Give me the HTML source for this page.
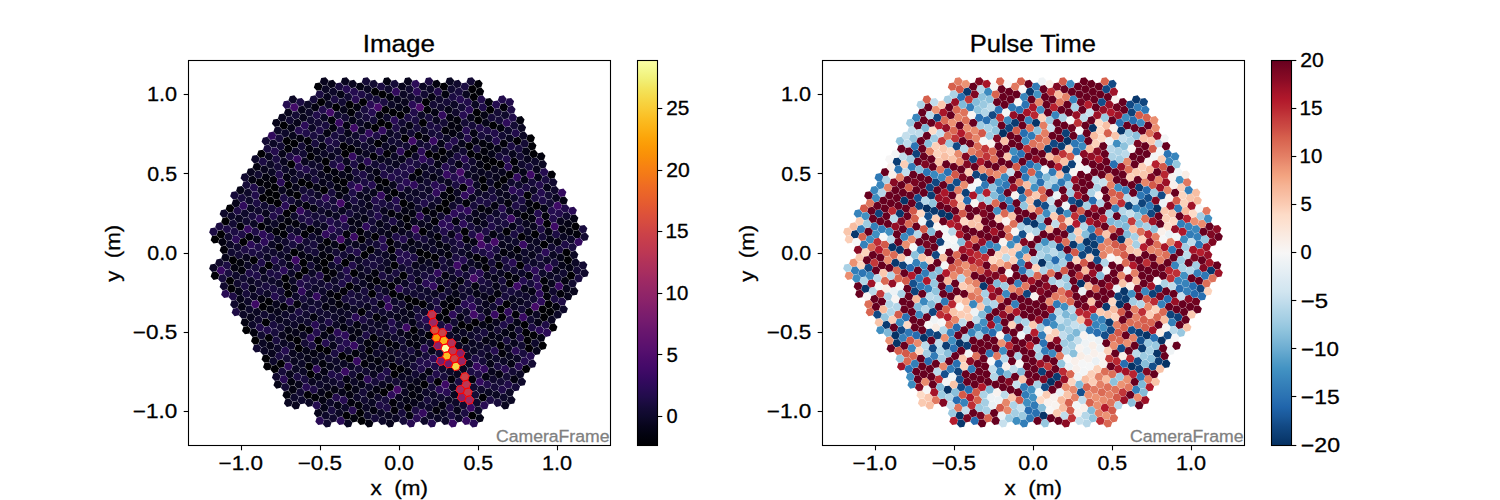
<!DOCTYPE html><html><head><meta charset="utf-8"><style>html,body{margin:0;padding:0;background:#fff;width:1500px;height:500px;overflow:hidden}svg{display:block}</style></head><body><svg width="1500" height="500" viewBox="0 0 1500 500">
<defs><path id="h" d="M4.38 -0.84 1.46 -4.21 -2.92 -3.37 -4.38 0.84 -1.46 4.21 2.92 3.37Z"/>
<path id="hr" d="M4.38 -0.84 1.46 -4.21 -2.92 -3.37 -4.38 0.84 -1.46 4.21 2.92 3.37Z" fill="none" stroke="#ff0000" stroke-width="1.0"/>
<linearGradient id="gi" x1="0" y1="0" x2="0" y2="1"><stop offset="0.000" stop-color="#fcffa4"/><stop offset="0.025" stop-color="#f4f88e"/><stop offset="0.050" stop-color="#f1ef75"/><stop offset="0.075" stop-color="#f3e35a"/><stop offset="0.100" stop-color="#f6d746"/><stop offset="0.125" stop-color="#f9cb35"/><stop offset="0.150" stop-color="#fbbe23"/><stop offset="0.175" stop-color="#fcb216"/><stop offset="0.200" stop-color="#fca50a"/><stop offset="0.225" stop-color="#fb9906"/><stop offset="0.250" stop-color="#f98e09"/><stop offset="0.275" stop-color="#f78212"/><stop offset="0.300" stop-color="#f37819"/><stop offset="0.325" stop-color="#ef6c23"/><stop offset="0.350" stop-color="#ea632a"/><stop offset="0.375" stop-color="#e45a31"/><stop offset="0.400" stop-color="#dd513a"/><stop offset="0.425" stop-color="#d54a41"/><stop offset="0.450" stop-color="#cc4248"/><stop offset="0.475" stop-color="#c43c4e"/><stop offset="0.500" stop-color="#bc3754"/><stop offset="0.525" stop-color="#b1325a"/><stop offset="0.550" stop-color="#a82e5f"/><stop offset="0.575" stop-color="#9d2964"/><stop offset="0.600" stop-color="#932667"/><stop offset="0.625" stop-color="#8a226a"/><stop offset="0.650" stop-color="#7f1e6c"/><stop offset="0.675" stop-color="#751b6e"/><stop offset="0.700" stop-color="#6a176e"/><stop offset="0.725" stop-color="#61136e"/><stop offset="0.750" stop-color="#57106e"/><stop offset="0.775" stop-color="#4c0c6b"/><stop offset="0.800" stop-color="#420a68"/><stop offset="0.825" stop-color="#360961"/><stop offset="0.850" stop-color="#2b0b57"/><stop offset="0.875" stop-color="#210c4a"/><stop offset="0.900" stop-color="#160b39"/><stop offset="0.925" stop-color="#0e092b"/><stop offset="0.950" stop-color="#07051b"/><stop offset="0.975" stop-color="#02020e"/><stop offset="1.000" stop-color="#000004"/></linearGradient><linearGradient id="gr" x1="0" y1="0" x2="0" y2="1"><stop offset="0.000" stop-color="#67001f"/><stop offset="0.025" stop-color="#790622"/><stop offset="0.050" stop-color="#8a0b25"/><stop offset="0.075" stop-color="#9f1228"/><stop offset="0.100" stop-color="#b1182b"/><stop offset="0.125" stop-color="#ba2832"/><stop offset="0.150" stop-color="#c43b3c"/><stop offset="0.175" stop-color="#cc4c44"/><stop offset="0.200" stop-color="#d6604d"/><stop offset="0.225" stop-color="#dd7059"/><stop offset="0.250" stop-color="#e48066"/><stop offset="0.275" stop-color="#ec9374"/><stop offset="0.300" stop-color="#f3a481"/><stop offset="0.325" stop-color="#f6b394"/><stop offset="0.350" stop-color="#f8bfa4"/><stop offset="0.375" stop-color="#fbccb4"/><stop offset="0.400" stop-color="#fddbc7"/><stop offset="0.425" stop-color="#fce2d2"/><stop offset="0.450" stop-color="#fae9df"/><stop offset="0.475" stop-color="#f9f0eb"/><stop offset="0.500" stop-color="#f7f6f6"/><stop offset="0.525" stop-color="#edf2f5"/><stop offset="0.550" stop-color="#e4eef4"/><stop offset="0.575" stop-color="#dae9f2"/><stop offset="0.600" stop-color="#d1e5f0"/><stop offset="0.625" stop-color="#c2ddec"/><stop offset="0.650" stop-color="#b1d5e7"/><stop offset="0.675" stop-color="#a2cde3"/><stop offset="0.700" stop-color="#90c4dd"/><stop offset="0.725" stop-color="#7eb8d7"/><stop offset="0.750" stop-color="#6bacd1"/><stop offset="0.775" stop-color="#569fc9"/><stop offset="0.800" stop-color="#4393c3"/><stop offset="0.825" stop-color="#3a87bd"/><stop offset="0.850" stop-color="#327cb7"/><stop offset="0.875" stop-color="#2a71b2"/><stop offset="0.900" stop-color="#2065ab"/><stop offset="0.925" stop-color="#1a5899"/><stop offset="0.950" stop-color="#124984"/><stop offset="0.975" stop-color="#0c3d73"/><stop offset="1.000" stop-color="#053061"/></linearGradient>
<clipPath id="cl"><rect x="188.5" y="60.5" width="422" height="385"/></clipPath>
<clipPath id="cr"><rect x="822.5" y="60.5" width="422" height="385"/></clipPath>
</defs>
<rect width="1500" height="500" fill="#fff"/>
<g font-family='"Liberation Sans", sans-serif' font-size="19" fill="#000">
<g clip-path="url(#cl)">
<use href="#h" x="294.3" y="397.5" fill="#0e092b"/>
<use href="#h" x="300.3" y="392.3" fill="#120a32"/>
<use href="#h" x="288.3" y="402.7" fill="#0a0722"/>
<use href="#h" x="292.8" y="389.7" fill="#030210"/>
<use href="#h" x="295.8" y="405.3" fill="#08051d"/>
<use href="#h" x="286.8" y="394.9" fill="#02020e"/>
<use href="#h" x="301.8" y="400.1" fill="#0e092b"/>
<use href="#h" x="283.8" y="379.3" fill="#280b53"/>
<use href="#h" x="289.8" y="374.2" fill="#07051b"/>
<use href="#h" x="277.8" y="384.5" fill="#050417"/>
<use href="#h" x="282.3" y="371.6" fill="#160b39"/>
<use href="#h" x="285.3" y="387.1" fill="#140b34"/>
<use href="#h" x="276.3" y="376.8" fill="#10092d"/>
<use href="#h" x="291.3" y="381.9" fill="#02020e"/>
<use href="#h" x="273.4" y="361.2" fill="#0d0829"/>
<use href="#h" x="279.3" y="356.0" fill="#1b0c41"/>
<use href="#h" x="267.4" y="366.4" fill="#010005"/>
<use href="#h" x="271.9" y="353.4" fill="#08051d"/>
<use href="#h" x="274.8" y="369.0" fill="#000004"/>
<use href="#h" x="265.9" y="358.6" fill="#010106"/>
<use href="#h" x="280.8" y="363.8" fill="#000004"/>
<use href="#h" x="262.9" y="343.1" fill="#0a0722"/>
<use href="#h" x="268.9" y="337.9" fill="#010106"/>
<use href="#h" x="256.9" y="348.3" fill="#120a32"/>
<use href="#h" x="261.4" y="335.3" fill="#110a30"/>
<use href="#h" x="264.4" y="350.8" fill="#0b0724"/>
<use href="#h" x="255.4" y="340.5" fill="#000004"/>
<use href="#h" x="270.4" y="345.7" fill="#060419"/>
<use href="#h" x="252.4" y="324.9" fill="#0d0829"/>
<use href="#h" x="258.4" y="319.8" fill="#10092d"/>
<use href="#h" x="246.4" y="330.1" fill="#000004"/>
<use href="#h" x="250.9" y="317.2" fill="#07051b"/>
<use href="#h" x="253.9" y="332.7" fill="#02020e"/>
<use href="#h" x="244.9" y="322.4" fill="#040312"/>
<use href="#h" x="259.9" y="327.5" fill="#210c4a"/>
<use href="#h" x="241.9" y="306.8" fill="#040312"/>
<use href="#h" x="247.9" y="301.6" fill="#0d0829"/>
<use href="#h" x="236.0" y="312.0" fill="#1e0c45"/>
<use href="#h" x="240.4" y="299.0" fill="#060419"/>
<use href="#h" x="243.4" y="314.6" fill="#0c0826"/>
<use href="#h" x="234.5" y="304.2" fill="#10092d"/>
<use href="#h" x="249.4" y="309.4" fill="#0e092b"/>
<use href="#h" x="231.5" y="288.7" fill="#010106"/>
<use href="#h" x="237.5" y="283.5" fill="#10092d"/>
<use href="#h" x="225.5" y="293.9" fill="#280b53"/>
<use href="#h" x="230.0" y="280.9" fill="#000004"/>
<use href="#h" x="233.0" y="296.4" fill="#1e0c45"/>
<use href="#h" x="224.0" y="286.1" fill="#10092d"/>
<use href="#h" x="238.9" y="291.3" fill="#050417"/>
<use href="#h" x="221.0" y="270.5" fill="#380962"/>
<use href="#h" x="227.0" y="265.4" fill="#1c0c43"/>
<use href="#h" x="215.0" y="275.7" fill="#010108"/>
<use href="#h" x="219.5" y="262.8" fill="#10092d"/>
<use href="#h" x="222.5" y="278.3" fill="#180c3c"/>
<use href="#h" x="213.5" y="267.9" fill="#0b0724"/>
<use href="#h" x="228.5" y="273.1" fill="#190c3e"/>
<use href="#h" x="325.7" y="415.6" fill="#0d0829"/>
<use href="#h" x="331.7" y="410.4" fill="#190c3e"/>
<use href="#h" x="319.7" y="420.8" fill="#290b55"/>
<use href="#h" x="324.2" y="407.8" fill="#050417"/>
<use href="#h" x="327.2" y="423.4" fill="#110a30"/>
<use href="#h" x="318.2" y="413.0" fill="#07051b"/>
<use href="#h" x="333.2" y="418.2" fill="#10092d"/>
<use href="#h" x="315.2" y="397.5" fill="#010108"/>
<use href="#h" x="321.2" y="392.3" fill="#060419"/>
<use href="#h" x="309.3" y="402.7" fill="#0b0724"/>
<use href="#h" x="313.7" y="389.7" fill="#1e0c45"/>
<use href="#h" x="316.7" y="405.3" fill="#240c4f"/>
<use href="#h" x="307.8" y="394.9" fill="#010005"/>
<use href="#h" x="322.7" y="400.1" fill="#040312"/>
<use href="#h" x="304.8" y="379.3" fill="#190c3e"/>
<use href="#h" x="310.7" y="374.2" fill="#000004"/>
<use href="#h" x="298.8" y="384.5" fill="#07051b"/>
<use href="#h" x="303.3" y="371.6" fill="#0c0826"/>
<use href="#h" x="306.3" y="387.1" fill="#260c51"/>
<use href="#h" x="297.3" y="376.8" fill="#1b0c41"/>
<use href="#h" x="312.2" y="381.9" fill="#09061f"/>
<use href="#h" x="294.3" y="361.2" fill="#09061f"/>
<use href="#h" x="300.3" y="356.0" fill="#0a0722"/>
<use href="#h" x="288.3" y="366.4" fill="#2d0b59"/>
<use href="#h" x="292.8" y="353.4" fill="#08051d"/>
<use href="#h" x="295.8" y="369.0" fill="#0a0722"/>
<use href="#h" x="286.8" y="358.6" fill="#140b34"/>
<use href="#h" x="301.8" y="363.8" fill="#0c0826"/>
<use href="#h" x="283.8" y="343.1" fill="#0b0724"/>
<use href="#h" x="289.8" y="337.9" fill="#02010a"/>
<use href="#h" x="277.8" y="348.3" fill="#0d0829"/>
<use href="#h" x="282.3" y="335.3" fill="#08051d"/>
<use href="#h" x="285.3" y="350.8" fill="#240c4f"/>
<use href="#h" x="276.3" y="340.5" fill="#190c3e"/>
<use href="#h" x="291.3" y="345.7" fill="#0d0829"/>
<use href="#h" x="273.4" y="324.9" fill="#190c3e"/>
<use href="#h" x="279.3" y="319.8" fill="#09061f"/>
<use href="#h" x="267.4" y="330.1" fill="#210c4a"/>
<use href="#h" x="271.9" y="317.2" fill="#0d0829"/>
<use href="#h" x="274.8" y="332.7" fill="#180c3c"/>
<use href="#h" x="265.9" y="322.4" fill="#010106"/>
<use href="#h" x="280.8" y="327.5" fill="#140b34"/>
<use href="#h" x="262.9" y="306.8" fill="#000004"/>
<use href="#h" x="268.9" y="301.6" fill="#000004"/>
<use href="#h" x="256.9" y="312.0" fill="#0a0722"/>
<use href="#h" x="261.4" y="299.0" fill="#030210"/>
<use href="#h" x="264.4" y="314.6" fill="#110a30"/>
<use href="#h" x="255.4" y="304.2" fill="#3d0965"/>
<use href="#h" x="270.4" y="309.4" fill="#040312"/>
<use href="#h" x="252.4" y="288.7" fill="#050417"/>
<use href="#h" x="258.4" y="283.5" fill="#110a30"/>
<use href="#h" x="246.4" y="293.9" fill="#160b39"/>
<use href="#h" x="250.9" y="280.9" fill="#0b0724"/>
<use href="#h" x="253.9" y="296.4" fill="#0b0724"/>
<use href="#h" x="244.9" y="286.1" fill="#1b0c41"/>
<use href="#h" x="259.9" y="291.3" fill="#160b39"/>
<use href="#h" x="241.9" y="270.5" fill="#02020c"/>
<use href="#h" x="247.9" y="265.4" fill="#0c0826"/>
<use href="#h" x="236.0" y="275.7" fill="#0e092b"/>
<use href="#h" x="240.4" y="262.8" fill="#02020c"/>
<use href="#h" x="243.4" y="278.3" fill="#120a32"/>
<use href="#h" x="234.5" y="267.9" fill="#030210"/>
<use href="#h" x="249.4" y="273.1" fill="#1f0c48"/>
<use href="#h" x="231.5" y="252.4" fill="#110a30"/>
<use href="#h" x="237.5" y="247.2" fill="#10092d"/>
<use href="#h" x="225.5" y="257.6" fill="#060419"/>
<use href="#h" x="230.0" y="244.6" fill="#0c0826"/>
<use href="#h" x="233.0" y="260.2" fill="#000004"/>
<use href="#h" x="224.0" y="249.8" fill="#02010a"/>
<use href="#h" x="238.9" y="255.0" fill="#140b34"/>
<use href="#h" x="221.0" y="234.3" fill="#000004"/>
<use href="#h" x="227.0" y="229.1" fill="#1e0c45"/>
<use href="#h" x="215.0" y="239.4" fill="#000004"/>
<use href="#h" x="219.5" y="226.5" fill="#1b0c41"/>
<use href="#h" x="222.5" y="242.0" fill="#030210"/>
<use href="#h" x="213.5" y="231.7" fill="#1c0c43"/>
<use href="#h" x="228.5" y="236.9" fill="#10092d"/>
<use href="#h" x="346.6" y="415.6" fill="#000004"/>
<use href="#h" x="352.6" y="410.4" fill="#260c51"/>
<use href="#h" x="340.7" y="420.8" fill="#290b55"/>
<use href="#h" x="345.2" y="407.8" fill="#0d0829"/>
<use href="#h" x="348.1" y="423.4" fill="#0a0722"/>
<use href="#h" x="339.2" y="413.0" fill="#0b0724"/>
<use href="#h" x="354.1" y="418.2" fill="#02020e"/>
<use href="#h" x="336.2" y="397.5" fill="#230c4c"/>
<use href="#h" x="342.2" y="392.3" fill="#060419"/>
<use href="#h" x="330.2" y="402.7" fill="#0d0829"/>
<use href="#h" x="334.7" y="389.7" fill="#040312"/>
<use href="#h" x="337.7" y="405.3" fill="#050417"/>
<use href="#h" x="328.7" y="394.9" fill="#010106"/>
<use href="#h" x="343.7" y="400.1" fill="#260c51"/>
<use href="#h" x="325.7" y="379.3" fill="#0c0826"/>
<use href="#h" x="331.7" y="374.2" fill="#1f0c48"/>
<use href="#h" x="319.7" y="384.5" fill="#0e092b"/>
<use href="#h" x="324.2" y="371.6" fill="#040314"/>
<use href="#h" x="327.2" y="387.1" fill="#09061f"/>
<use href="#h" x="318.2" y="376.8" fill="#060419"/>
<use href="#h" x="333.2" y="381.9" fill="#0e092b"/>
<use href="#h" x="315.2" y="361.2" fill="#09061f"/>
<use href="#h" x="321.2" y="356.0" fill="#0a0722"/>
<use href="#h" x="309.3" y="366.4" fill="#000004"/>
<use href="#h" x="313.7" y="353.4" fill="#040312"/>
<use href="#h" x="316.7" y="369.0" fill="#2f0a5b"/>
<use href="#h" x="307.8" y="358.6" fill="#050417"/>
<use href="#h" x="322.7" y="363.8" fill="#02020c"/>
<use href="#h" x="304.8" y="343.1" fill="#140b34"/>
<use href="#h" x="310.7" y="337.9" fill="#290b55"/>
<use href="#h" x="298.8" y="348.3" fill="#000004"/>
<use href="#h" x="303.3" y="335.3" fill="#0b0724"/>
<use href="#h" x="306.3" y="350.8" fill="#050417"/>
<use href="#h" x="297.3" y="340.5" fill="#000004"/>
<use href="#h" x="312.2" y="345.7" fill="#1b0c41"/>
<use href="#h" x="294.3" y="324.9" fill="#0d0829"/>
<use href="#h" x="300.3" y="319.8" fill="#0e092b"/>
<use href="#h" x="288.3" y="330.1" fill="#040314"/>
<use href="#h" x="292.8" y="317.2" fill="#150b37"/>
<use href="#h" x="295.8" y="332.7" fill="#060419"/>
<use href="#h" x="286.8" y="322.4" fill="#0c0826"/>
<use href="#h" x="301.8" y="327.5" fill="#02010a"/>
<use href="#h" x="283.8" y="306.8" fill="#010108"/>
<use href="#h" x="289.8" y="301.6" fill="#280b53"/>
<use href="#h" x="277.8" y="312.0" fill="#07051b"/>
<use href="#h" x="282.3" y="299.0" fill="#120a32"/>
<use href="#h" x="285.3" y="314.6" fill="#0d0829"/>
<use href="#h" x="276.3" y="304.2" fill="#08051d"/>
<use href="#h" x="291.3" y="309.4" fill="#07051b"/>
<use href="#h" x="273.4" y="288.7" fill="#190c3e"/>
<use href="#h" x="279.3" y="283.5" fill="#0a0722"/>
<use href="#h" x="267.4" y="293.9" fill="#0c0826"/>
<use href="#h" x="271.9" y="280.9" fill="#0e092b"/>
<use href="#h" x="274.8" y="296.4" fill="#240c4f"/>
<use href="#h" x="265.9" y="286.1" fill="#190c3e"/>
<use href="#h" x="280.8" y="291.3" fill="#150b37"/>
<use href="#h" x="262.9" y="270.5" fill="#060419"/>
<use href="#h" x="268.9" y="265.4" fill="#000004"/>
<use href="#h" x="256.9" y="275.7" fill="#1f0c48"/>
<use href="#h" x="261.4" y="262.8" fill="#1f0c48"/>
<use href="#h" x="264.4" y="278.3" fill="#0c0826"/>
<use href="#h" x="255.4" y="267.9" fill="#180c3c"/>
<use href="#h" x="270.4" y="273.1" fill="#1c0c43"/>
<use href="#h" x="252.4" y="252.4" fill="#1c0c43"/>
<use href="#h" x="258.4" y="247.2" fill="#1f0c48"/>
<use href="#h" x="246.4" y="257.6" fill="#08051d"/>
<use href="#h" x="250.9" y="244.6" fill="#2b0b57"/>
<use href="#h" x="253.9" y="260.2" fill="#010106"/>
<use href="#h" x="244.9" y="249.8" fill="#1e0c45"/>
<use href="#h" x="259.9" y="255.0" fill="#160b39"/>
<use href="#h" x="241.9" y="234.3" fill="#1e0c45"/>
<use href="#h" x="247.9" y="229.1" fill="#340a5f"/>
<use href="#h" x="236.0" y="239.4" fill="#2b0b57"/>
<use href="#h" x="240.4" y="226.5" fill="#010108"/>
<use href="#h" x="243.4" y="242.0" fill="#000004"/>
<use href="#h" x="234.5" y="231.7" fill="#1c0c43"/>
<use href="#h" x="249.4" y="236.9" fill="#02020c"/>
<use href="#h" x="231.5" y="216.1" fill="#0d0829"/>
<use href="#h" x="237.5" y="210.9" fill="#1e0c45"/>
<use href="#h" x="225.5" y="221.3" fill="#000004"/>
<use href="#h" x="230.0" y="208.4" fill="#000004"/>
<use href="#h" x="233.0" y="223.9" fill="#120a32"/>
<use href="#h" x="224.0" y="213.5" fill="#0e092b"/>
<use href="#h" x="239.0" y="218.7" fill="#0a0722"/>
<use href="#h" x="367.6" y="415.6" fill="#0e092b"/>
<use href="#h" x="373.6" y="410.4" fill="#030210"/>
<use href="#h" x="361.6" y="420.8" fill="#000004"/>
<use href="#h" x="366.1" y="407.8" fill="#0b0724"/>
<use href="#h" x="369.1" y="423.4" fill="#02020e"/>
<use href="#h" x="360.1" y="413.0" fill="#000004"/>
<use href="#h" x="375.1" y="418.2" fill="#160b39"/>
<use href="#h" x="357.1" y="397.5" fill="#0d0829"/>
<use href="#h" x="363.1" y="392.3" fill="#150b37"/>
<use href="#h" x="351.1" y="402.7" fill="#02020e"/>
<use href="#h" x="355.6" y="389.7" fill="#050417"/>
<use href="#h" x="358.6" y="405.3" fill="#02020c"/>
<use href="#h" x="349.6" y="394.9" fill="#030210"/>
<use href="#h" x="364.6" y="400.1" fill="#110a30"/>
<use href="#h" x="346.6" y="379.3" fill="#040312"/>
<use href="#h" x="352.6" y="374.2" fill="#140b34"/>
<use href="#h" x="340.7" y="384.5" fill="#140b34"/>
<use href="#h" x="345.2" y="371.6" fill="#380962"/>
<use href="#h" x="348.1" y="387.1" fill="#000004"/>
<use href="#h" x="339.2" y="376.8" fill="#1e0c45"/>
<use href="#h" x="354.1" y="381.9" fill="#0c0826"/>
<use href="#h" x="336.2" y="361.2" fill="#0d0829"/>
<use href="#h" x="342.2" y="356.0" fill="#000004"/>
<use href="#h" x="330.2" y="366.4" fill="#07051b"/>
<use href="#h" x="334.7" y="353.4" fill="#1b0c41"/>
<use href="#h" x="337.7" y="369.0" fill="#0c0826"/>
<use href="#h" x="328.7" y="358.6" fill="#10092d"/>
<use href="#h" x="343.7" y="363.8" fill="#0a0722"/>
<use href="#h" x="325.7" y="343.1" fill="#240c4f"/>
<use href="#h" x="331.7" y="337.9" fill="#0d0829"/>
<use href="#h" x="319.7" y="348.3" fill="#000004"/>
<use href="#h" x="324.2" y="335.3" fill="#040314"/>
<use href="#h" x="327.2" y="350.8" fill="#000004"/>
<use href="#h" x="318.2" y="340.5" fill="#000004"/>
<use href="#h" x="333.2" y="345.7" fill="#07051b"/>
<use href="#h" x="315.2" y="324.9" fill="#280b53"/>
<use href="#h" x="321.2" y="319.8" fill="#0e092b"/>
<use href="#h" x="309.3" y="330.1" fill="#010108"/>
<use href="#h" x="313.7" y="317.2" fill="#02020e"/>
<use href="#h" x="316.7" y="332.7" fill="#230c4c"/>
<use href="#h" x="307.8" y="322.4" fill="#110a30"/>
<use href="#h" x="322.7" y="327.5" fill="#0e092b"/>
<use href="#h" x="304.8" y="306.8" fill="#0d0829"/>
<use href="#h" x="310.7" y="301.6" fill="#0e092b"/>
<use href="#h" x="298.8" y="312.0" fill="#1c0c43"/>
<use href="#h" x="303.3" y="299.0" fill="#180c3c"/>
<use href="#h" x="306.3" y="314.6" fill="#110a30"/>
<use href="#h" x="297.3" y="304.2" fill="#02020c"/>
<use href="#h" x="312.2" y="309.4" fill="#160b39"/>
<use href="#h" x="294.3" y="288.7" fill="#050417"/>
<use href="#h" x="300.3" y="283.5" fill="#230c4c"/>
<use href="#h" x="288.3" y="293.9" fill="#010106"/>
<use href="#h" x="292.8" y="280.9" fill="#0c0826"/>
<use href="#h" x="295.8" y="296.4" fill="#0d0829"/>
<use href="#h" x="286.8" y="286.1" fill="#010005"/>
<use href="#h" x="301.8" y="291.3" fill="#310a5c"/>
<use href="#h" x="283.8" y="270.5" fill="#2b0b57"/>
<use href="#h" x="289.8" y="265.4" fill="#07051b"/>
<use href="#h" x="277.8" y="275.7" fill="#1c0c43"/>
<use href="#h" x="282.3" y="262.8" fill="#140b34"/>
<use href="#h" x="285.3" y="278.3" fill="#000004"/>
<use href="#h" x="276.3" y="267.9" fill="#120a32"/>
<use href="#h" x="291.3" y="273.1" fill="#0d0829"/>
<use href="#h" x="273.4" y="252.4" fill="#10092d"/>
<use href="#h" x="279.3" y="247.2" fill="#02010a"/>
<use href="#h" x="267.4" y="257.6" fill="#0a0722"/>
<use href="#h" x="271.9" y="244.6" fill="#0b0724"/>
<use href="#h" x="274.8" y="260.2" fill="#240c4f"/>
<use href="#h" x="265.9" y="249.8" fill="#140b34"/>
<use href="#h" x="280.8" y="255.0" fill="#0d0829"/>
<use href="#h" x="262.9" y="234.3" fill="#2d0b59"/>
<use href="#h" x="268.9" y="229.1" fill="#060419"/>
<use href="#h" x="256.9" y="239.4" fill="#08051d"/>
<use href="#h" x="261.4" y="226.5" fill="#000004"/>
<use href="#h" x="264.4" y="242.0" fill="#2d0b59"/>
<use href="#h" x="255.4" y="231.7" fill="#1f0c48"/>
<use href="#h" x="270.4" y="236.9" fill="#1f0c48"/>
<use href="#h" x="252.4" y="216.1" fill="#190c3e"/>
<use href="#h" x="258.4" y="210.9" fill="#10092d"/>
<use href="#h" x="246.4" y="221.3" fill="#110a30"/>
<use href="#h" x="250.9" y="208.4" fill="#0a0722"/>
<use href="#h" x="253.9" y="223.9" fill="#0b0724"/>
<use href="#h" x="244.9" y="213.5" fill="#0e092b"/>
<use href="#h" x="259.9" y="218.7" fill="#2b0b57"/>
<use href="#h" x="241.9" y="198.0" fill="#180c3c"/>
<use href="#h" x="247.9" y="192.8" fill="#0d0829"/>
<use href="#h" x="236.0" y="203.2" fill="#060419"/>
<use href="#h" x="240.4" y="190.2" fill="#050417"/>
<use href="#h" x="243.4" y="205.8" fill="#2f0a5b"/>
<use href="#h" x="234.5" y="195.4" fill="#160b39"/>
<use href="#h" x="249.4" y="200.6" fill="#0e092b"/>
<use href="#h" x="388.5" y="415.6" fill="#09061f"/>
<use href="#h" x="394.5" y="410.4" fill="#02010a"/>
<use href="#h" x="382.5" y="420.8" fill="#0d0829"/>
<use href="#h" x="387.0" y="407.8" fill="#1e0c45"/>
<use href="#h" x="390.0" y="423.4" fill="#08051d"/>
<use href="#h" x="381.0" y="413.0" fill="#0b0724"/>
<use href="#h" x="396.0" y="418.2" fill="#0b0724"/>
<use href="#h" x="378.1" y="397.5" fill="#10092d"/>
<use href="#h" x="384.0" y="392.3" fill="#000004"/>
<use href="#h" x="372.1" y="402.7" fill="#0a0722"/>
<use href="#h" x="376.6" y="389.7" fill="#030210"/>
<use href="#h" x="379.6" y="405.3" fill="#1e0c45"/>
<use href="#h" x="370.6" y="394.9" fill="#040312"/>
<use href="#h" x="385.5" y="400.1" fill="#180c3c"/>
<use href="#h" x="367.6" y="379.3" fill="#2d0b59"/>
<use href="#h" x="373.6" y="374.2" fill="#09061f"/>
<use href="#h" x="361.6" y="384.5" fill="#060419"/>
<use href="#h" x="366.1" y="371.6" fill="#110a30"/>
<use href="#h" x="369.1" y="387.1" fill="#0d0829"/>
<use href="#h" x="360.1" y="376.8" fill="#02020c"/>
<use href="#h" x="375.1" y="381.9" fill="#160b39"/>
<use href="#h" x="357.1" y="361.2" fill="#380962"/>
<use href="#h" x="363.1" y="356.0" fill="#0a0722"/>
<use href="#h" x="351.1" y="366.4" fill="#0b0724"/>
<use href="#h" x="355.6" y="353.4" fill="#02020c"/>
<use href="#h" x="358.6" y="369.0" fill="#140b34"/>
<use href="#h" x="349.6" y="358.6" fill="#010106"/>
<use href="#h" x="364.6" y="363.8" fill="#02010a"/>
<use href="#h" x="346.6" y="343.1" fill="#260c51"/>
<use href="#h" x="352.6" y="337.9" fill="#030210"/>
<use href="#h" x="340.7" y="348.3" fill="#230c4c"/>
<use href="#h" x="345.2" y="335.3" fill="#2d0b59"/>
<use href="#h" x="348.1" y="350.8" fill="#120a32"/>
<use href="#h" x="339.2" y="340.5" fill="#180c3c"/>
<use href="#h" x="354.1" y="345.7" fill="#360961"/>
<use href="#h" x="336.2" y="324.9" fill="#0b0724"/>
<use href="#h" x="342.2" y="319.8" fill="#060419"/>
<use href="#h" x="330.2" y="330.1" fill="#010005"/>
<use href="#h" x="334.7" y="317.2" fill="#0e092b"/>
<use href="#h" x="337.7" y="332.7" fill="#2b0b57"/>
<use href="#h" x="328.7" y="322.4" fill="#1f0c48"/>
<use href="#h" x="343.7" y="327.5" fill="#02020e"/>
<use href="#h" x="325.7" y="306.8" fill="#030210"/>
<use href="#h" x="331.7" y="301.6" fill="#07051b"/>
<use href="#h" x="319.7" y="312.0" fill="#120a32"/>
<use href="#h" x="324.2" y="299.0" fill="#0b0724"/>
<use href="#h" x="327.2" y="314.6" fill="#110a30"/>
<use href="#h" x="318.2" y="304.2" fill="#120a32"/>
<use href="#h" x="333.2" y="309.4" fill="#0a0722"/>
<use href="#h" x="315.2" y="288.7" fill="#0d0829"/>
<use href="#h" x="321.2" y="283.5" fill="#110a30"/>
<use href="#h" x="309.3" y="293.9" fill="#0c0826"/>
<use href="#h" x="313.7" y="280.9" fill="#160b39"/>
<use href="#h" x="316.7" y="296.4" fill="#340a5f"/>
<use href="#h" x="307.8" y="286.1" fill="#180c3c"/>
<use href="#h" x="322.7" y="291.3" fill="#0e092b"/>
<use href="#h" x="304.8" y="270.5" fill="#000004"/>
<use href="#h" x="310.7" y="265.4" fill="#150b37"/>
<use href="#h" x="298.8" y="275.7" fill="#000004"/>
<use href="#h" x="303.3" y="262.8" fill="#000004"/>
<use href="#h" x="306.3" y="278.3" fill="#1e0c45"/>
<use href="#h" x="297.3" y="267.9" fill="#1b0c41"/>
<use href="#h" x="312.2" y="273.1" fill="#0c0826"/>
<use href="#h" x="294.3" y="252.4" fill="#000004"/>
<use href="#h" x="300.3" y="247.2" fill="#09061f"/>
<use href="#h" x="288.3" y="257.6" fill="#050417"/>
<use href="#h" x="292.8" y="244.6" fill="#190c3e"/>
<use href="#h" x="295.8" y="260.2" fill="#3d0965"/>
<use href="#h" x="286.8" y="249.8" fill="#110a30"/>
<use href="#h" x="301.8" y="255.0" fill="#040312"/>
<use href="#h" x="283.8" y="234.3" fill="#010108"/>
<use href="#h" x="289.8" y="229.1" fill="#0d0829"/>
<use href="#h" x="277.8" y="239.4" fill="#0b0724"/>
<use href="#h" x="282.3" y="226.5" fill="#010108"/>
<use href="#h" x="285.3" y="242.0" fill="#10092d"/>
<use href="#h" x="276.3" y="231.7" fill="#010108"/>
<use href="#h" x="291.3" y="236.9" fill="#230c4c"/>
<use href="#h" x="273.4" y="216.1" fill="#210c4a"/>
<use href="#h" x="279.3" y="210.9" fill="#230c4c"/>
<use href="#h" x="267.4" y="221.3" fill="#07051b"/>
<use href="#h" x="271.9" y="208.4" fill="#160b39"/>
<use href="#h" x="274.8" y="223.9" fill="#0c0826"/>
<use href="#h" x="265.9" y="213.5" fill="#08051d"/>
<use href="#h" x="280.8" y="218.7" fill="#09061f"/>
<use href="#h" x="262.9" y="198.0" fill="#010005"/>
<use href="#h" x="268.9" y="192.8" fill="#000004"/>
<use href="#h" x="256.9" y="203.2" fill="#1c0c43"/>
<use href="#h" x="261.4" y="190.2" fill="#0b0724"/>
<use href="#h" x="264.4" y="205.8" fill="#110a30"/>
<use href="#h" x="255.4" y="195.4" fill="#210c4a"/>
<use href="#h" x="270.4" y="200.6" fill="#000004"/>
<use href="#h" x="252.4" y="179.9" fill="#040312"/>
<use href="#h" x="258.4" y="174.7" fill="#110a30"/>
<use href="#h" x="246.4" y="185.0" fill="#150b37"/>
<use href="#h" x="250.9" y="172.1" fill="#09061f"/>
<use href="#h" x="253.9" y="187.6" fill="#210c4a"/>
<use href="#h" x="244.9" y="177.3" fill="#110a30"/>
<use href="#h" x="259.9" y="182.4" fill="#010108"/>
<use href="#h" x="409.5" y="415.6" fill="#02020e"/>
<use href="#h" x="415.5" y="410.4" fill="#1c0c43"/>
<use href="#h" x="403.5" y="420.8" fill="#160b39"/>
<use href="#h" x="408.0" y="407.8" fill="#000004"/>
<use href="#h" x="411.0" y="423.4" fill="#280b53"/>
<use href="#h" x="402.0" y="413.0" fill="#180c3c"/>
<use href="#h" x="416.9" y="418.2" fill="#280b53"/>
<use href="#h" x="399.0" y="397.5" fill="#08051d"/>
<use href="#h" x="405.0" y="392.3" fill="#0a0722"/>
<use href="#h" x="393.0" y="402.7" fill="#02010a"/>
<use href="#h" x="397.5" y="389.7" fill="#440a68"/>
<use href="#h" x="400.5" y="405.3" fill="#0b0724"/>
<use href="#h" x="391.5" y="394.9" fill="#2d0b59"/>
<use href="#h" x="406.5" y="400.1" fill="#050417"/>
<use href="#h" x="388.5" y="379.3" fill="#110a30"/>
<use href="#h" x="394.5" y="374.2" fill="#000004"/>
<use href="#h" x="382.5" y="384.5" fill="#09061f"/>
<use href="#h" x="387.0" y="371.6" fill="#1f0c48"/>
<use href="#h" x="390.0" y="387.1" fill="#010106"/>
<use href="#h" x="381.0" y="376.8" fill="#230c4c"/>
<use href="#h" x="396.0" y="381.9" fill="#140b34"/>
<use href="#h" x="378.1" y="361.2" fill="#02020c"/>
<use href="#h" x="384.0" y="356.0" fill="#07051b"/>
<use href="#h" x="372.1" y="366.4" fill="#08051d"/>
<use href="#h" x="376.6" y="353.4" fill="#0d0829"/>
<use href="#h" x="379.6" y="369.0" fill="#060419"/>
<use href="#h" x="370.6" y="358.6" fill="#040312"/>
<use href="#h" x="385.5" y="363.8" fill="#0a0722"/>
<use href="#h" x="367.6" y="343.1" fill="#02020c"/>
<use href="#h" x="373.6" y="337.9" fill="#010106"/>
<use href="#h" x="361.6" y="348.3" fill="#0d0829"/>
<use href="#h" x="366.1" y="335.3" fill="#1e0c45"/>
<use href="#h" x="369.1" y="350.8" fill="#000004"/>
<use href="#h" x="360.1" y="340.5" fill="#0e092b"/>
<use href="#h" x="375.1" y="345.7" fill="#050417"/>
<use href="#h" x="357.1" y="324.9" fill="#02020e"/>
<use href="#h" x="363.1" y="319.8" fill="#1e0c45"/>
<use href="#h" x="351.1" y="330.1" fill="#07051b"/>
<use href="#h" x="355.6" y="317.2" fill="#2b0b57"/>
<use href="#h" x="358.6" y="332.7" fill="#040312"/>
<use href="#h" x="349.6" y="322.4" fill="#150b37"/>
<use href="#h" x="364.6" y="327.5" fill="#0b0724"/>
<use href="#h" x="346.6" y="306.8" fill="#040314"/>
<use href="#h" x="352.6" y="301.6" fill="#180c3c"/>
<use href="#h" x="340.7" y="312.0" fill="#0b0724"/>
<use href="#h" x="345.2" y="299.0" fill="#180c3c"/>
<use href="#h" x="348.1" y="314.6" fill="#0d0829"/>
<use href="#h" x="339.2" y="304.2" fill="#02010a"/>
<use href="#h" x="354.1" y="309.4" fill="#0c0826"/>
<use href="#h" x="336.2" y="288.7" fill="#0e092b"/>
<use href="#h" x="342.2" y="283.5" fill="#1f0c48"/>
<use href="#h" x="330.2" y="293.9" fill="#030210"/>
<use href="#h" x="334.7" y="280.9" fill="#0d0829"/>
<use href="#h" x="337.7" y="296.4" fill="#000004"/>
<use href="#h" x="328.7" y="286.1" fill="#190c3e"/>
<use href="#h" x="343.7" y="291.3" fill="#02010a"/>
<use href="#h" x="325.7" y="270.5" fill="#000004"/>
<use href="#h" x="331.7" y="265.4" fill="#0d0829"/>
<use href="#h" x="319.7" y="275.7" fill="#230c4c"/>
<use href="#h" x="324.2" y="262.8" fill="#000004"/>
<use href="#h" x="327.2" y="278.3" fill="#02010a"/>
<use href="#h" x="318.2" y="267.9" fill="#040314"/>
<use href="#h" x="333.2" y="273.1" fill="#02010a"/>
<use href="#h" x="315.2" y="252.4" fill="#150b37"/>
<use href="#h" x="321.2" y="247.2" fill="#040312"/>
<use href="#h" x="309.3" y="257.6" fill="#040314"/>
<use href="#h" x="313.7" y="244.6" fill="#180c3c"/>
<use href="#h" x="316.7" y="260.2" fill="#040314"/>
<use href="#h" x="307.8" y="249.8" fill="#150b37"/>
<use href="#h" x="322.7" y="255.0" fill="#02020e"/>
<use href="#h" x="304.8" y="234.3" fill="#010108"/>
<use href="#h" x="310.7" y="229.1" fill="#000004"/>
<use href="#h" x="298.8" y="239.4" fill="#340a5f"/>
<use href="#h" x="303.3" y="226.5" fill="#09061f"/>
<use href="#h" x="306.3" y="242.0" fill="#120a32"/>
<use href="#h" x="297.3" y="231.7" fill="#0d0829"/>
<use href="#h" x="312.2" y="236.9" fill="#110a30"/>
<use href="#h" x="294.3" y="216.1" fill="#0e092b"/>
<use href="#h" x="300.3" y="210.9" fill="#360961"/>
<use href="#h" x="288.3" y="221.3" fill="#02020c"/>
<use href="#h" x="292.8" y="208.4" fill="#000004"/>
<use href="#h" x="295.8" y="223.9" fill="#02020c"/>
<use href="#h" x="286.8" y="213.5" fill="#010005"/>
<use href="#h" x="301.8" y="218.7" fill="#1b0c41"/>
<use href="#h" x="283.8" y="198.0" fill="#1c0c43"/>
<use href="#h" x="289.8" y="192.8" fill="#02020e"/>
<use href="#h" x="277.8" y="203.2" fill="#000004"/>
<use href="#h" x="282.3" y="190.2" fill="#09061f"/>
<use href="#h" x="285.3" y="205.8" fill="#290b55"/>
<use href="#h" x="276.3" y="195.4" fill="#000004"/>
<use href="#h" x="291.3" y="200.6" fill="#160b39"/>
<use href="#h" x="273.4" y="179.9" fill="#02010a"/>
<use href="#h" x="279.3" y="174.7" fill="#210c4a"/>
<use href="#h" x="267.4" y="185.0" fill="#02010a"/>
<use href="#h" x="271.9" y="172.1" fill="#0a0722"/>
<use href="#h" x="274.8" y="187.6" fill="#000004"/>
<use href="#h" x="265.9" y="177.3" fill="#02020e"/>
<use href="#h" x="280.8" y="182.4" fill="#290b55"/>
<use href="#h" x="262.9" y="161.7" fill="#1c0c43"/>
<use href="#h" x="268.9" y="156.5" fill="#08051d"/>
<use href="#h" x="256.9" y="166.9" fill="#030210"/>
<use href="#h" x="261.4" y="153.9" fill="#000004"/>
<use href="#h" x="264.4" y="169.5" fill="#08051d"/>
<use href="#h" x="255.4" y="159.1" fill="#0d0829"/>
<use href="#h" x="270.4" y="164.3" fill="#0c0826"/>
<use href="#h" x="430.4" y="415.6" fill="#0c0826"/>
<use href="#h" x="436.4" y="410.4" fill="#02010a"/>
<use href="#h" x="424.4" y="420.8" fill="#0d0829"/>
<use href="#h" x="428.9" y="407.8" fill="#0d0829"/>
<use href="#h" x="431.9" y="423.4" fill="#260c51"/>
<use href="#h" x="422.9" y="413.0" fill="#340a5f"/>
<use href="#h" x="437.9" y="418.2" fill="#0c0826"/>
<use href="#h" x="419.9" y="397.5" fill="#040312"/>
<use href="#h" x="425.9" y="392.3" fill="#0d0829"/>
<use href="#h" x="414.0" y="402.7" fill="#060419"/>
<use href="#h" x="418.4" y="389.7" fill="#040314"/>
<use href="#h" x="421.4" y="405.3" fill="#0d0829"/>
<use href="#h" x="412.5" y="394.9" fill="#02020c"/>
<use href="#h" x="427.4" y="400.1" fill="#180c3c"/>
<use href="#h" x="409.5" y="379.3" fill="#0c0826"/>
<use href="#h" x="415.5" y="374.2" fill="#120a32"/>
<use href="#h" x="403.5" y="384.5" fill="#0b0724"/>
<use href="#h" x="408.0" y="371.6" fill="#040314"/>
<use href="#h" x="411.0" y="387.1" fill="#02020e"/>
<use href="#h" x="402.0" y="376.8" fill="#0a0722"/>
<use href="#h" x="416.9" y="381.9" fill="#060419"/>
<use href="#h" x="399.0" y="361.2" fill="#120a32"/>
<use href="#h" x="405.0" y="356.0" fill="#0d0829"/>
<use href="#h" x="393.0" y="366.4" fill="#010005"/>
<use href="#h" x="397.5" y="353.4" fill="#0e092b"/>
<use href="#h" x="400.5" y="369.0" fill="#010005"/>
<use href="#h" x="391.5" y="358.6" fill="#050417"/>
<use href="#h" x="406.5" y="363.8" fill="#0a0722"/>
<use href="#h" x="388.5" y="343.1" fill="#000004"/>
<use href="#h" x="394.5" y="337.9" fill="#10092d"/>
<use href="#h" x="382.5" y="348.3" fill="#110a30"/>
<use href="#h" x="387.0" y="335.3" fill="#0b0724"/>
<use href="#h" x="390.0" y="350.9" fill="#08051d"/>
<use href="#h" x="381.0" y="340.5" fill="#09061f"/>
<use href="#h" x="396.0" y="345.7" fill="#02020e"/>
<use href="#h" x="378.1" y="324.9" fill="#0a0722"/>
<use href="#h" x="384.0" y="319.8" fill="#060419"/>
<use href="#h" x="372.1" y="330.1" fill="#10092d"/>
<use href="#h" x="376.6" y="317.2" fill="#010108"/>
<use href="#h" x="379.6" y="332.7" fill="#120a32"/>
<use href="#h" x="370.6" y="322.4" fill="#10092d"/>
<use href="#h" x="385.5" y="327.5" fill="#0c0826"/>
<use href="#h" x="367.6" y="306.8" fill="#08051d"/>
<use href="#h" x="373.6" y="301.6" fill="#180c3c"/>
<use href="#h" x="361.6" y="312.0" fill="#000004"/>
<use href="#h" x="366.1" y="299.0" fill="#160b39"/>
<use href="#h" x="369.1" y="314.6" fill="#120a32"/>
<use href="#h" x="360.1" y="304.2" fill="#120a32"/>
<use href="#h" x="375.1" y="309.4" fill="#150b37"/>
<use href="#h" x="357.1" y="288.7" fill="#050417"/>
<use href="#h" x="363.1" y="283.5" fill="#0a0722"/>
<use href="#h" x="351.1" y="293.9" fill="#190c3e"/>
<use href="#h" x="355.6" y="280.9" fill="#150b37"/>
<use href="#h" x="358.6" y="296.4" fill="#110a30"/>
<use href="#h" x="349.6" y="286.1" fill="#000004"/>
<use href="#h" x="364.6" y="291.3" fill="#180c3c"/>
<use href="#h" x="346.6" y="270.5" fill="#240c4f"/>
<use href="#h" x="352.6" y="265.4" fill="#210c4a"/>
<use href="#h" x="340.7" y="275.7" fill="#120a32"/>
<use href="#h" x="345.2" y="262.8" fill="#000004"/>
<use href="#h" x="348.1" y="278.3" fill="#1f0c48"/>
<use href="#h" x="339.2" y="267.9" fill="#0c0826"/>
<use href="#h" x="354.1" y="273.1" fill="#000004"/>
<use href="#h" x="336.2" y="252.4" fill="#140b34"/>
<use href="#h" x="342.2" y="247.2" fill="#000004"/>
<use href="#h" x="330.2" y="257.6" fill="#010106"/>
<use href="#h" x="334.7" y="244.6" fill="#050417"/>
<use href="#h" x="337.7" y="260.2" fill="#260c51"/>
<use href="#h" x="328.7" y="249.8" fill="#09061f"/>
<use href="#h" x="343.7" y="255.0" fill="#120a32"/>
<use href="#h" x="325.7" y="234.3" fill="#310a5c"/>
<use href="#h" x="331.7" y="229.1" fill="#2d0b59"/>
<use href="#h" x="319.7" y="239.4" fill="#0c0826"/>
<use href="#h" x="324.2" y="226.5" fill="#0a0722"/>
<use href="#h" x="327.2" y="242.0" fill="#010106"/>
<use href="#h" x="318.2" y="231.7" fill="#040314"/>
<use href="#h" x="333.2" y="236.9" fill="#150b37"/>
<use href="#h" x="315.2" y="216.1" fill="#150b37"/>
<use href="#h" x="321.2" y="210.9" fill="#10092d"/>
<use href="#h" x="309.3" y="221.3" fill="#210c4a"/>
<use href="#h" x="313.7" y="208.4" fill="#040312"/>
<use href="#h" x="316.7" y="223.9" fill="#0d0829"/>
<use href="#h" x="307.8" y="213.5" fill="#1b0c41"/>
<use href="#h" x="322.7" y="218.7" fill="#180c3c"/>
<use href="#h" x="304.8" y="198.0" fill="#230c4c"/>
<use href="#h" x="310.7" y="192.8" fill="#150b37"/>
<use href="#h" x="298.8" y="203.2" fill="#09061f"/>
<use href="#h" x="303.3" y="190.2" fill="#140b34"/>
<use href="#h" x="306.3" y="205.8" fill="#02020c"/>
<use href="#h" x="297.3" y="195.4" fill="#000004"/>
<use href="#h" x="312.2" y="200.6" fill="#180c3c"/>
<use href="#h" x="294.3" y="179.9" fill="#0d0829"/>
<use href="#h" x="300.3" y="174.7" fill="#140b34"/>
<use href="#h" x="288.3" y="185.0" fill="#000004"/>
<use href="#h" x="292.8" y="172.1" fill="#09061f"/>
<use href="#h" x="295.8" y="187.6" fill="#060419"/>
<use href="#h" x="286.8" y="177.3" fill="#030210"/>
<use href="#h" x="301.8" y="182.4" fill="#000004"/>
<use href="#h" x="283.8" y="161.7" fill="#09061f"/>
<use href="#h" x="289.8" y="156.5" fill="#1e0c45"/>
<use href="#h" x="277.8" y="166.9" fill="#150b37"/>
<use href="#h" x="282.3" y="153.9" fill="#060419"/>
<use href="#h" x="285.3" y="169.5" fill="#0d0829"/>
<use href="#h" x="276.3" y="159.1" fill="#1b0c41"/>
<use href="#h" x="291.3" y="164.3" fill="#000004"/>
<use href="#h" x="273.4" y="143.6" fill="#0c0826"/>
<use href="#h" x="279.3" y="138.4" fill="#180c3c"/>
<use href="#h" x="267.4" y="148.8" fill="#190c3e"/>
<use href="#h" x="271.9" y="135.8" fill="#310a5c"/>
<use href="#h" x="274.8" y="151.4" fill="#230c4c"/>
<use href="#h" x="265.9" y="141.0" fill="#140b34"/>
<use href="#h" x="280.8" y="146.2" fill="#120a32"/>
<use href="#h" x="451.4" y="415.6" fill="#1c0c43"/>
<use href="#h" x="457.3" y="410.4" fill="#060419"/>
<use href="#h" x="445.4" y="420.8" fill="#0d0829"/>
<use href="#h" x="449.9" y="407.8" fill="#1e0c45"/>
<use href="#h" x="452.8" y="423.4" fill="#360961"/>
<use href="#h" x="443.9" y="413.0" fill="#0b0724"/>
<use href="#h" x="458.8" y="418.2" fill="#0d0829"/>
<use href="#h" x="440.9" y="397.5" fill="#110a30"/>
<use href="#h" x="446.9" y="392.3" fill="#280b53"/>
<use href="#h" x="434.9" y="402.7" fill="#0d0829"/>
<use href="#h" x="439.4" y="389.7" fill="#2b0b57"/>
<use href="#h" x="442.4" y="405.3" fill="#02020e"/>
<use href="#h" x="433.4" y="394.9" fill="#0b0724"/>
<use href="#h" x="448.4" y="400.1" fill="#0b0724"/>
<use href="#h" x="430.4" y="379.3" fill="#1c0c43"/>
<use href="#h" x="436.4" y="374.2" fill="#210c4a"/>
<use href="#h" x="424.4" y="384.5" fill="#000004"/>
<use href="#h" x="428.9" y="371.6" fill="#030210"/>
<use href="#h" x="431.9" y="387.1" fill="#140b34"/>
<use href="#h" x="422.9" y="376.8" fill="#050417"/>
<use href="#h" x="437.9" y="381.9" fill="#000004"/>
<use href="#h" x="419.9" y="361.2" fill="#210c4a"/>
<use href="#h" x="425.9" y="356.0" fill="#160b39"/>
<use href="#h" x="414.0" y="366.4" fill="#160b39"/>
<use href="#h" x="418.4" y="353.4" fill="#07051b"/>
<use href="#h" x="421.4" y="369.0" fill="#210c4a"/>
<use href="#h" x="412.5" y="358.6" fill="#0a0722"/>
<use href="#h" x="427.4" y="363.8" fill="#230c4c"/>
<use href="#h" x="409.5" y="343.1" fill="#030210"/>
<use href="#h" x="415.5" y="337.9" fill="#030210"/>
<use href="#h" x="403.5" y="348.3" fill="#110a30"/>
<use href="#h" x="408.0" y="335.3" fill="#040314"/>
<use href="#h" x="411.0" y="350.9" fill="#190c3e"/>
<use href="#h" x="402.0" y="340.5" fill="#120a32"/>
<use href="#h" x="416.9" y="345.7" fill="#02020e"/>
<use href="#h" x="399.0" y="324.9" fill="#0e092b"/>
<use href="#h" x="405.0" y="319.8" fill="#09061f"/>
<use href="#h" x="393.0" y="330.1" fill="#1f0c48"/>
<use href="#h" x="397.5" y="317.2" fill="#050417"/>
<use href="#h" x="400.5" y="332.7" fill="#08051d"/>
<use href="#h" x="391.5" y="322.4" fill="#240c4f"/>
<use href="#h" x="406.5" y="327.5" fill="#3d0965"/>
<use href="#h" x="388.5" y="306.8" fill="#380962"/>
<use href="#h" x="394.5" y="301.6" fill="#0e092b"/>
<use href="#h" x="382.5" y="312.0" fill="#110a30"/>
<use href="#h" x="387.0" y="299.0" fill="#2d0b59"/>
<use href="#h" x="390.0" y="314.6" fill="#0c0826"/>
<use href="#h" x="381.1" y="304.2" fill="#02020e"/>
<use href="#h" x="396.0" y="309.4" fill="#10092d"/>
<use href="#h" x="378.1" y="288.7" fill="#150b37"/>
<use href="#h" x="384.0" y="283.5" fill="#040312"/>
<use href="#h" x="372.1" y="293.9" fill="#000004"/>
<use href="#h" x="376.6" y="280.9" fill="#000004"/>
<use href="#h" x="379.6" y="296.4" fill="#190c3e"/>
<use href="#h" x="370.6" y="286.1" fill="#040314"/>
<use href="#h" x="385.5" y="291.3" fill="#0c0826"/>
<use href="#h" x="367.6" y="270.5" fill="#110a30"/>
<use href="#h" x="373.6" y="265.4" fill="#190c3e"/>
<use href="#h" x="361.6" y="275.7" fill="#09061f"/>
<use href="#h" x="366.1" y="262.8" fill="#160b39"/>
<use href="#h" x="369.1" y="278.3" fill="#030210"/>
<use href="#h" x="360.1" y="267.9" fill="#09061f"/>
<use href="#h" x="375.1" y="273.1" fill="#02020c"/>
<use href="#h" x="357.1" y="252.4" fill="#230c4c"/>
<use href="#h" x="363.1" y="247.2" fill="#0d0829"/>
<use href="#h" x="351.1" y="257.6" fill="#040314"/>
<use href="#h" x="355.6" y="244.6" fill="#09061f"/>
<use href="#h" x="358.6" y="260.2" fill="#0b0724"/>
<use href="#h" x="349.6" y="249.8" fill="#1b0c41"/>
<use href="#h" x="364.6" y="255.0" fill="#000004"/>
<use href="#h" x="346.6" y="234.3" fill="#02020c"/>
<use href="#h" x="352.6" y="229.1" fill="#09061f"/>
<use href="#h" x="340.7" y="239.4" fill="#440a68"/>
<use href="#h" x="345.2" y="226.5" fill="#1f0c48"/>
<use href="#h" x="348.1" y="242.0" fill="#0c0826"/>
<use href="#h" x="339.2" y="231.7" fill="#1b0c41"/>
<use href="#h" x="354.1" y="236.9" fill="#390963"/>
<use href="#h" x="336.2" y="216.1" fill="#0a0722"/>
<use href="#h" x="342.2" y="210.9" fill="#09061f"/>
<use href="#h" x="330.2" y="221.3" fill="#240c4f"/>
<use href="#h" x="334.7" y="208.4" fill="#160b39"/>
<use href="#h" x="337.7" y="223.9" fill="#190c3e"/>
<use href="#h" x="328.7" y="213.5" fill="#07051b"/>
<use href="#h" x="343.7" y="218.7" fill="#360961"/>
<use href="#h" x="325.7" y="198.0" fill="#310a5c"/>
<use href="#h" x="331.7" y="192.8" fill="#180c3c"/>
<use href="#h" x="319.7" y="203.2" fill="#1b0c41"/>
<use href="#h" x="324.2" y="190.2" fill="#000004"/>
<use href="#h" x="327.2" y="205.8" fill="#190c3e"/>
<use href="#h" x="318.2" y="195.4" fill="#0b0724"/>
<use href="#h" x="333.2" y="200.6" fill="#150b37"/>
<use href="#h" x="315.2" y="179.9" fill="#190c3e"/>
<use href="#h" x="321.2" y="174.7" fill="#09061f"/>
<use href="#h" x="309.3" y="185.0" fill="#000004"/>
<use href="#h" x="313.7" y="172.1" fill="#140b34"/>
<use href="#h" x="316.7" y="187.6" fill="#040314"/>
<use href="#h" x="307.8" y="177.3" fill="#09061f"/>
<use href="#h" x="322.7" y="182.4" fill="#060419"/>
<use href="#h" x="304.8" y="161.7" fill="#09061f"/>
<use href="#h" x="310.7" y="156.5" fill="#000004"/>
<use href="#h" x="298.8" y="166.9" fill="#240c4f"/>
<use href="#h" x="303.3" y="153.9" fill="#120a32"/>
<use href="#h" x="306.3" y="169.5" fill="#230c4c"/>
<use href="#h" x="297.3" y="159.1" fill="#360961"/>
<use href="#h" x="312.2" y="164.3" fill="#0e092b"/>
<use href="#h" x="294.3" y="143.6" fill="#000004"/>
<use href="#h" x="300.3" y="138.4" fill="#030210"/>
<use href="#h" x="288.3" y="148.8" fill="#010108"/>
<use href="#h" x="292.8" y="135.8" fill="#07051b"/>
<use href="#h" x="295.8" y="151.4" fill="#10092d"/>
<use href="#h" x="286.8" y="141.0" fill="#000004"/>
<use href="#h" x="301.8" y="146.2" fill="#140b34"/>
<use href="#h" x="283.8" y="125.5" fill="#000004"/>
<use href="#h" x="289.8" y="120.3" fill="#120a32"/>
<use href="#h" x="277.8" y="130.6" fill="#0c0826"/>
<use href="#h" x="282.3" y="117.7" fill="#09061f"/>
<use href="#h" x="285.3" y="133.2" fill="#0d0829"/>
<use href="#h" x="276.3" y="122.9" fill="#060419"/>
<use href="#h" x="291.3" y="128.0" fill="#050417"/>
<use href="#h" x="472.3" y="415.6" fill="#000004"/>
<use href="#h" x="478.3" y="410.4" fill="#0d0829"/>
<use href="#h" x="466.3" y="420.8" fill="#340a5f"/>
<use href="#h" x="470.8" y="407.8" fill="#380962"/>
<use href="#h" x="473.8" y="423.4" fill="#280b53"/>
<use href="#h" x="464.8" y="413.0" fill="#1b0c41"/>
<use href="#h" x="479.8" y="418.2" fill="#050417"/>
<use href="#h" x="461.8" y="397.5" fill="#8a226a"/>
<use href="#h" x="467.8" y="392.3" fill="#c33b4f"/>
<use href="#h" x="455.8" y="402.7" fill="#0d0829"/>
<use href="#h" x="460.3" y="389.7" fill="#a62d60"/>
<use href="#h" x="463.3" y="405.3" fill="#10092d"/>
<use href="#h" x="454.3" y="394.9" fill="#08051d"/>
<use href="#h" x="469.3" y="400.1" fill="#a02a63"/>
<use href="#h" x="451.4" y="379.3" fill="#02010a"/>
<use href="#h" x="457.3" y="374.2" fill="#09061f"/>
<use href="#h" x="445.4" y="384.5" fill="#3d0965"/>
<use href="#h" x="449.9" y="371.6" fill="#0d0829"/>
<use href="#h" x="452.8" y="387.1" fill="#0a0722"/>
<use href="#h" x="443.9" y="376.8" fill="#180c3c"/>
<use href="#h" x="458.8" y="381.9" fill="#1b0c41"/>
<use href="#h" x="440.9" y="361.2" fill="#771c6d"/>
<use href="#h" x="446.9" y="356.0" fill="#fbbe23"/>
<use href="#h" x="434.9" y="366.4" fill="#1f0c48"/>
<use href="#h" x="439.4" y="353.4" fill="#120a32"/>
<use href="#h" x="442.4" y="369.0" fill="#10092d"/>
<use href="#h" x="433.4" y="358.6" fill="#2d0b59"/>
<use href="#h" x="448.4" y="363.8" fill="#771c6d"/>
<use href="#h" x="430.4" y="343.1" fill="#10092d"/>
<use href="#h" x="436.4" y="337.9" fill="#fb9b06"/>
<use href="#h" x="424.4" y="348.3" fill="#2b0b57"/>
<use href="#h" x="428.9" y="335.3" fill="#000004"/>
<use href="#h" x="431.9" y="350.9" fill="#050417"/>
<use href="#h" x="422.9" y="340.5" fill="#07051b"/>
<use href="#h" x="437.9" y="345.7" fill="#8a226a"/>
<use href="#h" x="419.9" y="324.9" fill="#180c3c"/>
<use href="#h" x="425.9" y="319.8" fill="#290b55"/>
<use href="#h" x="414.0" y="330.1" fill="#000004"/>
<use href="#h" x="418.4" y="317.2" fill="#1b0c41"/>
<use href="#h" x="421.4" y="332.7" fill="#0a0722"/>
<use href="#h" x="412.5" y="322.4" fill="#050417"/>
<use href="#h" x="427.4" y="327.5" fill="#180c3c"/>
<use href="#h" x="409.5" y="306.8" fill="#02020e"/>
<use href="#h" x="415.5" y="301.6" fill="#000004"/>
<use href="#h" x="403.5" y="312.0" fill="#09061f"/>
<use href="#h" x="408.0" y="299.0" fill="#000004"/>
<use href="#h" x="411.0" y="314.6" fill="#050417"/>
<use href="#h" x="402.0" y="304.2" fill="#140b34"/>
<use href="#h" x="416.9" y="309.4" fill="#140b34"/>
<use href="#h" x="399.0" y="288.7" fill="#2d0b59"/>
<use href="#h" x="405.0" y="283.5" fill="#0b0724"/>
<use href="#h" x="393.0" y="293.9" fill="#000004"/>
<use href="#h" x="397.5" y="280.9" fill="#040314"/>
<use href="#h" x="400.5" y="296.4" fill="#02020e"/>
<use href="#h" x="391.5" y="286.1" fill="#010108"/>
<use href="#h" x="406.5" y="291.3" fill="#150b37"/>
<use href="#h" x="388.5" y="270.5" fill="#050417"/>
<use href="#h" x="394.5" y="265.4" fill="#000004"/>
<use href="#h" x="382.5" y="275.7" fill="#1b0c41"/>
<use href="#h" x="387.0" y="262.8" fill="#0c0826"/>
<use href="#h" x="390.0" y="278.3" fill="#140b34"/>
<use href="#h" x="381.1" y="267.9" fill="#10092d"/>
<use href="#h" x="396.0" y="273.1" fill="#190c3e"/>
<use href="#h" x="378.1" y="252.4" fill="#0e092b"/>
<use href="#h" x="384.0" y="247.2" fill="#260c51"/>
<use href="#h" x="372.1" y="257.6" fill="#150b37"/>
<use href="#h" x="376.6" y="244.6" fill="#150b37"/>
<use href="#h" x="379.6" y="260.2" fill="#150b37"/>
<use href="#h" x="370.6" y="249.8" fill="#000004"/>
<use href="#h" x="385.5" y="255.0" fill="#0b0724"/>
<use href="#h" x="367.6" y="234.3" fill="#0a0722"/>
<use href="#h" x="373.6" y="229.1" fill="#110a30"/>
<use href="#h" x="361.6" y="239.4" fill="#010005"/>
<use href="#h" x="366.1" y="226.5" fill="#2f0a5b"/>
<use href="#h" x="369.1" y="242.0" fill="#10092d"/>
<use href="#h" x="360.1" y="231.7" fill="#010108"/>
<use href="#h" x="375.1" y="236.9" fill="#000004"/>
<use href="#h" x="357.1" y="216.1" fill="#0a0722"/>
<use href="#h" x="363.1" y="210.9" fill="#0c0826"/>
<use href="#h" x="351.1" y="221.3" fill="#040314"/>
<use href="#h" x="355.6" y="208.4" fill="#10092d"/>
<use href="#h" x="358.6" y="223.9" fill="#050417"/>
<use href="#h" x="349.6" y="213.5" fill="#180c3c"/>
<use href="#h" x="364.6" y="218.7" fill="#040314"/>
<use href="#h" x="346.6" y="198.0" fill="#0d0829"/>
<use href="#h" x="352.6" y="192.8" fill="#1f0c48"/>
<use href="#h" x="340.7" y="203.2" fill="#440a68"/>
<use href="#h" x="345.2" y="190.2" fill="#02020c"/>
<use href="#h" x="348.1" y="205.8" fill="#07051b"/>
<use href="#h" x="339.2" y="195.4" fill="#040312"/>
<use href="#h" x="354.1" y="200.6" fill="#1c0c43"/>
<use href="#h" x="336.2" y="179.9" fill="#010108"/>
<use href="#h" x="342.2" y="174.7" fill="#07051b"/>
<use href="#h" x="330.2" y="185.0" fill="#0d0829"/>
<use href="#h" x="334.7" y="172.1" fill="#02020e"/>
<use href="#h" x="337.7" y="187.6" fill="#02020e"/>
<use href="#h" x="328.7" y="177.3" fill="#07051b"/>
<use href="#h" x="343.7" y="182.4" fill="#000004"/>
<use href="#h" x="325.7" y="161.7" fill="#000004"/>
<use href="#h" x="331.7" y="156.5" fill="#08051d"/>
<use href="#h" x="319.7" y="166.9" fill="#10092d"/>
<use href="#h" x="324.2" y="153.9" fill="#0b0724"/>
<use href="#h" x="327.2" y="169.5" fill="#000004"/>
<use href="#h" x="318.2" y="159.1" fill="#07051b"/>
<use href="#h" x="333.2" y="164.3" fill="#1c0c43"/>
<use href="#h" x="315.2" y="143.6" fill="#180c3c"/>
<use href="#h" x="321.2" y="138.4" fill="#0c0826"/>
<use href="#h" x="309.3" y="148.8" fill="#030210"/>
<use href="#h" x="313.7" y="135.8" fill="#190c3e"/>
<use href="#h" x="316.7" y="151.4" fill="#060419"/>
<use href="#h" x="307.8" y="141.0" fill="#010108"/>
<use href="#h" x="322.7" y="146.2" fill="#040312"/>
<use href="#h" x="304.8" y="125.5" fill="#2b0b57"/>
<use href="#h" x="310.7" y="120.3" fill="#110a30"/>
<use href="#h" x="298.8" y="130.6" fill="#240c4f"/>
<use href="#h" x="303.3" y="117.7" fill="#07051b"/>
<use href="#h" x="306.3" y="133.2" fill="#1f0c48"/>
<use href="#h" x="297.3" y="122.9" fill="#060419"/>
<use href="#h" x="312.2" y="128.0" fill="#0b0724"/>
<use href="#h" x="294.3" y="107.3" fill="#420a68"/>
<use href="#h" x="300.3" y="102.1" fill="#1c0c43"/>
<use href="#h" x="288.3" y="112.5" fill="#07051b"/>
<use href="#h" x="292.8" y="99.5" fill="#0c0826"/>
<use href="#h" x="295.8" y="115.1" fill="#140b34"/>
<use href="#h" x="286.8" y="104.7" fill="#240c4f"/>
<use href="#h" x="301.8" y="109.9" fill="#07051b"/>
<use href="#h" x="482.8" y="397.5" fill="#000004"/>
<use href="#h" x="488.7" y="392.3" fill="#0a0722"/>
<use href="#h" x="476.8" y="402.7" fill="#0e092b"/>
<use href="#h" x="481.3" y="389.7" fill="#10092d"/>
<use href="#h" x="484.3" y="405.3" fill="#280b53"/>
<use href="#h" x="475.3" y="394.9" fill="#140b34"/>
<use href="#h" x="490.2" y="400.1" fill="#1c0c43"/>
<use href="#h" x="472.3" y="379.3" fill="#02010a"/>
<use href="#h" x="478.3" y="374.2" fill="#1e0c45"/>
<use href="#h" x="466.3" y="384.5" fill="#bc3754"/>
<use href="#h" x="470.8" y="371.6" fill="#1c0c43"/>
<use href="#h" x="473.8" y="387.1" fill="#120a32"/>
<use href="#h" x="464.8" y="376.8" fill="#cc4248"/>
<use href="#h" x="479.8" y="381.9" fill="#320a5e"/>
<use href="#h" x="461.8" y="361.2" fill="#932667"/>
<use href="#h" x="467.8" y="356.0" fill="#0c0826"/>
<use href="#h" x="455.8" y="366.4" fill="#f6d746"/>
<use href="#h" x="460.3" y="353.4" fill="#8a226a"/>
<use href="#h" x="463.3" y="369.0" fill="#08051d"/>
<use href="#h" x="454.3" y="358.6" fill="#cc4248"/>
<use href="#h" x="469.3" y="363.8" fill="#0a0722"/>
<use href="#h" x="451.4" y="343.1" fill="#b3325a"/>
<use href="#h" x="457.3" y="337.9" fill="#0c0826"/>
<use href="#h" x="445.4" y="348.3" fill="#fcffa4"/>
<use href="#h" x="449.9" y="335.3" fill="#0d0829"/>
<use href="#h" x="452.8" y="350.9" fill="#bc3754"/>
<use href="#h" x="443.9" y="340.5" fill="#fcb418"/>
<use href="#h" x="458.8" y="345.7" fill="#0a0722"/>
<use href="#h" x="440.9" y="324.9" fill="#190c3e"/>
<use href="#h" x="446.9" y="319.8" fill="#02010a"/>
<use href="#h" x="434.9" y="330.1" fill="#dd513a"/>
<use href="#h" x="439.4" y="317.2" fill="#02020c"/>
<use href="#h" x="442.4" y="332.7" fill="#cc4248"/>
<use href="#h" x="433.4" y="322.4" fill="#9b2964"/>
<use href="#h" x="448.4" y="327.5" fill="#380962"/>
<use href="#h" x="430.4" y="306.8" fill="#0b0724"/>
<use href="#h" x="436.4" y="301.6" fill="#1b0c41"/>
<use href="#h" x="424.4" y="312.0" fill="#10092d"/>
<use href="#h" x="428.9" y="299.0" fill="#10092d"/>
<use href="#h" x="431.9" y="314.6" fill="#bc3754"/>
<use href="#h" x="422.9" y="304.2" fill="#010005"/>
<use href="#h" x="437.9" y="309.4" fill="#210c4a"/>
<use href="#h" x="419.9" y="288.7" fill="#0d0829"/>
<use href="#h" x="425.9" y="283.5" fill="#290b55"/>
<use href="#h" x="414.0" y="293.9" fill="#110a30"/>
<use href="#h" x="418.4" y="280.9" fill="#050417"/>
<use href="#h" x="421.4" y="296.4" fill="#120a32"/>
<use href="#h" x="412.5" y="286.1" fill="#1b0c41"/>
<use href="#h" x="427.4" y="291.3" fill="#0e092b"/>
<use href="#h" x="409.5" y="270.5" fill="#160b39"/>
<use href="#h" x="415.5" y="265.4" fill="#07051b"/>
<use href="#h" x="403.5" y="275.7" fill="#000004"/>
<use href="#h" x="408.0" y="262.8" fill="#1e0c45"/>
<use href="#h" x="411.0" y="278.3" fill="#1b0c41"/>
<use href="#h" x="402.0" y="267.9" fill="#10092d"/>
<use href="#h" x="416.9" y="273.1" fill="#0e092b"/>
<use href="#h" x="399.0" y="252.4" fill="#210c4a"/>
<use href="#h" x="405.0" y="247.2" fill="#08051d"/>
<use href="#h" x="393.0" y="257.6" fill="#040314"/>
<use href="#h" x="397.5" y="244.6" fill="#0b0724"/>
<use href="#h" x="400.5" y="260.2" fill="#240c4f"/>
<use href="#h" x="391.5" y="249.8" fill="#000004"/>
<use href="#h" x="406.5" y="255.0" fill="#240c4f"/>
<use href="#h" x="388.5" y="234.3" fill="#050417"/>
<use href="#h" x="394.5" y="229.1" fill="#02010a"/>
<use href="#h" x="382.5" y="239.4" fill="#260c51"/>
<use href="#h" x="387.0" y="226.5" fill="#0c0826"/>
<use href="#h" x="390.0" y="242.0" fill="#010005"/>
<use href="#h" x="381.1" y="231.7" fill="#09061f"/>
<use href="#h" x="396.0" y="236.9" fill="#1f0c48"/>
<use href="#h" x="378.1" y="216.1" fill="#240c4f"/>
<use href="#h" x="384.0" y="210.9" fill="#08051d"/>
<use href="#h" x="372.1" y="221.3" fill="#150b37"/>
<use href="#h" x="376.6" y="208.4" fill="#1b0c41"/>
<use href="#h" x="379.6" y="223.9" fill="#050417"/>
<use href="#h" x="370.6" y="213.5" fill="#140b34"/>
<use href="#h" x="385.5" y="218.7" fill="#0d0829"/>
<use href="#h" x="367.6" y="198.0" fill="#060419"/>
<use href="#h" x="373.6" y="192.8" fill="#07051b"/>
<use href="#h" x="361.6" y="203.2" fill="#0e092b"/>
<use href="#h" x="366.1" y="190.2" fill="#0e092b"/>
<use href="#h" x="369.1" y="205.8" fill="#060419"/>
<use href="#h" x="360.1" y="195.4" fill="#08051d"/>
<use href="#h" x="375.1" y="200.6" fill="#230c4c"/>
<use href="#h" x="357.1" y="179.9" fill="#110a30"/>
<use href="#h" x="363.1" y="174.7" fill="#1e0c45"/>
<use href="#h" x="351.1" y="185.0" fill="#240c4f"/>
<use href="#h" x="355.6" y="172.1" fill="#180c3c"/>
<use href="#h" x="358.6" y="187.6" fill="#3d0965"/>
<use href="#h" x="349.6" y="177.3" fill="#040312"/>
<use href="#h" x="364.6" y="182.4" fill="#1c0c43"/>
<use href="#h" x="346.6" y="161.7" fill="#09061f"/>
<use href="#h" x="352.6" y="156.5" fill="#340a5f"/>
<use href="#h" x="340.7" y="166.9" fill="#310a5c"/>
<use href="#h" x="345.2" y="153.9" fill="#000004"/>
<use href="#h" x="348.1" y="169.5" fill="#02020e"/>
<use href="#h" x="339.2" y="159.1" fill="#190c3e"/>
<use href="#h" x="354.1" y="164.3" fill="#1c0c43"/>
<use href="#h" x="336.2" y="143.6" fill="#1b0c41"/>
<use href="#h" x="342.2" y="138.4" fill="#0d0829"/>
<use href="#h" x="330.2" y="148.8" fill="#150b37"/>
<use href="#h" x="334.7" y="135.8" fill="#190c3e"/>
<use href="#h" x="337.7" y="151.4" fill="#0d0829"/>
<use href="#h" x="328.7" y="141.0" fill="#210c4a"/>
<use href="#h" x="343.7" y="146.2" fill="#000004"/>
<use href="#h" x="325.7" y="125.5" fill="#190c3e"/>
<use href="#h" x="331.7" y="120.3" fill="#02020c"/>
<use href="#h" x="319.7" y="130.6" fill="#1f0c48"/>
<use href="#h" x="324.2" y="117.7" fill="#0b0724"/>
<use href="#h" x="327.2" y="133.2" fill="#030210"/>
<use href="#h" x="318.2" y="122.9" fill="#140b34"/>
<use href="#h" x="333.2" y="128.0" fill="#030210"/>
<use href="#h" x="315.2" y="107.3" fill="#030210"/>
<use href="#h" x="321.2" y="102.1" fill="#000004"/>
<use href="#h" x="309.3" y="112.5" fill="#0d0829"/>
<use href="#h" x="313.7" y="99.5" fill="#160b39"/>
<use href="#h" x="316.7" y="115.1" fill="#210c4a"/>
<use href="#h" x="307.8" y="104.7" fill="#0c0826"/>
<use href="#h" x="322.7" y="109.9" fill="#210c4a"/>
<use href="#h" x="503.7" y="397.5" fill="#0e092b"/>
<use href="#h" x="509.7" y="392.3" fill="#0c0826"/>
<use href="#h" x="497.7" y="402.7" fill="#180c3c"/>
<use href="#h" x="502.2" y="389.7" fill="#210c4a"/>
<use href="#h" x="505.2" y="405.3" fill="#09061f"/>
<use href="#h" x="496.2" y="394.9" fill="#0a0722"/>
<use href="#h" x="511.2" y="400.1" fill="#0b0724"/>
<use href="#h" x="493.2" y="379.3" fill="#10092d"/>
<use href="#h" x="499.2" y="374.2" fill="#030210"/>
<use href="#h" x="487.3" y="384.5" fill="#210c4a"/>
<use href="#h" x="491.7" y="371.6" fill="#08051d"/>
<use href="#h" x="494.7" y="387.1" fill="#160b39"/>
<use href="#h" x="485.8" y="376.8" fill="#040312"/>
<use href="#h" x="500.7" y="381.9" fill="#140b34"/>
<use href="#h" x="482.8" y="361.2" fill="#150b37"/>
<use href="#h" x="488.7" y="356.0" fill="#08051d"/>
<use href="#h" x="476.8" y="366.4" fill="#380962"/>
<use href="#h" x="481.3" y="353.4" fill="#140b34"/>
<use href="#h" x="484.3" y="369.0" fill="#320a5e"/>
<use href="#h" x="475.3" y="358.6" fill="#1f0c48"/>
<use href="#h" x="490.2" y="363.8" fill="#050417"/>
<use href="#h" x="472.3" y="343.1" fill="#09061f"/>
<use href="#h" x="478.3" y="337.9" fill="#150b37"/>
<use href="#h" x="466.3" y="348.3" fill="#0e092b"/>
<use href="#h" x="470.8" y="335.3" fill="#0e092b"/>
<use href="#h" x="473.8" y="350.9" fill="#0a0722"/>
<use href="#h" x="464.8" y="340.5" fill="#000004"/>
<use href="#h" x="479.8" y="345.7" fill="#0b0724"/>
<use href="#h" x="461.8" y="324.9" fill="#000004"/>
<use href="#h" x="467.8" y="319.8" fill="#140b34"/>
<use href="#h" x="455.8" y="330.1" fill="#040314"/>
<use href="#h" x="460.3" y="317.2" fill="#040314"/>
<use href="#h" x="463.3" y="332.7" fill="#0b0724"/>
<use href="#h" x="454.3" y="322.4" fill="#120a32"/>
<use href="#h" x="469.3" y="327.5" fill="#000004"/>
<use href="#h" x="451.4" y="306.8" fill="#000004"/>
<use href="#h" x="457.3" y="301.6" fill="#02020c"/>
<use href="#h" x="445.4" y="312.0" fill="#000004"/>
<use href="#h" x="449.9" y="299.0" fill="#02020e"/>
<use href="#h" x="452.8" y="314.6" fill="#2d0b59"/>
<use href="#h" x="443.9" y="304.2" fill="#02020c"/>
<use href="#h" x="458.8" y="309.4" fill="#190c3e"/>
<use href="#h" x="440.9" y="288.7" fill="#010005"/>
<use href="#h" x="446.9" y="283.5" fill="#120a32"/>
<use href="#h" x="434.9" y="293.9" fill="#09061f"/>
<use href="#h" x="439.4" y="280.9" fill="#0d0829"/>
<use href="#h" x="442.4" y="296.4" fill="#180c3c"/>
<use href="#h" x="433.4" y="286.1" fill="#320a5e"/>
<use href="#h" x="448.4" y="291.3" fill="#110a30"/>
<use href="#h" x="430.4" y="270.5" fill="#10092d"/>
<use href="#h" x="436.4" y="265.4" fill="#02020e"/>
<use href="#h" x="424.4" y="275.7" fill="#180c3c"/>
<use href="#h" x="428.9" y="262.8" fill="#0a0722"/>
<use href="#h" x="431.9" y="278.3" fill="#1c0c43"/>
<use href="#h" x="422.9" y="267.9" fill="#0d0829"/>
<use href="#h" x="437.9" y="273.1" fill="#310a5c"/>
<use href="#h" x="419.9" y="252.4" fill="#000004"/>
<use href="#h" x="425.9" y="247.2" fill="#0a0722"/>
<use href="#h" x="414.0" y="257.6" fill="#1e0c45"/>
<use href="#h" x="418.4" y="244.6" fill="#09061f"/>
<use href="#h" x="421.4" y="260.2" fill="#040312"/>
<use href="#h" x="412.5" y="249.8" fill="#0a0722"/>
<use href="#h" x="427.4" y="255.0" fill="#000004"/>
<use href="#h" x="409.5" y="234.3" fill="#10092d"/>
<use href="#h" x="415.5" y="229.1" fill="#420a68"/>
<use href="#h" x="403.5" y="239.4" fill="#240c4f"/>
<use href="#h" x="408.0" y="226.5" fill="#02010a"/>
<use href="#h" x="411.0" y="242.0" fill="#030210"/>
<use href="#h" x="402.0" y="231.7" fill="#08051d"/>
<use href="#h" x="416.9" y="236.9" fill="#210c4a"/>
<use href="#h" x="399.0" y="216.1" fill="#040312"/>
<use href="#h" x="405.0" y="210.9" fill="#040314"/>
<use href="#h" x="393.0" y="221.3" fill="#1e0c45"/>
<use href="#h" x="397.5" y="208.4" fill="#1e0c45"/>
<use href="#h" x="400.5" y="223.9" fill="#09061f"/>
<use href="#h" x="391.5" y="213.5" fill="#02010a"/>
<use href="#h" x="406.5" y="218.7" fill="#000004"/>
<use href="#h" x="388.5" y="198.0" fill="#040314"/>
<use href="#h" x="394.5" y="192.8" fill="#000004"/>
<use href="#h" x="382.5" y="203.2" fill="#1b0c41"/>
<use href="#h" x="387.0" y="190.2" fill="#050417"/>
<use href="#h" x="390.0" y="205.8" fill="#160b39"/>
<use href="#h" x="381.1" y="195.4" fill="#340a5f"/>
<use href="#h" x="396.0" y="200.6" fill="#240c4f"/>
<use href="#h" x="378.1" y="179.9" fill="#010108"/>
<use href="#h" x="384.0" y="174.7" fill="#1e0c45"/>
<use href="#h" x="372.1" y="185.0" fill="#240c4f"/>
<use href="#h" x="376.6" y="172.1" fill="#040314"/>
<use href="#h" x="379.6" y="187.6" fill="#02020e"/>
<use href="#h" x="370.6" y="177.3" fill="#0c0826"/>
<use href="#h" x="385.5" y="182.4" fill="#000004"/>
<use href="#h" x="367.6" y="161.7" fill="#2b0b57"/>
<use href="#h" x="373.6" y="156.5" fill="#000004"/>
<use href="#h" x="361.6" y="166.9" fill="#02010a"/>
<use href="#h" x="366.1" y="153.9" fill="#0a0722"/>
<use href="#h" x="369.1" y="169.5" fill="#0b0724"/>
<use href="#h" x="360.1" y="159.1" fill="#110a30"/>
<use href="#h" x="375.1" y="164.3" fill="#120a32"/>
<use href="#h" x="357.1" y="143.6" fill="#0b0724"/>
<use href="#h" x="363.1" y="138.4" fill="#230c4c"/>
<use href="#h" x="351.1" y="148.8" fill="#000004"/>
<use href="#h" x="355.6" y="135.8" fill="#0e092b"/>
<use href="#h" x="358.6" y="151.4" fill="#040314"/>
<use href="#h" x="349.6" y="141.0" fill="#10092d"/>
<use href="#h" x="364.6" y="146.2" fill="#110a30"/>
<use href="#h" x="346.6" y="125.5" fill="#030210"/>
<use href="#h" x="352.6" y="120.3" fill="#050417"/>
<use href="#h" x="340.7" y="130.6" fill="#1c0c43"/>
<use href="#h" x="345.2" y="117.7" fill="#140b34"/>
<use href="#h" x="348.1" y="133.2" fill="#050417"/>
<use href="#h" x="339.2" y="122.9" fill="#380962"/>
<use href="#h" x="354.1" y="128.0" fill="#3e0966"/>
<use href="#h" x="336.2" y="107.3" fill="#000004"/>
<use href="#h" x="342.2" y="102.1" fill="#120a32"/>
<use href="#h" x="330.2" y="112.5" fill="#420a68"/>
<use href="#h" x="334.7" y="99.5" fill="#1c0c43"/>
<use href="#h" x="337.7" y="115.1" fill="#110a30"/>
<use href="#h" x="328.7" y="104.7" fill="#0b0724"/>
<use href="#h" x="343.7" y="109.9" fill="#060419"/>
<use href="#h" x="325.7" y="89.2" fill="#0b0724"/>
<use href="#h" x="331.7" y="84.0" fill="#060419"/>
<use href="#h" x="319.7" y="94.4" fill="#1b0c41"/>
<use href="#h" x="324.2" y="81.4" fill="#08051d"/>
<use href="#h" x="327.2" y="97.0" fill="#08051d"/>
<use href="#h" x="318.2" y="86.6" fill="#010108"/>
<use href="#h" x="333.2" y="91.8" fill="#0d0829"/>
<use href="#h" x="514.2" y="379.3" fill="#030210"/>
<use href="#h" x="520.2" y="374.2" fill="#0b0724"/>
<use href="#h" x="508.2" y="384.5" fill="#210c4a"/>
<use href="#h" x="512.7" y="371.6" fill="#140b34"/>
<use href="#h" x="515.7" y="387.1" fill="#160b39"/>
<use href="#h" x="506.7" y="376.8" fill="#140b34"/>
<use href="#h" x="521.7" y="381.9" fill="#0e092b"/>
<use href="#h" x="503.7" y="361.2" fill="#0c0826"/>
<use href="#h" x="509.7" y="356.0" fill="#09061f"/>
<use href="#h" x="497.7" y="366.4" fill="#1b0c41"/>
<use href="#h" x="502.2" y="353.4" fill="#02010a"/>
<use href="#h" x="505.2" y="369.0" fill="#280b53"/>
<use href="#h" x="496.2" y="358.6" fill="#0e092b"/>
<use href="#h" x="511.2" y="363.8" fill="#040314"/>
<use href="#h" x="493.2" y="343.1" fill="#07051b"/>
<use href="#h" x="499.2" y="337.9" fill="#050417"/>
<use href="#h" x="487.3" y="348.3" fill="#110a30"/>
<use href="#h" x="491.7" y="335.3" fill="#040314"/>
<use href="#h" x="494.7" y="350.9" fill="#240c4f"/>
<use href="#h" x="485.8" y="340.5" fill="#040312"/>
<use href="#h" x="500.7" y="345.7" fill="#000004"/>
<use href="#h" x="482.8" y="324.9" fill="#040314"/>
<use href="#h" x="488.7" y="319.8" fill="#000004"/>
<use href="#h" x="476.8" y="330.1" fill="#0d0829"/>
<use href="#h" x="481.3" y="317.2" fill="#210c4a"/>
<use href="#h" x="484.3" y="332.7" fill="#190c3e"/>
<use href="#h" x="475.3" y="322.4" fill="#010005"/>
<use href="#h" x="490.2" y="327.5" fill="#040314"/>
<use href="#h" x="472.3" y="306.8" fill="#320a5e"/>
<use href="#h" x="478.3" y="301.6" fill="#140b34"/>
<use href="#h" x="466.3" y="312.0" fill="#0e092b"/>
<use href="#h" x="470.8" y="299.0" fill="#210c4a"/>
<use href="#h" x="473.8" y="314.6" fill="#420a68"/>
<use href="#h" x="464.8" y="304.2" fill="#280b53"/>
<use href="#h" x="479.8" y="309.4" fill="#10092d"/>
<use href="#h" x="461.8" y="288.7" fill="#140b34"/>
<use href="#h" x="467.8" y="283.5" fill="#190c3e"/>
<use href="#h" x="455.8" y="293.9" fill="#050417"/>
<use href="#h" x="460.3" y="280.9" fill="#02020c"/>
<use href="#h" x="463.3" y="296.4" fill="#0e092b"/>
<use href="#h" x="454.3" y="286.1" fill="#02020e"/>
<use href="#h" x="469.3" y="291.3" fill="#0d0829"/>
<use href="#h" x="451.4" y="270.5" fill="#10092d"/>
<use href="#h" x="457.3" y="265.4" fill="#3e0966"/>
<use href="#h" x="445.4" y="275.7" fill="#030210"/>
<use href="#h" x="449.9" y="262.8" fill="#0c0826"/>
<use href="#h" x="452.8" y="278.3" fill="#0b0724"/>
<use href="#h" x="443.9" y="267.9" fill="#150b37"/>
<use href="#h" x="458.8" y="273.1" fill="#210c4a"/>
<use href="#h" x="440.9" y="252.4" fill="#07051b"/>
<use href="#h" x="446.9" y="247.2" fill="#040312"/>
<use href="#h" x="434.9" y="257.6" fill="#000004"/>
<use href="#h" x="439.4" y="244.6" fill="#02020e"/>
<use href="#h" x="442.4" y="260.2" fill="#180c3c"/>
<use href="#h" x="433.4" y="249.8" fill="#0e092b"/>
<use href="#h" x="448.4" y="255.0" fill="#02020c"/>
<use href="#h" x="430.4" y="234.3" fill="#09061f"/>
<use href="#h" x="436.4" y="229.1" fill="#0e092b"/>
<use href="#h" x="424.4" y="239.4" fill="#160b39"/>
<use href="#h" x="428.9" y="226.5" fill="#060419"/>
<use href="#h" x="431.9" y="242.0" fill="#0a0722"/>
<use href="#h" x="422.9" y="231.7" fill="#000004"/>
<use href="#h" x="437.9" y="236.9" fill="#010108"/>
<use href="#h" x="419.9" y="216.1" fill="#2f0a5b"/>
<use href="#h" x="425.9" y="210.9" fill="#000004"/>
<use href="#h" x="414.0" y="221.3" fill="#09061f"/>
<use href="#h" x="418.4" y="208.4" fill="#110a30"/>
<use href="#h" x="421.4" y="223.9" fill="#09061f"/>
<use href="#h" x="412.5" y="213.5" fill="#040312"/>
<use href="#h" x="427.4" y="218.7" fill="#0d0829"/>
<use href="#h" x="409.5" y="198.0" fill="#0d0829"/>
<use href="#h" x="415.5" y="192.8" fill="#0c0826"/>
<use href="#h" x="403.5" y="203.2" fill="#000004"/>
<use href="#h" x="408.0" y="190.2" fill="#0c0826"/>
<use href="#h" x="411.0" y="205.8" fill="#030210"/>
<use href="#h" x="402.0" y="195.4" fill="#060419"/>
<use href="#h" x="416.9" y="200.6" fill="#120a32"/>
<use href="#h" x="399.0" y="179.9" fill="#190c3e"/>
<use href="#h" x="405.0" y="174.7" fill="#1e0c45"/>
<use href="#h" x="393.0" y="185.0" fill="#07051b"/>
<use href="#h" x="397.5" y="172.1" fill="#1f0c48"/>
<use href="#h" x="400.5" y="187.6" fill="#240c4f"/>
<use href="#h" x="391.5" y="177.3" fill="#230c4c"/>
<use href="#h" x="406.5" y="182.4" fill="#290b55"/>
<use href="#h" x="388.5" y="161.7" fill="#0c0826"/>
<use href="#h" x="394.5" y="156.5" fill="#0b0724"/>
<use href="#h" x="382.5" y="166.9" fill="#1c0c43"/>
<use href="#h" x="387.0" y="153.9" fill="#010005"/>
<use href="#h" x="390.0" y="169.5" fill="#110a30"/>
<use href="#h" x="381.1" y="159.1" fill="#07051b"/>
<use href="#h" x="396.0" y="164.3" fill="#09061f"/>
<use href="#h" x="378.1" y="143.6" fill="#000004"/>
<use href="#h" x="384.0" y="138.4" fill="#030210"/>
<use href="#h" x="372.1" y="148.8" fill="#0d0829"/>
<use href="#h" x="376.6" y="135.8" fill="#1e0c45"/>
<use href="#h" x="379.6" y="151.4" fill="#210c4a"/>
<use href="#h" x="370.6" y="141.0" fill="#0c0826"/>
<use href="#h" x="385.5" y="146.2" fill="#0b0724"/>
<use href="#h" x="367.6" y="125.5" fill="#040312"/>
<use href="#h" x="373.6" y="120.3" fill="#150b37"/>
<use href="#h" x="361.6" y="130.6" fill="#0a0722"/>
<use href="#h" x="366.1" y="117.7" fill="#180c3c"/>
<use href="#h" x="369.1" y="133.2" fill="#320a5e"/>
<use href="#h" x="360.1" y="122.9" fill="#0d0829"/>
<use href="#h" x="375.1" y="128.0" fill="#000004"/>
<use href="#h" x="357.1" y="107.3" fill="#030210"/>
<use href="#h" x="363.1" y="102.1" fill="#000004"/>
<use href="#h" x="351.1" y="112.5" fill="#010108"/>
<use href="#h" x="355.6" y="99.5" fill="#280b53"/>
<use href="#h" x="358.6" y="115.1" fill="#110a30"/>
<use href="#h" x="349.6" y="104.7" fill="#000004"/>
<use href="#h" x="364.6" y="109.9" fill="#190c3e"/>
<use href="#h" x="346.6" y="89.2" fill="#260c51"/>
<use href="#h" x="352.6" y="84.0" fill="#09061f"/>
<use href="#h" x="340.7" y="94.4" fill="#050417"/>
<use href="#h" x="345.2" y="81.4" fill="#09061f"/>
<use href="#h" x="348.1" y="97.0" fill="#120a32"/>
<use href="#h" x="339.2" y="86.6" fill="#190c3e"/>
<use href="#h" x="354.1" y="91.8" fill="#240c4f"/>
<use href="#h" x="524.6" y="361.2" fill="#240c4f"/>
<use href="#h" x="530.6" y="356.0" fill="#240c4f"/>
<use href="#h" x="518.7" y="366.4" fill="#280b53"/>
<use href="#h" x="523.2" y="353.4" fill="#190c3e"/>
<use href="#h" x="526.1" y="369.0" fill="#000004"/>
<use href="#h" x="517.2" y="358.6" fill="#0c0826"/>
<use href="#h" x="532.1" y="363.8" fill="#140b34"/>
<use href="#h" x="514.2" y="343.1" fill="#08051d"/>
<use href="#h" x="520.2" y="337.9" fill="#1e0c45"/>
<use href="#h" x="508.2" y="348.3" fill="#09061f"/>
<use href="#h" x="512.7" y="335.3" fill="#02020e"/>
<use href="#h" x="515.7" y="350.9" fill="#290b55"/>
<use href="#h" x="506.7" y="340.5" fill="#190c3e"/>
<use href="#h" x="521.7" y="345.7" fill="#110a30"/>
<use href="#h" x="503.7" y="324.9" fill="#1f0c48"/>
<use href="#h" x="509.7" y="319.8" fill="#210c4a"/>
<use href="#h" x="497.7" y="330.1" fill="#140b34"/>
<use href="#h" x="502.2" y="317.2" fill="#000004"/>
<use href="#h" x="505.2" y="332.7" fill="#050417"/>
<use href="#h" x="496.2" y="322.4" fill="#08051d"/>
<use href="#h" x="511.2" y="327.5" fill="#02020e"/>
<use href="#h" x="493.2" y="306.8" fill="#110a30"/>
<use href="#h" x="499.2" y="301.6" fill="#240c4f"/>
<use href="#h" x="487.3" y="312.0" fill="#07051b"/>
<use href="#h" x="491.7" y="299.0" fill="#02010a"/>
<use href="#h" x="494.7" y="314.6" fill="#380962"/>
<use href="#h" x="485.8" y="304.2" fill="#08051d"/>
<use href="#h" x="500.7" y="309.4" fill="#010106"/>
<use href="#h" x="482.8" y="288.7" fill="#120a32"/>
<use href="#h" x="488.7" y="283.5" fill="#150b37"/>
<use href="#h" x="476.8" y="293.9" fill="#040314"/>
<use href="#h" x="481.3" y="280.9" fill="#1c0c43"/>
<use href="#h" x="484.3" y="296.4" fill="#07051b"/>
<use href="#h" x="475.3" y="286.1" fill="#02020e"/>
<use href="#h" x="490.2" y="291.3" fill="#110a30"/>
<use href="#h" x="472.3" y="270.5" fill="#1c0c43"/>
<use href="#h" x="478.3" y="265.4" fill="#050417"/>
<use href="#h" x="466.3" y="275.7" fill="#140b34"/>
<use href="#h" x="470.8" y="262.8" fill="#0c0826"/>
<use href="#h" x="473.8" y="278.3" fill="#4a0c6b"/>
<use href="#h" x="464.8" y="267.9" fill="#040314"/>
<use href="#h" x="479.8" y="273.1" fill="#290b55"/>
<use href="#h" x="461.8" y="252.4" fill="#0d0829"/>
<use href="#h" x="467.8" y="247.2" fill="#0c0826"/>
<use href="#h" x="455.8" y="257.6" fill="#1b0c41"/>
<use href="#h" x="460.3" y="244.6" fill="#1e0c45"/>
<use href="#h" x="463.3" y="260.2" fill="#260c51"/>
<use href="#h" x="454.3" y="249.8" fill="#140b34"/>
<use href="#h" x="469.3" y="255.0" fill="#060419"/>
<use href="#h" x="451.4" y="234.3" fill="#060419"/>
<use href="#h" x="457.3" y="229.1" fill="#160b39"/>
<use href="#h" x="445.4" y="239.4" fill="#180c3c"/>
<use href="#h" x="449.9" y="226.5" fill="#290b55"/>
<use href="#h" x="452.8" y="242.0" fill="#150b37"/>
<use href="#h" x="443.9" y="231.7" fill="#210c4a"/>
<use href="#h" x="458.8" y="236.9" fill="#2b0b57"/>
<use href="#h" x="440.9" y="216.1" fill="#110a30"/>
<use href="#h" x="446.9" y="210.9" fill="#000004"/>
<use href="#h" x="434.9" y="221.3" fill="#010108"/>
<use href="#h" x="439.4" y="208.4" fill="#000004"/>
<use href="#h" x="442.4" y="223.9" fill="#2d0b59"/>
<use href="#h" x="433.4" y="213.5" fill="#030210"/>
<use href="#h" x="448.4" y="218.7" fill="#260c51"/>
<use href="#h" x="430.4" y="198.0" fill="#180c3c"/>
<use href="#h" x="436.4" y="192.8" fill="#310a5c"/>
<use href="#h" x="424.4" y="203.2" fill="#210c4a"/>
<use href="#h" x="428.9" y="190.2" fill="#0c0826"/>
<use href="#h" x="431.9" y="205.8" fill="#0b0724"/>
<use href="#h" x="422.9" y="195.4" fill="#10092d"/>
<use href="#h" x="437.9" y="200.6" fill="#110a30"/>
<use href="#h" x="419.9" y="179.9" fill="#07051b"/>
<use href="#h" x="425.9" y="174.7" fill="#0d0829"/>
<use href="#h" x="414.0" y="185.0" fill="#2f0a5b"/>
<use href="#h" x="418.4" y="172.1" fill="#000004"/>
<use href="#h" x="421.4" y="187.6" fill="#120a32"/>
<use href="#h" x="412.5" y="177.3" fill="#030210"/>
<use href="#h" x="427.4" y="182.4" fill="#110a30"/>
<use href="#h" x="409.5" y="161.7" fill="#1e0c45"/>
<use href="#h" x="415.5" y="156.5" fill="#0d0829"/>
<use href="#h" x="403.5" y="166.9" fill="#1c0c43"/>
<use href="#h" x="408.0" y="153.9" fill="#000004"/>
<use href="#h" x="411.0" y="169.5" fill="#230c4c"/>
<use href="#h" x="402.0" y="159.1" fill="#060419"/>
<use href="#h" x="417.0" y="164.3" fill="#190c3e"/>
<use href="#h" x="399.0" y="143.6" fill="#110a30"/>
<use href="#h" x="405.0" y="138.4" fill="#000004"/>
<use href="#h" x="393.0" y="148.8" fill="#040314"/>
<use href="#h" x="397.5" y="135.8" fill="#110a30"/>
<use href="#h" x="400.5" y="151.4" fill="#2d0b59"/>
<use href="#h" x="391.5" y="141.0" fill="#120a32"/>
<use href="#h" x="406.5" y="146.2" fill="#120a32"/>
<use href="#h" x="388.5" y="125.5" fill="#000004"/>
<use href="#h" x="394.5" y="120.3" fill="#290b55"/>
<use href="#h" x="382.5" y="130.6" fill="#320a5e"/>
<use href="#h" x="387.0" y="117.7" fill="#0e092b"/>
<use href="#h" x="390.0" y="133.2" fill="#0b0724"/>
<use href="#h" x="381.1" y="122.9" fill="#000004"/>
<use href="#h" x="396.0" y="128.0" fill="#1e0c45"/>
<use href="#h" x="378.1" y="107.3" fill="#470b6a"/>
<use href="#h" x="384.0" y="102.1" fill="#1b0c41"/>
<use href="#h" x="372.1" y="112.5" fill="#260c51"/>
<use href="#h" x="376.6" y="99.5" fill="#180c3c"/>
<use href="#h" x="379.6" y="115.1" fill="#02020e"/>
<use href="#h" x="370.6" y="104.7" fill="#280b53"/>
<use href="#h" x="385.5" y="109.9" fill="#010106"/>
<use href="#h" x="367.6" y="89.2" fill="#0b0724"/>
<use href="#h" x="373.6" y="84.0" fill="#120a32"/>
<use href="#h" x="361.6" y="94.4" fill="#1e0c45"/>
<use href="#h" x="366.1" y="81.4" fill="#150b37"/>
<use href="#h" x="369.1" y="97.0" fill="#150b37"/>
<use href="#h" x="360.1" y="86.6" fill="#040314"/>
<use href="#h" x="375.1" y="91.8" fill="#010106"/>
<use href="#h" x="535.1" y="343.1" fill="#0e092b"/>
<use href="#h" x="541.1" y="337.9" fill="#040314"/>
<use href="#h" x="529.1" y="348.3" fill="#010005"/>
<use href="#h" x="533.6" y="335.3" fill="#010106"/>
<use href="#h" x="536.6" y="350.9" fill="#07051b"/>
<use href="#h" x="527.6" y="340.5" fill="#000004"/>
<use href="#h" x="542.6" y="345.7" fill="#010005"/>
<use href="#h" x="524.6" y="324.9" fill="#000004"/>
<use href="#h" x="530.6" y="319.8" fill="#110a30"/>
<use href="#h" x="518.7" y="330.1" fill="#150b37"/>
<use href="#h" x="523.2" y="317.2" fill="#380962"/>
<use href="#h" x="526.1" y="332.7" fill="#000004"/>
<use href="#h" x="517.2" y="322.4" fill="#050417"/>
<use href="#h" x="532.1" y="327.5" fill="#1e0c45"/>
<use href="#h" x="514.2" y="306.8" fill="#0b0724"/>
<use href="#h" x="520.2" y="301.6" fill="#09061f"/>
<use href="#h" x="508.2" y="312.0" fill="#310a5c"/>
<use href="#h" x="512.7" y="299.0" fill="#09061f"/>
<use href="#h" x="515.7" y="314.6" fill="#010108"/>
<use href="#h" x="506.7" y="304.2" fill="#010005"/>
<use href="#h" x="521.7" y="309.4" fill="#140b34"/>
<use href="#h" x="503.7" y="288.7" fill="#140b34"/>
<use href="#h" x="509.7" y="283.5" fill="#010005"/>
<use href="#h" x="497.7" y="293.9" fill="#02020e"/>
<use href="#h" x="502.2" y="280.9" fill="#180c3c"/>
<use href="#h" x="505.2" y="296.4" fill="#180c3c"/>
<use href="#h" x="496.2" y="286.1" fill="#050417"/>
<use href="#h" x="511.2" y="291.3" fill="#190c3e"/>
<use href="#h" x="493.2" y="270.5" fill="#180c3c"/>
<use href="#h" x="499.2" y="265.4" fill="#000004"/>
<use href="#h" x="487.3" y="275.7" fill="#09061f"/>
<use href="#h" x="491.7" y="262.8" fill="#150b37"/>
<use href="#h" x="494.7" y="278.3" fill="#060419"/>
<use href="#h" x="485.8" y="267.9" fill="#000004"/>
<use href="#h" x="500.7" y="273.1" fill="#0a0722"/>
<use href="#h" x="482.8" y="252.4" fill="#1b0c41"/>
<use href="#h" x="488.7" y="247.2" fill="#2d0b59"/>
<use href="#h" x="476.8" y="257.6" fill="#000004"/>
<use href="#h" x="481.3" y="244.6" fill="#450a69"/>
<use href="#h" x="484.3" y="260.2" fill="#02010a"/>
<use href="#h" x="475.3" y="249.8" fill="#1f0c48"/>
<use href="#h" x="490.2" y="255.0" fill="#260c51"/>
<use href="#h" x="472.3" y="234.3" fill="#1f0c48"/>
<use href="#h" x="478.3" y="229.1" fill="#10092d"/>
<use href="#h" x="466.3" y="239.4" fill="#010108"/>
<use href="#h" x="470.8" y="226.5" fill="#190c3e"/>
<use href="#h" x="473.8" y="242.0" fill="#040314"/>
<use href="#h" x="464.8" y="231.7" fill="#000004"/>
<use href="#h" x="479.8" y="236.9" fill="#4a0c6b"/>
<use href="#h" x="461.8" y="216.1" fill="#1b0c41"/>
<use href="#h" x="467.8" y="210.9" fill="#320a5e"/>
<use href="#h" x="455.8" y="221.3" fill="#030210"/>
<use href="#h" x="460.3" y="208.4" fill="#2b0b57"/>
<use href="#h" x="463.3" y="223.9" fill="#2d0b59"/>
<use href="#h" x="454.3" y="213.5" fill="#2d0b59"/>
<use href="#h" x="469.3" y="218.7" fill="#0d0829"/>
<use href="#h" x="451.4" y="198.0" fill="#010108"/>
<use href="#h" x="457.3" y="192.8" fill="#0b0724"/>
<use href="#h" x="445.4" y="203.2" fill="#000004"/>
<use href="#h" x="449.9" y="190.2" fill="#000004"/>
<use href="#h" x="452.8" y="205.8" fill="#10092d"/>
<use href="#h" x="443.9" y="195.4" fill="#02020e"/>
<use href="#h" x="458.8" y="200.6" fill="#0b0724"/>
<use href="#h" x="440.9" y="179.9" fill="#0c0826"/>
<use href="#h" x="446.9" y="174.7" fill="#360961"/>
<use href="#h" x="434.9" y="185.0" fill="#280b53"/>
<use href="#h" x="439.4" y="172.1" fill="#0d0829"/>
<use href="#h" x="442.4" y="187.6" fill="#240c4f"/>
<use href="#h" x="433.4" y="177.3" fill="#040312"/>
<use href="#h" x="448.4" y="182.4" fill="#09061f"/>
<use href="#h" x="430.4" y="161.7" fill="#1e0c45"/>
<use href="#h" x="436.4" y="156.5" fill="#010106"/>
<use href="#h" x="424.4" y="166.9" fill="#0a0722"/>
<use href="#h" x="428.9" y="154.0" fill="#010005"/>
<use href="#h" x="431.9" y="169.5" fill="#10092d"/>
<use href="#h" x="422.9" y="159.1" fill="#2f0a5b"/>
<use href="#h" x="437.9" y="164.3" fill="#040314"/>
<use href="#h" x="419.9" y="143.6" fill="#110a30"/>
<use href="#h" x="425.9" y="138.4" fill="#030210"/>
<use href="#h" x="414.0" y="148.8" fill="#010108"/>
<use href="#h" x="418.4" y="135.8" fill="#010106"/>
<use href="#h" x="421.4" y="151.4" fill="#2b0b57"/>
<use href="#h" x="412.5" y="141.0" fill="#400a67"/>
<use href="#h" x="427.4" y="146.2" fill="#160b39"/>
<use href="#h" x="409.5" y="125.5" fill="#040314"/>
<use href="#h" x="415.5" y="120.3" fill="#1b0c41"/>
<use href="#h" x="403.5" y="130.6" fill="#09061f"/>
<use href="#h" x="408.0" y="117.7" fill="#1c0c43"/>
<use href="#h" x="411.0" y="133.2" fill="#120a32"/>
<use href="#h" x="402.0" y="122.9" fill="#120a32"/>
<use href="#h" x="417.0" y="128.0" fill="#180c3c"/>
<use href="#h" x="399.0" y="107.3" fill="#060419"/>
<use href="#h" x="405.0" y="102.1" fill="#08051d"/>
<use href="#h" x="393.0" y="112.5" fill="#000004"/>
<use href="#h" x="397.5" y="99.5" fill="#08051d"/>
<use href="#h" x="400.5" y="115.1" fill="#000004"/>
<use href="#h" x="391.5" y="104.7" fill="#0c0826"/>
<use href="#h" x="406.5" y="109.9" fill="#02020e"/>
<use href="#h" x="388.5" y="89.2" fill="#10092d"/>
<use href="#h" x="394.5" y="84.0" fill="#150b37"/>
<use href="#h" x="382.5" y="94.4" fill="#000004"/>
<use href="#h" x="387.0" y="81.4" fill="#040312"/>
<use href="#h" x="390.0" y="97.0" fill="#02020e"/>
<use href="#h" x="381.1" y="86.6" fill="#1b0c41"/>
<use href="#h" x="396.0" y="91.8" fill="#310a5c"/>
<use href="#h" x="545.6" y="324.9" fill="#1e0c45"/>
<use href="#h" x="551.6" y="319.8" fill="#09061f"/>
<use href="#h" x="539.6" y="330.1" fill="#2b0b57"/>
<use href="#h" x="544.1" y="317.2" fill="#000004"/>
<use href="#h" x="547.1" y="332.7" fill="#2b0b57"/>
<use href="#h" x="538.1" y="322.4" fill="#050417"/>
<use href="#h" x="553.1" y="327.5" fill="#000004"/>
<use href="#h" x="535.1" y="306.8" fill="#450a69"/>
<use href="#h" x="541.1" y="301.6" fill="#2d0b59"/>
<use href="#h" x="529.1" y="312.0" fill="#02020c"/>
<use href="#h" x="533.6" y="299.0" fill="#110a30"/>
<use href="#h" x="536.6" y="314.6" fill="#0b0724"/>
<use href="#h" x="527.6" y="304.2" fill="#10092d"/>
<use href="#h" x="542.6" y="309.4" fill="#000004"/>
<use href="#h" x="524.6" y="288.7" fill="#050417"/>
<use href="#h" x="530.6" y="283.5" fill="#160b39"/>
<use href="#h" x="518.7" y="293.9" fill="#110a30"/>
<use href="#h" x="523.2" y="280.9" fill="#240c4f"/>
<use href="#h" x="526.1" y="296.4" fill="#10092d"/>
<use href="#h" x="517.2" y="286.1" fill="#3e0966"/>
<use href="#h" x="532.1" y="291.3" fill="#040314"/>
<use href="#h" x="514.2" y="270.5" fill="#120a32"/>
<use href="#h" x="520.2" y="265.4" fill="#000004"/>
<use href="#h" x="508.2" y="275.7" fill="#010106"/>
<use href="#h" x="512.7" y="262.8" fill="#280b53"/>
<use href="#h" x="515.7" y="278.3" fill="#02020e"/>
<use href="#h" x="506.7" y="267.9" fill="#160b39"/>
<use href="#h" x="521.7" y="273.1" fill="#0d0829"/>
<use href="#h" x="503.7" y="252.4" fill="#02020c"/>
<use href="#h" x="509.7" y="247.2" fill="#09061f"/>
<use href="#h" x="497.7" y="257.6" fill="#07051b"/>
<use href="#h" x="502.2" y="244.6" fill="#07051b"/>
<use href="#h" x="505.2" y="260.2" fill="#1b0c41"/>
<use href="#h" x="496.2" y="249.8" fill="#190c3e"/>
<use href="#h" x="511.2" y="255.0" fill="#060419"/>
<use href="#h" x="493.2" y="234.3" fill="#030210"/>
<use href="#h" x="499.2" y="229.1" fill="#120a32"/>
<use href="#h" x="487.3" y="239.4" fill="#0c0826"/>
<use href="#h" x="491.7" y="226.5" fill="#210c4a"/>
<use href="#h" x="494.7" y="242.0" fill="#450a69"/>
<use href="#h" x="485.8" y="231.7" fill="#1e0c45"/>
<use href="#h" x="500.7" y="236.9" fill="#0d0829"/>
<use href="#h" x="482.8" y="216.1" fill="#0b0724"/>
<use href="#h" x="488.7" y="210.9" fill="#030210"/>
<use href="#h" x="476.8" y="221.3" fill="#030210"/>
<use href="#h" x="481.3" y="208.4" fill="#02020c"/>
<use href="#h" x="484.3" y="223.9" fill="#08051d"/>
<use href="#h" x="475.3" y="213.5" fill="#08051d"/>
<use href="#h" x="490.2" y="218.7" fill="#1b0c41"/>
<use href="#h" x="472.3" y="198.0" fill="#08051d"/>
<use href="#h" x="478.3" y="192.8" fill="#0b0724"/>
<use href="#h" x="466.3" y="203.2" fill="#010108"/>
<use href="#h" x="470.8" y="190.2" fill="#2f0a5b"/>
<use href="#h" x="473.8" y="205.8" fill="#160b39"/>
<use href="#h" x="464.8" y="195.4" fill="#320a5e"/>
<use href="#h" x="479.8" y="200.6" fill="#1c0c43"/>
<use href="#h" x="461.8" y="179.9" fill="#2b0b57"/>
<use href="#h" x="467.8" y="174.7" fill="#0a0722"/>
<use href="#h" x="455.8" y="185.0" fill="#1b0c41"/>
<use href="#h" x="460.3" y="172.1" fill="#470b6a"/>
<use href="#h" x="463.3" y="187.6" fill="#010106"/>
<use href="#h" x="454.3" y="177.3" fill="#240c4f"/>
<use href="#h" x="469.3" y="182.4" fill="#310a5c"/>
<use href="#h" x="451.4" y="161.7" fill="#150b37"/>
<use href="#h" x="457.3" y="156.5" fill="#1c0c43"/>
<use href="#h" x="445.4" y="166.9" fill="#260c51"/>
<use href="#h" x="449.9" y="154.0" fill="#050417"/>
<use href="#h" x="452.8" y="169.5" fill="#150b37"/>
<use href="#h" x="443.9" y="159.1" fill="#030210"/>
<use href="#h" x="458.8" y="164.3" fill="#040314"/>
<use href="#h" x="440.9" y="143.6" fill="#050417"/>
<use href="#h" x="446.9" y="138.4" fill="#0c0826"/>
<use href="#h" x="434.9" y="148.8" fill="#10092d"/>
<use href="#h" x="439.4" y="135.8" fill="#160b39"/>
<use href="#h" x="442.4" y="151.4" fill="#000004"/>
<use href="#h" x="433.4" y="141.0" fill="#380962"/>
<use href="#h" x="448.4" y="146.2" fill="#240c4f"/>
<use href="#h" x="430.4" y="125.5" fill="#1b0c41"/>
<use href="#h" x="436.4" y="120.3" fill="#09061f"/>
<use href="#h" x="424.4" y="130.6" fill="#0c0826"/>
<use href="#h" x="428.9" y="117.7" fill="#180c3c"/>
<use href="#h" x="431.9" y="133.2" fill="#150b37"/>
<use href="#h" x="422.9" y="122.9" fill="#000004"/>
<use href="#h" x="437.9" y="128.0" fill="#1b0c41"/>
<use href="#h" x="419.9" y="107.3" fill="#4d0d6c"/>
<use href="#h" x="425.9" y="102.1" fill="#000004"/>
<use href="#h" x="414.0" y="112.5" fill="#210c4a"/>
<use href="#h" x="418.4" y="99.5" fill="#140b34"/>
<use href="#h" x="421.4" y="115.1" fill="#0c0826"/>
<use href="#h" x="412.5" y="104.7" fill="#290b55"/>
<use href="#h" x="427.4" y="109.9" fill="#010108"/>
<use href="#h" x="409.5" y="89.2" fill="#110a30"/>
<use href="#h" x="415.5" y="84.0" fill="#2b0b57"/>
<use href="#h" x="403.5" y="94.4" fill="#0b0724"/>
<use href="#h" x="408.0" y="81.4" fill="#08051d"/>
<use href="#h" x="411.0" y="97.0" fill="#10092d"/>
<use href="#h" x="402.0" y="86.6" fill="#08051d"/>
<use href="#h" x="417.0" y="91.8" fill="#2d0b59"/>
<use href="#h" x="556.1" y="306.8" fill="#02020e"/>
<use href="#h" x="562.0" y="301.6" fill="#1e0c45"/>
<use href="#h" x="550.1" y="312.0" fill="#010106"/>
<use href="#h" x="554.6" y="299.0" fill="#1b0c41"/>
<use href="#h" x="557.6" y="314.6" fill="#0c0826"/>
<use href="#h" x="548.6" y="304.2" fill="#000004"/>
<use href="#h" x="563.5" y="309.4" fill="#0d0829"/>
<use href="#h" x="545.6" y="288.7" fill="#02010a"/>
<use href="#h" x="551.6" y="283.5" fill="#08051d"/>
<use href="#h" x="539.6" y="293.9" fill="#2d0b59"/>
<use href="#h" x="544.1" y="280.9" fill="#010108"/>
<use href="#h" x="547.1" y="296.4" fill="#02010a"/>
<use href="#h" x="538.1" y="286.1" fill="#2b0b57"/>
<use href="#h" x="553.1" y="291.3" fill="#10092d"/>
<use href="#h" x="535.1" y="270.5" fill="#2d0b59"/>
<use href="#h" x="541.1" y="265.4" fill="#140b34"/>
<use href="#h" x="529.1" y="275.7" fill="#030210"/>
<use href="#h" x="533.6" y="262.8" fill="#0d0829"/>
<use href="#h" x="536.6" y="278.3" fill="#260c51"/>
<use href="#h" x="527.6" y="267.9" fill="#1f0c48"/>
<use href="#h" x="542.6" y="273.1" fill="#0e092b"/>
<use href="#h" x="524.6" y="252.4" fill="#0e092b"/>
<use href="#h" x="530.6" y="247.2" fill="#0c0826"/>
<use href="#h" x="518.7" y="257.6" fill="#060419"/>
<use href="#h" x="523.2" y="244.6" fill="#380962"/>
<use href="#h" x="526.1" y="260.2" fill="#0e092b"/>
<use href="#h" x="517.2" y="249.8" fill="#010108"/>
<use href="#h" x="532.1" y="255.0" fill="#07051b"/>
<use href="#h" x="514.2" y="234.3" fill="#1b0c41"/>
<use href="#h" x="520.2" y="229.1" fill="#190c3e"/>
<use href="#h" x="508.2" y="239.4" fill="#0c0826"/>
<use href="#h" x="512.7" y="226.5" fill="#050417"/>
<use href="#h" x="515.7" y="242.0" fill="#0e092b"/>
<use href="#h" x="506.7" y="231.7" fill="#000004"/>
<use href="#h" x="521.7" y="236.9" fill="#010005"/>
<use href="#h" x="503.7" y="216.1" fill="#1c0c43"/>
<use href="#h" x="509.7" y="210.9" fill="#07051b"/>
<use href="#h" x="497.7" y="221.3" fill="#150b37"/>
<use href="#h" x="502.2" y="208.4" fill="#260c51"/>
<use href="#h" x="505.2" y="223.9" fill="#190c3e"/>
<use href="#h" x="496.2" y="213.5" fill="#0e092b"/>
<use href="#h" x="511.2" y="218.7" fill="#3b0964"/>
<use href="#h" x="493.2" y="198.0" fill="#1b0c41"/>
<use href="#h" x="499.2" y="192.8" fill="#09061f"/>
<use href="#h" x="487.3" y="203.2" fill="#1b0c41"/>
<use href="#h" x="491.7" y="190.2" fill="#150b37"/>
<use href="#h" x="494.7" y="205.8" fill="#030210"/>
<use href="#h" x="485.8" y="195.4" fill="#10092d"/>
<use href="#h" x="500.7" y="200.6" fill="#0b0724"/>
<use href="#h" x="482.8" y="179.9" fill="#000004"/>
<use href="#h" x="488.7" y="174.7" fill="#0b0724"/>
<use href="#h" x="476.8" y="185.0" fill="#0a0722"/>
<use href="#h" x="481.3" y="172.1" fill="#08051d"/>
<use href="#h" x="484.3" y="187.6" fill="#000004"/>
<use href="#h" x="475.3" y="177.3" fill="#09061f"/>
<use href="#h" x="490.2" y="182.4" fill="#0d0829"/>
<use href="#h" x="472.3" y="161.7" fill="#10092d"/>
<use href="#h" x="478.3" y="156.5" fill="#010108"/>
<use href="#h" x="466.3" y="166.9" fill="#190c3e"/>
<use href="#h" x="470.8" y="154.0" fill="#010106"/>
<use href="#h" x="473.8" y="169.5" fill="#0b0724"/>
<use href="#h" x="464.8" y="159.1" fill="#280b53"/>
<use href="#h" x="479.8" y="164.3" fill="#040314"/>
<use href="#h" x="461.8" y="143.6" fill="#07051b"/>
<use href="#h" x="467.8" y="138.4" fill="#230c4c"/>
<use href="#h" x="455.8" y="148.8" fill="#08051d"/>
<use href="#h" x="460.3" y="135.8" fill="#0a0722"/>
<use href="#h" x="463.3" y="151.4" fill="#120a32"/>
<use href="#h" x="454.3" y="141.0" fill="#230c4c"/>
<use href="#h" x="469.3" y="146.2" fill="#000004"/>
<use href="#h" x="451.4" y="125.5" fill="#030210"/>
<use href="#h" x="457.3" y="120.3" fill="#02020c"/>
<use href="#h" x="445.4" y="130.6" fill="#02010a"/>
<use href="#h" x="449.9" y="117.7" fill="#030210"/>
<use href="#h" x="452.8" y="133.2" fill="#030210"/>
<use href="#h" x="443.9" y="122.9" fill="#140b34"/>
<use href="#h" x="458.8" y="128.0" fill="#030210"/>
<use href="#h" x="440.9" y="107.3" fill="#10092d"/>
<use href="#h" x="446.9" y="102.1" fill="#150b37"/>
<use href="#h" x="434.9" y="112.5" fill="#040314"/>
<use href="#h" x="439.4" y="99.5" fill="#10092d"/>
<use href="#h" x="442.4" y="115.1" fill="#310a5c"/>
<use href="#h" x="433.4" y="104.7" fill="#140b34"/>
<use href="#h" x="448.4" y="109.9" fill="#050417"/>
<use href="#h" x="430.4" y="89.2" fill="#0d0829"/>
<use href="#h" x="436.4" y="84.0" fill="#02020e"/>
<use href="#h" x="424.4" y="94.4" fill="#120a32"/>
<use href="#h" x="428.9" y="81.4" fill="#1e0c45"/>
<use href="#h" x="431.9" y="97.0" fill="#040312"/>
<use href="#h" x="422.9" y="86.6" fill="#0b0724"/>
<use href="#h" x="437.9" y="91.8" fill="#230c4c"/>
<use href="#h" x="566.5" y="288.7" fill="#07051b"/>
<use href="#h" x="572.5" y="283.5" fill="#110a30"/>
<use href="#h" x="560.5" y="293.9" fill="#02020c"/>
<use href="#h" x="565.0" y="280.9" fill="#040312"/>
<use href="#h" x="568.0" y="296.4" fill="#07051b"/>
<use href="#h" x="559.0" y="286.1" fill="#3b0964"/>
<use href="#h" x="574.0" y="291.3" fill="#08051d"/>
<use href="#h" x="556.1" y="270.5" fill="#07051b"/>
<use href="#h" x="562.0" y="265.4" fill="#060419"/>
<use href="#h" x="550.1" y="275.7" fill="#0b0724"/>
<use href="#h" x="554.6" y="262.8" fill="#190c3e"/>
<use href="#h" x="557.6" y="278.3" fill="#110a30"/>
<use href="#h" x="548.6" y="267.9" fill="#390963"/>
<use href="#h" x="563.5" y="273.1" fill="#110a30"/>
<use href="#h" x="545.6" y="252.4" fill="#2b0b57"/>
<use href="#h" x="551.6" y="247.2" fill="#120a32"/>
<use href="#h" x="539.6" y="257.6" fill="#180c3c"/>
<use href="#h" x="544.1" y="244.6" fill="#000004"/>
<use href="#h" x="547.1" y="260.2" fill="#0c0826"/>
<use href="#h" x="538.1" y="249.8" fill="#0d0829"/>
<use href="#h" x="553.1" y="255.0" fill="#0a0722"/>
<use href="#h" x="535.1" y="234.3" fill="#000004"/>
<use href="#h" x="541.1" y="229.1" fill="#1e0c45"/>
<use href="#h" x="529.1" y="239.4" fill="#08051d"/>
<use href="#h" x="533.6" y="226.5" fill="#08051d"/>
<use href="#h" x="536.6" y="242.0" fill="#0a0722"/>
<use href="#h" x="527.6" y="231.7" fill="#0b0724"/>
<use href="#h" x="542.6" y="236.9" fill="#150b37"/>
<use href="#h" x="524.6" y="216.1" fill="#010106"/>
<use href="#h" x="530.6" y="210.9" fill="#02020e"/>
<use href="#h" x="518.7" y="221.3" fill="#120a32"/>
<use href="#h" x="523.2" y="208.4" fill="#10092d"/>
<use href="#h" x="526.1" y="223.9" fill="#09061f"/>
<use href="#h" x="517.2" y="213.5" fill="#060419"/>
<use href="#h" x="532.1" y="218.7" fill="#040312"/>
<use href="#h" x="514.2" y="198.0" fill="#0d0829"/>
<use href="#h" x="520.2" y="192.8" fill="#240c4f"/>
<use href="#h" x="508.2" y="203.2" fill="#02020c"/>
<use href="#h" x="512.7" y="190.2" fill="#2d0b59"/>
<use href="#h" x="515.7" y="205.8" fill="#1e0c45"/>
<use href="#h" x="506.7" y="195.4" fill="#08051d"/>
<use href="#h" x="521.7" y="200.6" fill="#1c0c43"/>
<use href="#h" x="503.7" y="179.9" fill="#000004"/>
<use href="#h" x="509.7" y="174.7" fill="#000004"/>
<use href="#h" x="497.7" y="185.0" fill="#010106"/>
<use href="#h" x="502.2" y="172.1" fill="#08051d"/>
<use href="#h" x="505.2" y="187.6" fill="#09061f"/>
<use href="#h" x="496.2" y="177.3" fill="#07051b"/>
<use href="#h" x="511.2" y="182.4" fill="#10092d"/>
<use href="#h" x="493.2" y="161.7" fill="#000004"/>
<use href="#h" x="499.2" y="156.5" fill="#160b39"/>
<use href="#h" x="487.3" y="166.9" fill="#000004"/>
<use href="#h" x="491.7" y="154.0" fill="#050417"/>
<use href="#h" x="494.7" y="169.5" fill="#08051d"/>
<use href="#h" x="485.8" y="159.1" fill="#010108"/>
<use href="#h" x="500.7" y="164.3" fill="#010005"/>
<use href="#h" x="482.8" y="143.6" fill="#02020c"/>
<use href="#h" x="488.7" y="138.4" fill="#0d0829"/>
<use href="#h" x="476.8" y="148.8" fill="#180c3c"/>
<use href="#h" x="481.3" y="135.8" fill="#180c3c"/>
<use href="#h" x="484.3" y="151.4" fill="#02020c"/>
<use href="#h" x="475.3" y="141.0" fill="#040312"/>
<use href="#h" x="490.2" y="146.2" fill="#02020e"/>
<use href="#h" x="472.3" y="125.5" fill="#150b37"/>
<use href="#h" x="478.3" y="120.3" fill="#000004"/>
<use href="#h" x="466.3" y="130.6" fill="#260c51"/>
<use href="#h" x="470.8" y="117.7" fill="#07051b"/>
<use href="#h" x="473.8" y="133.2" fill="#040312"/>
<use href="#h" x="464.8" y="122.9" fill="#140b34"/>
<use href="#h" x="479.8" y="128.0" fill="#210c4a"/>
<use href="#h" x="461.8" y="107.3" fill="#140b34"/>
<use href="#h" x="467.8" y="102.1" fill="#210c4a"/>
<use href="#h" x="455.8" y="112.5" fill="#10092d"/>
<use href="#h" x="460.3" y="99.5" fill="#260c51"/>
<use href="#h" x="463.3" y="115.1" fill="#260c51"/>
<use href="#h" x="454.3" y="104.7" fill="#0c0826"/>
<use href="#h" x="469.3" y="109.9" fill="#290b55"/>
<use href="#h" x="451.4" y="89.2" fill="#110a30"/>
<use href="#h" x="457.3" y="84.0" fill="#10092d"/>
<use href="#h" x="445.4" y="94.4" fill="#02020e"/>
<use href="#h" x="449.9" y="81.4" fill="#0a0722"/>
<use href="#h" x="452.8" y="97.0" fill="#1c0c43"/>
<use href="#h" x="443.9" y="86.6" fill="#010005"/>
<use href="#h" x="458.8" y="91.8" fill="#190c3e"/>
<use href="#h" x="577.0" y="270.5" fill="#140b34"/>
<use href="#h" x="583.0" y="265.4" fill="#120a32"/>
<use href="#h" x="571.0" y="275.7" fill="#000004"/>
<use href="#h" x="575.5" y="262.8" fill="#0c0826"/>
<use href="#h" x="578.5" y="278.3" fill="#190c3e"/>
<use href="#h" x="569.5" y="267.9" fill="#040314"/>
<use href="#h" x="584.5" y="273.1" fill="#10092d"/>
<use href="#h" x="566.5" y="252.4" fill="#000004"/>
<use href="#h" x="572.5" y="247.2" fill="#190c3e"/>
<use href="#h" x="560.5" y="257.6" fill="#050417"/>
<use href="#h" x="565.0" y="244.6" fill="#1e0c45"/>
<use href="#h" x="568.0" y="260.2" fill="#000004"/>
<use href="#h" x="559.1" y="249.8" fill="#1b0c41"/>
<use href="#h" x="574.0" y="255.0" fill="#0a0722"/>
<use href="#h" x="556.1" y="234.3" fill="#1c0c43"/>
<use href="#h" x="562.0" y="229.1" fill="#02020e"/>
<use href="#h" x="550.1" y="239.4" fill="#050417"/>
<use href="#h" x="554.6" y="226.5" fill="#3d0965"/>
<use href="#h" x="557.6" y="242.0" fill="#040312"/>
<use href="#h" x="548.6" y="231.7" fill="#040314"/>
<use href="#h" x="563.5" y="236.9" fill="#0a0722"/>
<use href="#h" x="545.6" y="216.1" fill="#02020c"/>
<use href="#h" x="551.6" y="210.9" fill="#240c4f"/>
<use href="#h" x="539.6" y="221.3" fill="#310a5c"/>
<use href="#h" x="544.1" y="208.4" fill="#040314"/>
<use href="#h" x="547.1" y="223.9" fill="#000004"/>
<use href="#h" x="538.1" y="213.5" fill="#240c4f"/>
<use href="#h" x="553.1" y="218.7" fill="#230c4c"/>
<use href="#h" x="535.1" y="198.0" fill="#1c0c43"/>
<use href="#h" x="541.1" y="192.8" fill="#240c4f"/>
<use href="#h" x="529.1" y="203.2" fill="#030210"/>
<use href="#h" x="533.6" y="190.2" fill="#0b0724"/>
<use href="#h" x="536.6" y="205.8" fill="#000004"/>
<use href="#h" x="527.6" y="195.4" fill="#000004"/>
<use href="#h" x="542.6" y="200.6" fill="#1f0c48"/>
<use href="#h" x="524.6" y="179.9" fill="#050417"/>
<use href="#h" x="530.6" y="174.7" fill="#3d0965"/>
<use href="#h" x="518.7" y="185.0" fill="#0e092b"/>
<use href="#h" x="523.2" y="172.1" fill="#050417"/>
<use href="#h" x="526.1" y="187.6" fill="#1c0c43"/>
<use href="#h" x="517.2" y="177.3" fill="#320a5e"/>
<use href="#h" x="532.1" y="182.4" fill="#160b39"/>
<use href="#h" x="514.2" y="161.7" fill="#010108"/>
<use href="#h" x="520.2" y="156.5" fill="#140b34"/>
<use href="#h" x="508.2" y="166.9" fill="#290b55"/>
<use href="#h" x="512.7" y="154.0" fill="#07051b"/>
<use href="#h" x="515.7" y="169.5" fill="#040312"/>
<use href="#h" x="506.7" y="159.1" fill="#210c4a"/>
<use href="#h" x="521.7" y="164.3" fill="#10092d"/>
<use href="#h" x="503.7" y="143.6" fill="#02010a"/>
<use href="#h" x="509.7" y="138.4" fill="#09061f"/>
<use href="#h" x="497.7" y="148.8" fill="#040314"/>
<use href="#h" x="502.2" y="135.8" fill="#120a32"/>
<use href="#h" x="505.2" y="151.4" fill="#10092d"/>
<use href="#h" x="496.2" y="141.0" fill="#240c4f"/>
<use href="#h" x="511.2" y="146.2" fill="#1b0c41"/>
<use href="#h" x="493.2" y="125.5" fill="#000004"/>
<use href="#h" x="499.2" y="120.3" fill="#150b37"/>
<use href="#h" x="487.3" y="130.6" fill="#1e0c45"/>
<use href="#h" x="491.7" y="117.7" fill="#160b39"/>
<use href="#h" x="494.7" y="133.2" fill="#210c4a"/>
<use href="#h" x="485.8" y="122.9" fill="#060419"/>
<use href="#h" x="500.7" y="128.0" fill="#02020e"/>
<use href="#h" x="482.8" y="107.3" fill="#1f0c48"/>
<use href="#h" x="488.7" y="102.1" fill="#02020c"/>
<use href="#h" x="476.8" y="112.5" fill="#000004"/>
<use href="#h" x="481.3" y="99.5" fill="#210c4a"/>
<use href="#h" x="484.3" y="115.1" fill="#040314"/>
<use href="#h" x="475.3" y="104.7" fill="#0a0722"/>
<use href="#h" x="490.2" y="109.9" fill="#000004"/>
<use href="#h" x="472.3" y="89.2" fill="#010005"/>
<use href="#h" x="478.3" y="84.0" fill="#010108"/>
<use href="#h" x="466.3" y="94.4" fill="#09061f"/>
<use href="#h" x="470.8" y="81.4" fill="#140b34"/>
<use href="#h" x="473.8" y="97.0" fill="#000004"/>
<use href="#h" x="464.8" y="86.6" fill="#1b0c41"/>
<use href="#h" x="479.8" y="91.8" fill="#010108"/>
<use href="#h" x="577.0" y="234.3" fill="#02020c"/>
<use href="#h" x="583.0" y="229.1" fill="#190c3e"/>
<use href="#h" x="571.0" y="239.4" fill="#0d0829"/>
<use href="#h" x="575.5" y="226.5" fill="#000004"/>
<use href="#h" x="578.5" y="242.0" fill="#340a5f"/>
<use href="#h" x="569.5" y="231.7" fill="#030210"/>
<use href="#h" x="584.5" y="236.9" fill="#120a32"/>
<use href="#h" x="566.5" y="216.1" fill="#110a30"/>
<use href="#h" x="572.5" y="210.9" fill="#290b55"/>
<use href="#h" x="560.5" y="221.3" fill="#08051d"/>
<use href="#h" x="565.0" y="208.4" fill="#210c4a"/>
<use href="#h" x="568.0" y="223.9" fill="#040314"/>
<use href="#h" x="559.1" y="213.5" fill="#230c4c"/>
<use href="#h" x="574.0" y="218.7" fill="#040314"/>
<use href="#h" x="556.1" y="198.0" fill="#09061f"/>
<use href="#h" x="562.0" y="192.8" fill="#340a5f"/>
<use href="#h" x="550.1" y="203.2" fill="#140b34"/>
<use href="#h" x="554.6" y="190.2" fill="#10092d"/>
<use href="#h" x="557.6" y="205.8" fill="#3d0965"/>
<use href="#h" x="548.6" y="195.4" fill="#140b34"/>
<use href="#h" x="563.5" y="200.6" fill="#040312"/>
<use href="#h" x="545.6" y="179.9" fill="#1b0c41"/>
<use href="#h" x="551.6" y="174.7" fill="#010108"/>
<use href="#h" x="539.6" y="185.0" fill="#230c4c"/>
<use href="#h" x="544.1" y="172.1" fill="#240c4f"/>
<use href="#h" x="547.1" y="187.6" fill="#060419"/>
<use href="#h" x="538.1" y="177.3" fill="#050417"/>
<use href="#h" x="553.1" y="182.4" fill="#110a30"/>
<use href="#h" x="535.1" y="161.7" fill="#0e092b"/>
<use href="#h" x="541.1" y="156.5" fill="#02020e"/>
<use href="#h" x="529.1" y="166.9" fill="#180c3c"/>
<use href="#h" x="533.6" y="154.0" fill="#000004"/>
<use href="#h" x="536.6" y="169.5" fill="#08051d"/>
<use href="#h" x="527.6" y="159.1" fill="#08051d"/>
<use href="#h" x="542.6" y="164.3" fill="#0a0722"/>
<use href="#h" x="524.6" y="143.6" fill="#140b34"/>
<use href="#h" x="530.6" y="138.4" fill="#010106"/>
<use href="#h" x="518.7" y="148.8" fill="#180c3c"/>
<use href="#h" x="523.2" y="135.8" fill="#0b0724"/>
<use href="#h" x="526.1" y="151.4" fill="#050417"/>
<use href="#h" x="517.2" y="141.0" fill="#010005"/>
<use href="#h" x="532.1" y="146.2" fill="#010108"/>
<use href="#h" x="514.2" y="125.5" fill="#140b34"/>
<use href="#h" x="520.2" y="120.3" fill="#02020e"/>
<use href="#h" x="508.2" y="130.6" fill="#0e092b"/>
<use href="#h" x="512.7" y="117.7" fill="#210c4a"/>
<use href="#h" x="515.7" y="133.2" fill="#210c4a"/>
<use href="#h" x="506.7" y="122.9" fill="#2d0b59"/>
<use href="#h" x="521.7" y="128.0" fill="#0a0722"/>
<use href="#h" x="503.7" y="107.3" fill="#02010a"/>
<use href="#h" x="509.7" y="102.1" fill="#210c4a"/>
<use href="#h" x="497.7" y="112.5" fill="#140b34"/>
<use href="#h" x="502.2" y="99.5" fill="#230c4c"/>
<use href="#h" x="505.2" y="115.1" fill="#0e092b"/>
<use href="#h" x="496.2" y="104.7" fill="#240c4f"/>
<use href="#h" x="511.2" y="109.9" fill="#1e0c45"/>
<use href="#hr" x="461.8" y="397.5"/>
<use href="#hr" x="467.8" y="392.3"/>
<use href="#hr" x="460.3" y="389.7"/>
<use href="#hr" x="469.3" y="400.1"/>
<use href="#hr" x="440.9" y="361.2"/>
<use href="#hr" x="446.9" y="356.0"/>
<use href="#hr" x="448.4" y="363.8"/>
<use href="#hr" x="436.4" y="337.9"/>
<use href="#hr" x="437.9" y="345.7"/>
<use href="#hr" x="466.3" y="384.5"/>
<use href="#hr" x="464.8" y="376.8"/>
<use href="#hr" x="461.8" y="361.2"/>
<use href="#hr" x="455.8" y="366.4"/>
<use href="#hr" x="460.3" y="353.4"/>
<use href="#hr" x="454.3" y="358.6"/>
<use href="#hr" x="451.4" y="343.1"/>
<use href="#hr" x="445.4" y="348.3"/>
<use href="#hr" x="452.8" y="350.9"/>
<use href="#hr" x="443.9" y="340.5"/>
<use href="#hr" x="434.9" y="330.1"/>
<use href="#hr" x="442.4" y="332.7"/>
<use href="#hr" x="433.4" y="322.4"/>
<use href="#hr" x="431.9" y="314.6"/>
</g>
<text transform="translate(496.90 441.90) scale(1.0444 1)" x="-0.84" y="0" font-size="16.86" fill="#808080" stroke="#808080" stroke-width="0.3" xml:space="preserve">CameraFrame</text>
<rect x="188.5" y="60.5" width="422" height="385" fill="none" stroke="#000" stroke-width="1.1"/>
<line x1="241.5" y1="445.5" x2="241.5" y2="450.3" stroke="#000" stroke-width="1.1"/>
<text transform="translate(219.65 470.00) scale(1.1250 1)" x="-1.00" y="0" font-size="20.00" fill="#000" stroke="#000" stroke-width="0.3" xml:space="preserve">−1.0</text>
<line x1="320.5" y1="445.5" x2="320.5" y2="450.3" stroke="#000" stroke-width="1.1"/>
<text transform="translate(298.80 470.00) scale(1.1250 1)" x="-1.00" y="0" font-size="20.00" fill="#000" stroke="#000" stroke-width="0.3" xml:space="preserve">−0.5</text>
<line x1="399.5" y1="445.5" x2="399.5" y2="450.3" stroke="#000" stroke-width="1.1"/>
<text transform="translate(385.10 470.00) scale(1.0687 1)" x="-0.80" y="0" font-size="20.00" fill="#000" stroke="#000" stroke-width="0.3" xml:space="preserve">0.0</text>
<line x1="478.5" y1="445.5" x2="478.5" y2="450.3" stroke="#000" stroke-width="1.1"/>
<text transform="translate(464.25 470.00) scale(1.0687 1)" x="-0.80" y="0" font-size="20.00" fill="#000" stroke="#000" stroke-width="0.3" xml:space="preserve">0.5</text>
<line x1="557.5" y1="445.5" x2="557.5" y2="450.3" stroke="#000" stroke-width="1.1"/>
<text transform="translate(543.65 470.00) scale(1.0827 1)" x="-1.60" y="0" font-size="20.00" fill="#000" stroke="#000" stroke-width="0.3" xml:space="preserve">1.0</text>
<line x1="183.7" y1="411.5" x2="188.5" y2="411.5" stroke="#000" stroke-width="1.1"/>
<text transform="translate(133.90 418.00) scale(1.1496 1)" x="-0.98" y="0" font-size="19.57" fill="#000" stroke="#000" stroke-width="0.3" xml:space="preserve">−1.0</text>
<line x1="183.7" y1="332.5" x2="188.5" y2="332.5" stroke="#000" stroke-width="1.1"/>
<text transform="translate(133.90 338.85) scale(1.1496 1)" x="-0.98" y="0" font-size="19.57" fill="#000" stroke="#000" stroke-width="0.3" xml:space="preserve">−0.5</text>
<line x1="183.7" y1="253.5" x2="188.5" y2="253.5" stroke="#000" stroke-width="1.1"/>
<text transform="translate(148.20 259.70) scale(1.0921 1)" x="-0.78" y="0" font-size="19.57" fill="#000" stroke="#000" stroke-width="0.3" xml:space="preserve">0.0</text>
<line x1="183.7" y1="173.5" x2="188.5" y2="173.5" stroke="#000" stroke-width="1.1"/>
<text transform="translate(148.20 180.55) scale(1.0921 1)" x="-0.78" y="0" font-size="19.57" fill="#000" stroke="#000" stroke-width="0.3" xml:space="preserve">0.5</text>
<line x1="183.7" y1="94.5" x2="188.5" y2="94.5" stroke="#000" stroke-width="1.1"/>
<text transform="translate(148.70 101.40) scale(1.1064 1)" x="-1.57" y="0" font-size="19.57" fill="#000" stroke="#000" stroke-width="0.3" xml:space="preserve">1.0</text>
<text transform="translate(365.00 51.80) scale(1.0736 1)" x="-2.18" y="0" font-size="24.20" fill="#000" stroke="#000" stroke-width="0.3" xml:space="preserve">Image</text>
<text transform="translate(370.70 494.80) scale(1.1153 1)" x="-0.20" y="0" font-size="20.14" fill="#000" stroke="#000" stroke-width="0.3" xml:space="preserve">x  (m)</text>
<text transform="translate(120.20 281.70) rotate(-90) scale(1.0847 1)" x="0.00" y="0" font-size="20.55" fill="#000" stroke="#000" stroke-width="0.3" xml:space="preserve">y  (m)</text>
<rect x="637.5" y="60.5" width="20" height="385" fill="url(#gi)" stroke="#000" stroke-width="1.1"/>
<line x1="657.5" y1="416.5" x2="662.3" y2="416.5" stroke="#000" stroke-width="1.1"/>
<text transform="translate(667.20 423.13) scale(1.0294 1)" x="-0.78" y="0" font-size="19.43" fill="#000" stroke="#000" stroke-width="0.3" xml:space="preserve">0</text>
<line x1="657.5" y1="354.5" x2="662.3" y2="354.5" stroke="#000" stroke-width="1.1"/>
<text transform="translate(667.20 361.55) scale(1.0363 1)" x="-0.79" y="0" font-size="19.71" fill="#000" stroke="#000" stroke-width="0.3" xml:space="preserve">5</text>
<line x1="657.5" y1="293.5" x2="662.3" y2="293.5" stroke="#000" stroke-width="1.1"/>
<text transform="translate(667.20 299.97) scale(1.0502 1)" x="-1.55" y="0" font-size="19.43" fill="#000" stroke="#000" stroke-width="0.3" xml:space="preserve">10</text>
<line x1="657.5" y1="231.5" x2="662.3" y2="231.5" stroke="#000" stroke-width="1.1"/>
<text transform="translate(667.20 238.39) scale(1.0557 1)" x="-1.58" y="0" font-size="19.71" fill="#000" stroke="#000" stroke-width="0.3" xml:space="preserve">15</text>
<line x1="657.5" y1="170.5" x2="662.3" y2="170.5" stroke="#000" stroke-width="1.1"/>
<text transform="translate(667.20 176.81) scale(1.0900 1)" x="-0.97" y="0" font-size="19.43" fill="#000" stroke="#000" stroke-width="0.3" xml:space="preserve">20</text>
<line x1="657.5" y1="108.5" x2="662.3" y2="108.5" stroke="#000" stroke-width="1.1"/>
<text transform="translate(667.20 115.23) scale(1.0698 1)" x="-0.97" y="0" font-size="19.43" fill="#000" stroke="#000" stroke-width="0.3" xml:space="preserve">25</text>
<g clip-path="url(#cr)">
<use href="#h" x="928.3" y="397.5" fill="#fac8af"/>
<use href="#h" x="934.3" y="392.3" fill="#a51429"/>
<use href="#h" x="922.3" y="402.7" fill="#facab1"/>
<use href="#h" x="926.8" y="389.7" fill="#f5f6f7"/>
<use href="#h" x="929.8" y="405.3" fill="#f8bfa4"/>
<use href="#h" x="920.8" y="394.9" fill="#fddbc7"/>
<use href="#h" x="935.8" y="400.1" fill="#e17860"/>
<use href="#h" x="917.8" y="379.3" fill="#67001f"/>
<use href="#h" x="923.8" y="374.2" fill="#67001f"/>
<use href="#h" x="911.8" y="384.5" fill="#3c8abe"/>
<use href="#h" x="916.3" y="371.6" fill="#67001f"/>
<use href="#h" x="919.3" y="387.1" fill="#810823"/>
<use href="#h" x="910.3" y="376.8" fill="#408fc1"/>
<use href="#h" x="925.3" y="381.9" fill="#e98b6e"/>
<use href="#h" x="907.4" y="361.2" fill="#da6853"/>
<use href="#h" x="913.3" y="356.0" fill="#da6853"/>
<use href="#h" x="901.4" y="366.4" fill="#a21328"/>
<use href="#h" x="905.9" y="353.4" fill="#d35a4a"/>
<use href="#h" x="908.8" y="369.0" fill="#2b73b3"/>
<use href="#h" x="899.9" y="358.6" fill="#93c6de"/>
<use href="#h" x="914.8" y="363.8" fill="#3480b9"/>
<use href="#h" x="896.9" y="343.1" fill="#073467"/>
<use href="#h" x="902.9" y="337.9" fill="#3681ba"/>
<use href="#h" x="890.9" y="348.3" fill="#67001f"/>
<use href="#h" x="895.4" y="335.3" fill="#063264"/>
<use href="#h" x="898.4" y="350.8" fill="#d55d4c"/>
<use href="#h" x="889.4" y="340.5" fill="#eb9172"/>
<use href="#h" x="904.4" y="345.7" fill="#67001f"/>
<use href="#h" x="886.4" y="324.9" fill="#0a3b70"/>
<use href="#h" x="892.4" y="319.8" fill="#fbceb7"/>
<use href="#h" x="880.4" y="330.1" fill="#3f8ec0"/>
<use href="#h" x="884.9" y="317.2" fill="#96c7df"/>
<use href="#h" x="887.9" y="332.7" fill="#7eb8d7"/>
<use href="#h" x="878.9" y="322.4" fill="#f9c4a9"/>
<use href="#h" x="893.9" y="327.5" fill="#67001f"/>
<use href="#h" x="875.9" y="306.8" fill="#67001f"/>
<use href="#h" x="881.9" y="301.6" fill="#67001f"/>
<use href="#h" x="870.0" y="312.0" fill="#d86551"/>
<use href="#h" x="874.4" y="299.0" fill="#67001f"/>
<use href="#h" x="877.4" y="314.6" fill="#124984"/>
<use href="#h" x="868.5" y="304.2" fill="#dd7059"/>
<use href="#h" x="883.4" y="309.4" fill="#f8bb9e"/>
<use href="#h" x="865.5" y="288.7" fill="#08366a"/>
<use href="#h" x="871.5" y="283.5" fill="#9f1228"/>
<use href="#h" x="859.5" y="293.9" fill="#67001f"/>
<use href="#h" x="864.0" y="280.9" fill="#b1d5e7"/>
<use href="#h" x="867.0" y="296.4" fill="#f8f4f2"/>
<use href="#h" x="858.0" y="286.1" fill="#67001f"/>
<use href="#h" x="872.9" y="291.3" fill="#bbdaea"/>
<use href="#h" x="855.0" y="270.5" fill="#337eb8"/>
<use href="#h" x="861.0" y="265.4" fill="#fcd5bf"/>
<use href="#h" x="849.0" y="275.7" fill="#ea8e70"/>
<use href="#h" x="853.5" y="262.8" fill="#eb9172"/>
<use href="#h" x="856.5" y="278.3" fill="#3f8ec0"/>
<use href="#h" x="847.5" y="267.9" fill="#a9d1e5"/>
<use href="#h" x="862.5" y="273.1" fill="#2c75b4"/>
<use href="#h" x="959.7" y="415.6" fill="#063264"/>
<use href="#h" x="965.7" y="410.4" fill="#c2ddec"/>
<use href="#h" x="953.7" y="420.8" fill="#b41c2d"/>
<use href="#h" x="958.2" y="407.8" fill="#de735c"/>
<use href="#h" x="961.2" y="423.4" fill="#09386d"/>
<use href="#h" x="952.2" y="413.0" fill="#9bc9e0"/>
<use href="#h" x="967.2" y="418.2" fill="#790622"/>
<use href="#h" x="949.2" y="397.5" fill="#b1d5e7"/>
<use href="#h" x="955.2" y="392.3" fill="#8ac0db"/>
<use href="#h" x="943.3" y="402.7" fill="#840924"/>
<use href="#h" x="947.7" y="389.7" fill="#063264"/>
<use href="#h" x="950.7" y="405.3" fill="#c0dceb"/>
<use href="#h" x="941.8" y="394.9" fill="#9dcbe1"/>
<use href="#h" x="956.7" y="400.1" fill="#266caf"/>
<use href="#h" x="938.8" y="379.3" fill="#bd2d35"/>
<use href="#h" x="944.7" y="374.2" fill="#15508d"/>
<use href="#h" x="932.8" y="384.5" fill="#67001f"/>
<use href="#h" x="937.3" y="371.6" fill="#bbdaea"/>
<use href="#h" x="940.3" y="387.1" fill="#84bcd9"/>
<use href="#h" x="931.3" y="376.8" fill="#67001f"/>
<use href="#h" x="946.2" y="381.9" fill="#eff3f5"/>
<use href="#h" x="928.3" y="361.2" fill="#266caf"/>
<use href="#h" x="934.3" y="356.0" fill="#327cb7"/>
<use href="#h" x="922.3" y="366.4" fill="#67001f"/>
<use href="#h" x="926.8" y="353.4" fill="#a5cee3"/>
<use href="#h" x="929.8" y="369.0" fill="#67001f"/>
<use href="#h" x="920.8" y="358.6" fill="#67001f"/>
<use href="#h" x="935.8" y="363.8" fill="#67001f"/>
<use href="#h" x="917.8" y="343.1" fill="#e98b6e"/>
<use href="#h" x="923.8" y="337.9" fill="#063264"/>
<use href="#h" x="911.8" y="348.3" fill="#3b88be"/>
<use href="#h" x="916.3" y="335.3" fill="#266caf"/>
<use href="#h" x="919.3" y="350.8" fill="#fdd9c4"/>
<use href="#h" x="910.3" y="340.5" fill="#d25849"/>
<use href="#h" x="925.3" y="345.7" fill="#bbdaea"/>
<use href="#h" x="907.4" y="324.9" fill="#fdd9c4"/>
<use href="#h" x="913.3" y="319.8" fill="#67001f"/>
<use href="#h" x="901.4" y="330.1" fill="#124984"/>
<use href="#h" x="905.9" y="317.2" fill="#2b73b3"/>
<use href="#h" x="908.8" y="332.7" fill="#2e77b5"/>
<use href="#h" x="899.9" y="322.4" fill="#3c8abe"/>
<use href="#h" x="914.8" y="327.5" fill="#67001f"/>
<use href="#h" x="896.9" y="306.8" fill="#b3d6e8"/>
<use href="#h" x="902.9" y="301.6" fill="#67001f"/>
<use href="#h" x="890.9" y="312.0" fill="#b3d6e8"/>
<use href="#h" x="895.4" y="299.0" fill="#f8f4f2"/>
<use href="#h" x="898.4" y="314.6" fill="#d35a4a"/>
<use href="#h" x="889.4" y="304.2" fill="#b1d5e7"/>
<use href="#h" x="904.4" y="309.4" fill="#67001f"/>
<use href="#h" x="886.4" y="288.7" fill="#f9efe9"/>
<use href="#h" x="892.4" y="283.5" fill="#960f27"/>
<use href="#h" x="880.4" y="293.9" fill="#c2383a"/>
<use href="#h" x="884.9" y="280.9" fill="#da6853"/>
<use href="#h" x="887.9" y="296.4" fill="#b3d6e8"/>
<use href="#h" x="878.9" y="286.1" fill="#f2f5f6"/>
<use href="#h" x="893.9" y="291.3" fill="#edf2f5"/>
<use href="#h" x="875.9" y="270.5" fill="#67001f"/>
<use href="#h" x="881.9" y="265.4" fill="#67001f"/>
<use href="#h" x="870.0" y="275.7" fill="#3e8cbf"/>
<use href="#h" x="874.4" y="262.8" fill="#c2383a"/>
<use href="#h" x="877.4" y="278.3" fill="#bddbea"/>
<use href="#h" x="868.5" y="267.9" fill="#10457e"/>
<use href="#h" x="883.4" y="273.1" fill="#fac8af"/>
<use href="#h" x="865.5" y="252.4" fill="#fcd3bc"/>
<use href="#h" x="871.5" y="247.2" fill="#db6b55"/>
<use href="#h" x="859.5" y="257.6" fill="#fac8af"/>
<use href="#h" x="864.0" y="244.6" fill="#3681ba"/>
<use href="#h" x="867.0" y="260.2" fill="#67001f"/>
<use href="#h" x="858.0" y="249.8" fill="#8a0b25"/>
<use href="#h" x="872.9" y="255.0" fill="#67001f"/>
<use href="#h" x="855.0" y="234.3" fill="#09386d"/>
<use href="#h" x="861.0" y="229.1" fill="#337eb8"/>
<use href="#h" x="849.0" y="239.4" fill="#fbceb7"/>
<use href="#h" x="853.5" y="226.5" fill="#f8bda1"/>
<use href="#h" x="856.5" y="242.0" fill="#f6f7f7"/>
<use href="#h" x="847.5" y="231.7" fill="#f9c6ac"/>
<use href="#h" x="862.5" y="236.9" fill="#d7634f"/>
<use href="#h" x="980.6" y="415.6" fill="#760521"/>
<use href="#h" x="986.6" y="410.4" fill="#a9d1e5"/>
<use href="#h" x="974.7" y="420.8" fill="#266caf"/>
<use href="#h" x="979.2" y="407.8" fill="#9dcbe1"/>
<use href="#h" x="982.1" y="423.4" fill="#67001f"/>
<use href="#h" x="973.2" y="413.0" fill="#67001f"/>
<use href="#h" x="988.1" y="418.2" fill="#d7634f"/>
<use href="#h" x="970.2" y="397.5" fill="#ab162a"/>
<use href="#h" x="976.2" y="392.3" fill="#d35a4a"/>
<use href="#h" x="964.2" y="402.7" fill="#3783bb"/>
<use href="#h" x="968.7" y="389.7" fill="#2870b1"/>
<use href="#h" x="971.7" y="405.3" fill="#bd2d35"/>
<use href="#h" x="962.7" y="394.9" fill="#d35a4a"/>
<use href="#h" x="977.7" y="400.1" fill="#d7634f"/>
<use href="#h" x="959.7" y="379.3" fill="#15508d"/>
<use href="#h" x="965.7" y="374.2" fill="#67001f"/>
<use href="#h" x="953.7" y="384.5" fill="#f9c4a9"/>
<use href="#h" x="958.2" y="371.6" fill="#0f437b"/>
<use href="#h" x="961.2" y="387.1" fill="#124984"/>
<use href="#h" x="952.2" y="376.8" fill="#f0f4f6"/>
<use href="#h" x="967.2" y="381.9" fill="#67001f"/>
<use href="#h" x="949.2" y="361.2" fill="#67001f"/>
<use href="#h" x="955.2" y="356.0" fill="#67001f"/>
<use href="#h" x="943.3" y="366.4" fill="#e6866a"/>
<use href="#h" x="947.7" y="353.4" fill="#8ac0db"/>
<use href="#h" x="950.7" y="369.0" fill="#327cb7"/>
<use href="#h" x="941.8" y="358.6" fill="#a2cde3"/>
<use href="#h" x="956.7" y="363.8" fill="#2870b1"/>
<use href="#h" x="938.8" y="343.1" fill="#c0dceb"/>
<use href="#h" x="944.7" y="337.9" fill="#ea8e70"/>
<use href="#h" x="932.8" y="348.3" fill="#124984"/>
<use href="#h" x="937.3" y="335.3" fill="#0d3f76"/>
<use href="#h" x="940.3" y="350.8" fill="#b3d6e8"/>
<use href="#h" x="931.3" y="340.5" fill="#67001f"/>
<use href="#h" x="946.2" y="345.7" fill="#0c3d73"/>
<use href="#h" x="928.3" y="324.9" fill="#f7f5f4"/>
<use href="#h" x="934.3" y="319.8" fill="#eff3f5"/>
<use href="#h" x="922.3" y="330.1" fill="#67001f"/>
<use href="#h" x="926.8" y="317.2" fill="#67001f"/>
<use href="#h" x="929.8" y="332.7" fill="#15508d"/>
<use href="#h" x="920.8" y="322.4" fill="#67001f"/>
<use href="#h" x="935.8" y="327.5" fill="#f9ede5"/>
<use href="#h" x="917.8" y="306.8" fill="#84bcd9"/>
<use href="#h" x="923.8" y="301.6" fill="#3b88be"/>
<use href="#h" x="911.8" y="312.0" fill="#67001f"/>
<use href="#h" x="916.3" y="299.0" fill="#f7b99c"/>
<use href="#h" x="919.3" y="314.6" fill="#3b88be"/>
<use href="#h" x="910.3" y="304.2" fill="#67001f"/>
<use href="#h" x="925.3" y="309.4" fill="#b6d7e8"/>
<use href="#h" x="907.4" y="288.7" fill="#67001f"/>
<use href="#h" x="913.3" y="283.5" fill="#15508d"/>
<use href="#h" x="901.4" y="293.9" fill="#a9d1e5"/>
<use href="#h" x="905.9" y="280.9" fill="#d35a4a"/>
<use href="#h" x="908.8" y="296.4" fill="#67001f"/>
<use href="#h" x="899.9" y="286.1" fill="#f5f6f7"/>
<use href="#h" x="914.8" y="291.3" fill="#0e4179"/>
<use href="#h" x="896.9" y="270.5" fill="#db6b55"/>
<use href="#h" x="902.9" y="265.4" fill="#0f437b"/>
<use href="#h" x="890.9" y="275.7" fill="#b3d6e8"/>
<use href="#h" x="895.4" y="262.8" fill="#09386d"/>
<use href="#h" x="898.4" y="278.3" fill="#da6853"/>
<use href="#h" x="889.4" y="267.9" fill="#67001f"/>
<use href="#h" x="904.4" y="273.1" fill="#67001f"/>
<use href="#h" x="886.4" y="252.4" fill="#db6b55"/>
<use href="#h" x="892.4" y="247.2" fill="#063264"/>
<use href="#h" x="880.4" y="257.6" fill="#67001f"/>
<use href="#h" x="884.9" y="244.6" fill="#d35a4a"/>
<use href="#h" x="887.9" y="260.2" fill="#ea8e70"/>
<use href="#h" x="878.9" y="249.8" fill="#b41c2d"/>
<use href="#h" x="893.9" y="255.0" fill="#db6b55"/>
<use href="#h" x="875.9" y="234.3" fill="#408fc1"/>
<use href="#h" x="881.9" y="229.1" fill="#3480b9"/>
<use href="#h" x="870.0" y="239.4" fill="#408fc1"/>
<use href="#h" x="874.4" y="226.5" fill="#3480b9"/>
<use href="#h" x="877.4" y="242.0" fill="#bd2d35"/>
<use href="#h" x="868.5" y="231.7" fill="#67001f"/>
<use href="#h" x="883.4" y="236.9" fill="#f6f7f7"/>
<use href="#h" x="865.5" y="216.1" fill="#4291c2"/>
<use href="#h" x="871.5" y="210.9" fill="#67001f"/>
<use href="#h" x="859.5" y="221.3" fill="#fbccb4"/>
<use href="#h" x="864.0" y="208.4" fill="#d35a4a"/>
<use href="#h" x="867.0" y="223.9" fill="#9dcbe1"/>
<use href="#h" x="858.0" y="213.5" fill="#3783bb"/>
<use href="#h" x="873.0" y="218.7" fill="#67001f"/>
<use href="#h" x="1001.6" y="415.6" fill="#eaf1f5"/>
<use href="#h" x="1007.6" y="410.4" fill="#e8896c"/>
<use href="#h" x="995.6" y="420.8" fill="#67001f"/>
<use href="#h" x="1000.1" y="407.8" fill="#d35a4a"/>
<use href="#h" x="1003.1" y="423.4" fill="#c7e0ed"/>
<use href="#h" x="994.1" y="413.0" fill="#67001f"/>
<use href="#h" x="1009.1" y="418.2" fill="#a0cce2"/>
<use href="#h" x="991.1" y="397.5" fill="#edf2f5"/>
<use href="#h" x="997.1" y="392.3" fill="#f8f2ef"/>
<use href="#h" x="985.1" y="402.7" fill="#a5cee3"/>
<use href="#h" x="989.6" y="389.7" fill="#81bad8"/>
<use href="#h" x="992.6" y="405.3" fill="#e9f0f4"/>
<use href="#h" x="983.6" y="394.9" fill="#acd2e5"/>
<use href="#h" x="998.6" y="400.1" fill="#edf2f5"/>
<use href="#h" x="980.6" y="379.3" fill="#67001f"/>
<use href="#h" x="986.6" y="374.2" fill="#67001f"/>
<use href="#h" x="974.7" y="384.5" fill="#67001f"/>
<use href="#h" x="979.2" y="371.6" fill="#67001f"/>
<use href="#h" x="982.1" y="387.1" fill="#b1182b"/>
<use href="#h" x="973.2" y="376.8" fill="#67001f"/>
<use href="#h" x="988.1" y="381.9" fill="#67001f"/>
<use href="#h" x="970.2" y="361.2" fill="#8d0c25"/>
<use href="#h" x="976.2" y="356.0" fill="#de735c"/>
<use href="#h" x="964.2" y="366.4" fill="#fcd5bf"/>
<use href="#h" x="968.7" y="353.4" fill="#f2f5f6"/>
<use href="#h" x="971.7" y="369.0" fill="#2f79b5"/>
<use href="#h" x="962.7" y="358.6" fill="#fac8af"/>
<use href="#h" x="977.7" y="363.8" fill="#67001f"/>
<use href="#h" x="959.7" y="343.1" fill="#073467"/>
<use href="#h" x="965.7" y="337.9" fill="#a9d1e5"/>
<use href="#h" x="953.7" y="348.3" fill="#2b73b3"/>
<use href="#h" x="958.2" y="335.3" fill="#67001f"/>
<use href="#h" x="961.2" y="350.8" fill="#67001f"/>
<use href="#h" x="952.2" y="340.5" fill="#408fc1"/>
<use href="#h" x="967.2" y="345.7" fill="#0c3d73"/>
<use href="#h" x="949.2" y="324.9" fill="#dd7059"/>
<use href="#h" x="955.2" y="319.8" fill="#e6866a"/>
<use href="#h" x="943.3" y="330.1" fill="#b3d6e8"/>
<use href="#h" x="947.7" y="317.2" fill="#b41c2d"/>
<use href="#h" x="950.7" y="332.7" fill="#3681ba"/>
<use href="#h" x="941.8" y="322.4" fill="#f5f6f7"/>
<use href="#h" x="956.7" y="327.5" fill="#266caf"/>
<use href="#h" x="938.8" y="306.8" fill="#67001f"/>
<use href="#h" x="944.7" y="301.6" fill="#2f79b5"/>
<use href="#h" x="932.8" y="312.0" fill="#10457e"/>
<use href="#h" x="937.3" y="299.0" fill="#b3d6e8"/>
<use href="#h" x="940.3" y="314.6" fill="#bd2d35"/>
<use href="#h" x="931.3" y="304.2" fill="#81bad8"/>
<use href="#h" x="946.2" y="309.4" fill="#d6604d"/>
<use href="#h" x="928.3" y="288.7" fill="#3681ba"/>
<use href="#h" x="934.3" y="283.5" fill="#96c7df"/>
<use href="#h" x="922.3" y="293.9" fill="#67001f"/>
<use href="#h" x="926.8" y="280.9" fill="#ae172a"/>
<use href="#h" x="929.8" y="296.4" fill="#bbdaea"/>
<use href="#h" x="920.8" y="286.1" fill="#2f79b5"/>
<use href="#h" x="935.8" y="291.3" fill="#90c4dd"/>
<use href="#h" x="917.8" y="270.5" fill="#67001f"/>
<use href="#h" x="923.8" y="265.4" fill="#3c8abe"/>
<use href="#h" x="911.8" y="275.7" fill="#b1182b"/>
<use href="#h" x="916.3" y="262.8" fill="#3480b9"/>
<use href="#h" x="919.3" y="278.3" fill="#307ab6"/>
<use href="#h" x="910.3" y="267.9" fill="#266caf"/>
<use href="#h" x="925.3" y="273.1" fill="#327cb7"/>
<use href="#h" x="907.4" y="252.4" fill="#67001f"/>
<use href="#h" x="913.3" y="247.2" fill="#f6f7f7"/>
<use href="#h" x="901.4" y="257.6" fill="#f8bfa4"/>
<use href="#h" x="905.9" y="244.6" fill="#ea8e70"/>
<use href="#h" x="908.8" y="260.2" fill="#ecf2f5"/>
<use href="#h" x="899.9" y="249.8" fill="#09386d"/>
<use href="#h" x="914.8" y="255.0" fill="#8dc2dc"/>
<use href="#h" x="896.9" y="234.3" fill="#67001f"/>
<use href="#h" x="902.9" y="229.1" fill="#67001f"/>
<use href="#h" x="890.9" y="239.4" fill="#bddbea"/>
<use href="#h" x="895.4" y="226.5" fill="#930e26"/>
<use href="#h" x="898.4" y="242.0" fill="#67001f"/>
<use href="#h" x="889.4" y="231.7" fill="#3f8ec0"/>
<use href="#h" x="904.4" y="236.9" fill="#3b88be"/>
<use href="#h" x="886.4" y="216.1" fill="#67001f"/>
<use href="#h" x="892.4" y="210.9" fill="#ba2832"/>
<use href="#h" x="880.4" y="221.3" fill="#67001f"/>
<use href="#h" x="884.9" y="208.4" fill="#67001f"/>
<use href="#h" x="887.9" y="223.9" fill="#67001f"/>
<use href="#h" x="878.9" y="213.5" fill="#0f437b"/>
<use href="#h" x="893.9" y="218.7" fill="#b8d8e9"/>
<use href="#h" x="875.9" y="198.0" fill="#3f8ec0"/>
<use href="#h" x="881.9" y="192.8" fill="#b6d7e8"/>
<use href="#h" x="870.0" y="203.2" fill="#df765e"/>
<use href="#h" x="874.4" y="190.2" fill="#3a87bd"/>
<use href="#h" x="877.4" y="205.8" fill="#67001f"/>
<use href="#h" x="868.5" y="195.4" fill="#67001f"/>
<use href="#h" x="883.4" y="200.6" fill="#67001f"/>
<use href="#h" x="1022.5" y="415.6" fill="#9bc9e0"/>
<use href="#h" x="1028.5" y="410.4" fill="#266caf"/>
<use href="#h" x="1016.5" y="420.8" fill="#3f8ec0"/>
<use href="#h" x="1021.0" y="407.8" fill="#c7e0ed"/>
<use href="#h" x="1024.0" y="423.4" fill="#337eb8"/>
<use href="#h" x="1015.0" y="413.0" fill="#a5cee3"/>
<use href="#h" x="1030.0" y="418.2" fill="#2f79b5"/>
<use href="#h" x="1012.1" y="397.5" fill="#f9c6ac"/>
<use href="#h" x="1018.0" y="392.3" fill="#67001f"/>
<use href="#h" x="1006.1" y="402.7" fill="#e6866a"/>
<use href="#h" x="1010.6" y="389.7" fill="#67001f"/>
<use href="#h" x="1013.6" y="405.3" fill="#aed3e6"/>
<use href="#h" x="1004.6" y="394.9" fill="#bddbea"/>
<use href="#h" x="1019.5" y="400.1" fill="#d25849"/>
<use href="#h" x="1001.6" y="379.3" fill="#67001f"/>
<use href="#h" x="1007.6" y="374.2" fill="#81bad8"/>
<use href="#h" x="995.6" y="384.5" fill="#67001f"/>
<use href="#h" x="1000.1" y="371.6" fill="#3a87bd"/>
<use href="#h" x="1003.1" y="387.1" fill="#67001f"/>
<use href="#h" x="994.1" y="376.8" fill="#b3d6e8"/>
<use href="#h" x="1009.1" y="381.9" fill="#810823"/>
<use href="#h" x="991.1" y="361.2" fill="#f7f6f6"/>
<use href="#h" x="997.1" y="356.0" fill="#e17860"/>
<use href="#h" x="985.1" y="366.4" fill="#67001f"/>
<use href="#h" x="989.6" y="353.4" fill="#2e77b5"/>
<use href="#h" x="992.6" y="369.0" fill="#c2ddec"/>
<use href="#h" x="983.6" y="358.6" fill="#67001f"/>
<use href="#h" x="998.6" y="363.8" fill="#266caf"/>
<use href="#h" x="980.6" y="343.1" fill="#67001f"/>
<use href="#h" x="986.6" y="337.9" fill="#67001f"/>
<use href="#h" x="974.7" y="348.3" fill="#67001f"/>
<use href="#h" x="979.2" y="335.3" fill="#9dcbe1"/>
<use href="#h" x="982.1" y="350.8" fill="#67001f"/>
<use href="#h" x="973.2" y="340.5" fill="#67001f"/>
<use href="#h" x="988.1" y="345.7" fill="#67001f"/>
<use href="#h" x="970.2" y="324.9" fill="#67001f"/>
<use href="#h" x="976.2" y="319.8" fill="#c0dceb"/>
<use href="#h" x="964.2" y="330.1" fill="#67001f"/>
<use href="#h" x="968.7" y="317.2" fill="#fbceb7"/>
<use href="#h" x="971.7" y="332.7" fill="#3a87bd"/>
<use href="#h" x="962.7" y="322.4" fill="#c0dceb"/>
<use href="#h" x="977.7" y="327.5" fill="#3c8abe"/>
<use href="#h" x="959.7" y="306.8" fill="#f6f7f7"/>
<use href="#h" x="965.7" y="301.6" fill="#f8bb9e"/>
<use href="#h" x="953.7" y="312.0" fill="#f9c4a9"/>
<use href="#h" x="958.2" y="299.0" fill="#fbd0b9"/>
<use href="#h" x="961.2" y="314.6" fill="#fbccb4"/>
<use href="#h" x="952.2" y="304.2" fill="#b82531"/>
<use href="#h" x="967.2" y="309.4" fill="#fbccb4"/>
<use href="#h" x="949.2" y="288.7" fill="#2e77b5"/>
<use href="#h" x="955.2" y="283.5" fill="#67001f"/>
<use href="#h" x="943.3" y="293.9" fill="#67001f"/>
<use href="#h" x="947.7" y="280.9" fill="#f7b99c"/>
<use href="#h" x="950.7" y="296.4" fill="#67001f"/>
<use href="#h" x="941.8" y="286.1" fill="#67001f"/>
<use href="#h" x="956.7" y="291.3" fill="#67001f"/>
<use href="#h" x="938.8" y="270.5" fill="#87beda"/>
<use href="#h" x="944.7" y="265.4" fill="#f2f5f6"/>
<use href="#h" x="932.8" y="275.7" fill="#87beda"/>
<use href="#h" x="937.3" y="262.8" fill="#67001f"/>
<use href="#h" x="940.3" y="278.3" fill="#67001f"/>
<use href="#h" x="931.3" y="267.9" fill="#67001f"/>
<use href="#h" x="946.2" y="273.1" fill="#b1182b"/>
<use href="#h" x="928.3" y="252.4" fill="#67001f"/>
<use href="#h" x="934.3" y="247.2" fill="#67001f"/>
<use href="#h" x="922.3" y="257.6" fill="#f9c4a9"/>
<use href="#h" x="926.8" y="244.6" fill="#760521"/>
<use href="#h" x="929.8" y="260.2" fill="#fcd7c2"/>
<use href="#h" x="920.8" y="249.8" fill="#3885bc"/>
<use href="#h" x="935.8" y="255.0" fill="#114781"/>
<use href="#h" x="917.8" y="234.3" fill="#b6d7e8"/>
<use href="#h" x="923.8" y="229.1" fill="#d35a4a"/>
<use href="#h" x="911.8" y="239.4" fill="#e98b6e"/>
<use href="#h" x="916.3" y="226.5" fill="#67001f"/>
<use href="#h" x="919.3" y="242.0" fill="#67001f"/>
<use href="#h" x="910.3" y="231.7" fill="#2a71b2"/>
<use href="#h" x="925.3" y="236.9" fill="#67001f"/>
<use href="#h" x="907.4" y="216.1" fill="#67001f"/>
<use href="#h" x="913.3" y="210.9" fill="#d25849"/>
<use href="#h" x="901.4" y="221.3" fill="#7f0823"/>
<use href="#h" x="905.9" y="208.4" fill="#67001f"/>
<use href="#h" x="908.8" y="223.9" fill="#db6b55"/>
<use href="#h" x="899.9" y="213.5" fill="#08366a"/>
<use href="#h" x="914.8" y="218.7" fill="#d7634f"/>
<use href="#h" x="896.9" y="198.0" fill="#67001f"/>
<use href="#h" x="902.9" y="192.8" fill="#67001f"/>
<use href="#h" x="890.9" y="203.2" fill="#67001f"/>
<use href="#h" x="895.4" y="190.2" fill="#67001f"/>
<use href="#h" x="898.4" y="205.8" fill="#67001f"/>
<use href="#h" x="889.4" y="195.4" fill="#67001f"/>
<use href="#h" x="904.4" y="200.6" fill="#073467"/>
<use href="#h" x="886.4" y="179.9" fill="#aed3e6"/>
<use href="#h" x="892.4" y="174.7" fill="#f9f0eb"/>
<use href="#h" x="880.4" y="185.0" fill="#3885bc"/>
<use href="#h" x="884.9" y="172.1" fill="#67001f"/>
<use href="#h" x="887.9" y="187.6" fill="#e58368"/>
<use href="#h" x="878.9" y="177.3" fill="#2f79b5"/>
<use href="#h" x="893.9" y="182.4" fill="#870a24"/>
<use href="#h" x="1043.5" y="415.6" fill="#073467"/>
<use href="#h" x="1049.5" y="410.4" fill="#f7f6f6"/>
<use href="#h" x="1037.5" y="420.8" fill="#67001f"/>
<use href="#h" x="1042.0" y="407.8" fill="#87beda"/>
<use href="#h" x="1045.0" y="423.4" fill="#96c7df"/>
<use href="#h" x="1036.0" y="413.0" fill="#2870b1"/>
<use href="#h" x="1050.9" y="418.2" fill="#67001f"/>
<use href="#h" x="1033.0" y="397.5" fill="#4291c2"/>
<use href="#h" x="1039.0" y="392.3" fill="#f2f5f6"/>
<use href="#h" x="1027.0" y="402.7" fill="#3f8ec0"/>
<use href="#h" x="1031.5" y="389.7" fill="#4291c2"/>
<use href="#h" x="1034.5" y="405.3" fill="#307ab6"/>
<use href="#h" x="1025.5" y="394.9" fill="#327cb7"/>
<use href="#h" x="1040.5" y="400.1" fill="#fddbc7"/>
<use href="#h" x="1022.5" y="379.3" fill="#f9c6ac"/>
<use href="#h" x="1028.5" y="374.2" fill="#67001f"/>
<use href="#h" x="1016.5" y="384.5" fill="#c7e0ed"/>
<use href="#h" x="1021.0" y="371.6" fill="#81bad8"/>
<use href="#h" x="1024.0" y="387.1" fill="#307ab6"/>
<use href="#h" x="1015.0" y="376.8" fill="#67001f"/>
<use href="#h" x="1030.0" y="381.9" fill="#760521"/>
<use href="#h" x="1012.1" y="361.2" fill="#67001f"/>
<use href="#h" x="1018.0" y="356.0" fill="#acd2e5"/>
<use href="#h" x="1006.1" y="366.4" fill="#f9f0eb"/>
<use href="#h" x="1010.6" y="353.4" fill="#67001f"/>
<use href="#h" x="1013.6" y="369.0" fill="#c0dceb"/>
<use href="#h" x="1004.6" y="358.6" fill="#b8d8e9"/>
<use href="#h" x="1019.5" y="363.8" fill="#f7f5f4"/>
<use href="#h" x="1001.6" y="343.1" fill="#eb9172"/>
<use href="#h" x="1007.6" y="337.9" fill="#337eb8"/>
<use href="#h" x="995.6" y="348.3" fill="#67001f"/>
<use href="#h" x="1000.1" y="335.3" fill="#f8f1ed"/>
<use href="#h" x="1003.1" y="350.8" fill="#3f8ec0"/>
<use href="#h" x="994.1" y="340.5" fill="#67001f"/>
<use href="#h" x="1009.1" y="345.7" fill="#bb2a34"/>
<use href="#h" x="991.1" y="324.9" fill="#9f1228"/>
<use href="#h" x="997.1" y="319.8" fill="#2e77b5"/>
<use href="#h" x="985.1" y="330.1" fill="#337eb8"/>
<use href="#h" x="989.6" y="317.2" fill="#67001f"/>
<use href="#h" x="992.6" y="332.7" fill="#266caf"/>
<use href="#h" x="983.6" y="322.4" fill="#408fc1"/>
<use href="#h" x="998.6" y="327.5" fill="#4291c2"/>
<use href="#h" x="980.6" y="306.8" fill="#fac8af"/>
<use href="#h" x="986.6" y="301.6" fill="#a2cde3"/>
<use href="#h" x="974.7" y="312.0" fill="#edf2f5"/>
<use href="#h" x="979.2" y="299.0" fill="#e27b62"/>
<use href="#h" x="982.1" y="314.6" fill="#84bcd9"/>
<use href="#h" x="973.2" y="304.2" fill="#3a87bd"/>
<use href="#h" x="988.1" y="309.4" fill="#4291c2"/>
<use href="#h" x="970.2" y="288.7" fill="#f8bfa4"/>
<use href="#h" x="976.2" y="283.5" fill="#e48066"/>
<use href="#h" x="964.2" y="293.9" fill="#67001f"/>
<use href="#h" x="968.7" y="280.9" fill="#ec9374"/>
<use href="#h" x="971.7" y="296.4" fill="#de735c"/>
<use href="#h" x="962.7" y="286.1" fill="#fbceb7"/>
<use href="#h" x="977.7" y="291.3" fill="#e98b6e"/>
<use href="#h" x="959.7" y="270.5" fill="#db6b55"/>
<use href="#h" x="965.7" y="265.4" fill="#eb9172"/>
<use href="#h" x="953.7" y="275.7" fill="#e8896c"/>
<use href="#h" x="958.2" y="262.8" fill="#d86551"/>
<use href="#h" x="961.2" y="278.3" fill="#b6d7e8"/>
<use href="#h" x="952.2" y="267.9" fill="#d35a4a"/>
<use href="#h" x="967.2" y="273.1" fill="#eb9172"/>
<use href="#h" x="949.2" y="252.4" fill="#67001f"/>
<use href="#h" x="955.2" y="247.2" fill="#eff3f5"/>
<use href="#h" x="943.3" y="257.6" fill="#f8bda1"/>
<use href="#h" x="947.7" y="244.6" fill="#f0f4f6"/>
<use href="#h" x="950.7" y="260.2" fill="#67001f"/>
<use href="#h" x="941.8" y="249.8" fill="#f5f6f7"/>
<use href="#h" x="956.7" y="255.0" fill="#db6b55"/>
<use href="#h" x="938.8" y="234.3" fill="#67001f"/>
<use href="#h" x="944.7" y="229.1" fill="#f0f4f6"/>
<use href="#h" x="932.8" y="239.4" fill="#67001f"/>
<use href="#h" x="937.3" y="226.5" fill="#f8f4f2"/>
<use href="#h" x="940.3" y="242.0" fill="#0e4179"/>
<use href="#h" x="931.3" y="231.7" fill="#84bcd9"/>
<use href="#h" x="946.2" y="236.9" fill="#f5f6f7"/>
<use href="#h" x="928.3" y="216.1" fill="#144e8a"/>
<use href="#h" x="934.3" y="210.9" fill="#09386d"/>
<use href="#h" x="922.3" y="221.3" fill="#eff3f5"/>
<use href="#h" x="926.8" y="208.4" fill="#053061"/>
<use href="#h" x="929.8" y="223.9" fill="#0d3f76"/>
<use href="#h" x="920.8" y="213.5" fill="#fdd9c4"/>
<use href="#h" x="935.8" y="218.7" fill="#fbd0b9"/>
<use href="#h" x="917.8" y="198.0" fill="#15508d"/>
<use href="#h" x="923.8" y="192.8" fill="#67001f"/>
<use href="#h" x="911.8" y="203.2" fill="#67001f"/>
<use href="#h" x="916.3" y="190.2" fill="#67001f"/>
<use href="#h" x="919.3" y="205.8" fill="#0e4179"/>
<use href="#h" x="910.3" y="195.4" fill="#67001f"/>
<use href="#h" x="925.3" y="200.6" fill="#b3d6e8"/>
<use href="#h" x="907.4" y="179.9" fill="#67001f"/>
<use href="#h" x="913.3" y="174.7" fill="#67001f"/>
<use href="#h" x="901.4" y="185.0" fill="#67001f"/>
<use href="#h" x="905.9" y="172.1" fill="#c2ddec"/>
<use href="#h" x="908.8" y="187.6" fill="#d6604d"/>
<use href="#h" x="899.9" y="177.3" fill="#e6866a"/>
<use href="#h" x="914.8" y="182.4" fill="#790622"/>
<use href="#h" x="896.9" y="161.7" fill="#0c3d73"/>
<use href="#h" x="902.9" y="156.5" fill="#c2ddec"/>
<use href="#h" x="890.9" y="166.9" fill="#f9f0eb"/>
<use href="#h" x="895.4" y="153.9" fill="#f3f5f6"/>
<use href="#h" x="898.4" y="169.5" fill="#2e77b5"/>
<use href="#h" x="889.4" y="159.1" fill="#f7f6f6"/>
<use href="#h" x="904.4" y="164.3" fill="#fbceb7"/>
<use href="#h" x="1064.4" y="415.6" fill="#c0dceb"/>
<use href="#h" x="1070.4" y="410.4" fill="#d35a4a"/>
<use href="#h" x="1058.4" y="420.8" fill="#67001f"/>
<use href="#h" x="1062.9" y="407.8" fill="#f8bda1"/>
<use href="#h" x="1065.9" y="423.4" fill="#8d0c25"/>
<use href="#h" x="1056.9" y="413.0" fill="#facab1"/>
<use href="#h" x="1071.9" y="418.2" fill="#be3036"/>
<use href="#h" x="1053.9" y="397.5" fill="#f8f1ed"/>
<use href="#h" x="1059.9" y="392.3" fill="#e9f0f4"/>
<use href="#h" x="1048.0" y="402.7" fill="#f8f2ef"/>
<use href="#h" x="1052.4" y="389.7" fill="#67001f"/>
<use href="#h" x="1055.4" y="405.3" fill="#f8f3f0"/>
<use href="#h" x="1046.5" y="394.9" fill="#fbccb4"/>
<use href="#h" x="1061.4" y="400.1" fill="#f8bb9e"/>
<use href="#h" x="1043.5" y="379.3" fill="#810823"/>
<use href="#h" x="1049.5" y="374.2" fill="#67001f"/>
<use href="#h" x="1037.5" y="384.5" fill="#a9d1e5"/>
<use href="#h" x="1042.0" y="371.6" fill="#0d3f76"/>
<use href="#h" x="1045.0" y="387.1" fill="#124984"/>
<use href="#h" x="1036.0" y="376.8" fill="#67001f"/>
<use href="#h" x="1050.9" y="381.9" fill="#053061"/>
<use href="#h" x="1033.0" y="361.2" fill="#67001f"/>
<use href="#h" x="1039.0" y="356.0" fill="#a7d0e4"/>
<use href="#h" x="1027.0" y="366.4" fill="#67001f"/>
<use href="#h" x="1031.5" y="353.4" fill="#67001f"/>
<use href="#h" x="1034.5" y="369.0" fill="#67001f"/>
<use href="#h" x="1025.5" y="358.6" fill="#67001f"/>
<use href="#h" x="1040.5" y="363.8" fill="#9c1127"/>
<use href="#h" x="1022.5" y="343.1" fill="#67001f"/>
<use href="#h" x="1028.5" y="337.9" fill="#67001f"/>
<use href="#h" x="1016.5" y="348.3" fill="#67001f"/>
<use href="#h" x="1021.0" y="335.3" fill="#edf2f5"/>
<use href="#h" x="1024.0" y="350.9" fill="#67001f"/>
<use href="#h" x="1015.0" y="340.5" fill="#67001f"/>
<use href="#h" x="1030.0" y="345.7" fill="#b61f2e"/>
<use href="#h" x="1012.1" y="324.9" fill="#fbd0b9"/>
<use href="#h" x="1018.0" y="319.8" fill="#93c6de"/>
<use href="#h" x="1006.1" y="330.1" fill="#67001f"/>
<use href="#h" x="1010.6" y="317.2" fill="#67001f"/>
<use href="#h" x="1013.6" y="332.7" fill="#67001f"/>
<use href="#h" x="1004.6" y="322.4" fill="#67001f"/>
<use href="#h" x="1019.5" y="327.5" fill="#67001f"/>
<use href="#h" x="1001.6" y="306.8" fill="#67001f"/>
<use href="#h" x="1007.6" y="301.6" fill="#67001f"/>
<use href="#h" x="995.6" y="312.0" fill="#67001f"/>
<use href="#h" x="1000.1" y="299.0" fill="#dd7059"/>
<use href="#h" x="1003.1" y="314.6" fill="#900d26"/>
<use href="#h" x="994.1" y="304.2" fill="#b1d5e7"/>
<use href="#h" x="1009.1" y="309.4" fill="#de735c"/>
<use href="#h" x="991.1" y="288.7" fill="#b41c2d"/>
<use href="#h" x="997.1" y="283.5" fill="#81bad8"/>
<use href="#h" x="985.1" y="293.9" fill="#a7d0e4"/>
<use href="#h" x="989.6" y="280.9" fill="#67001f"/>
<use href="#h" x="992.6" y="296.4" fill="#930e26"/>
<use href="#h" x="983.6" y="286.1" fill="#09386d"/>
<use href="#h" x="998.6" y="291.3" fill="#840924"/>
<use href="#h" x="980.6" y="270.5" fill="#d35a4a"/>
<use href="#h" x="986.6" y="265.4" fill="#67001f"/>
<use href="#h" x="974.7" y="275.7" fill="#67001f"/>
<use href="#h" x="979.2" y="262.8" fill="#be3036"/>
<use href="#h" x="982.1" y="278.3" fill="#67001f"/>
<use href="#h" x="973.2" y="267.9" fill="#d7634f"/>
<use href="#h" x="988.1" y="273.1" fill="#900d26"/>
<use href="#h" x="970.2" y="252.4" fill="#ae172a"/>
<use href="#h" x="976.2" y="247.2" fill="#67001f"/>
<use href="#h" x="964.2" y="257.6" fill="#67001f"/>
<use href="#h" x="968.7" y="244.6" fill="#b61f2e"/>
<use href="#h" x="971.7" y="260.2" fill="#ab162a"/>
<use href="#h" x="962.7" y="249.8" fill="#9f1228"/>
<use href="#h" x="977.7" y="255.0" fill="#be3036"/>
<use href="#h" x="959.7" y="234.3" fill="#ae172a"/>
<use href="#h" x="965.7" y="229.1" fill="#67001f"/>
<use href="#h" x="953.7" y="239.4" fill="#f7f6f6"/>
<use href="#h" x="958.2" y="226.5" fill="#a21328"/>
<use href="#h" x="961.2" y="242.0" fill="#87beda"/>
<use href="#h" x="952.2" y="231.7" fill="#b8d8e9"/>
<use href="#h" x="967.2" y="236.9" fill="#67001f"/>
<use href="#h" x="949.2" y="216.1" fill="#053061"/>
<use href="#h" x="955.2" y="210.9" fill="#67001f"/>
<use href="#h" x="943.3" y="221.3" fill="#67001f"/>
<use href="#h" x="947.7" y="208.4" fill="#67001f"/>
<use href="#h" x="950.7" y="223.9" fill="#b41c2d"/>
<use href="#h" x="941.8" y="213.5" fill="#08366a"/>
<use href="#h" x="956.7" y="218.7" fill="#9c1127"/>
<use href="#h" x="938.8" y="198.0" fill="#991027"/>
<use href="#h" x="944.7" y="192.8" fill="#ab162a"/>
<use href="#h" x="932.8" y="203.2" fill="#90c4dd"/>
<use href="#h" x="937.3" y="190.2" fill="#67001f"/>
<use href="#h" x="940.3" y="205.8" fill="#67001f"/>
<use href="#h" x="931.3" y="195.4" fill="#0c3d73"/>
<use href="#h" x="946.2" y="200.6" fill="#991027"/>
<use href="#h" x="928.3" y="179.9" fill="#67001f"/>
<use href="#h" x="934.3" y="174.7" fill="#3b88be"/>
<use href="#h" x="922.3" y="185.0" fill="#67001f"/>
<use href="#h" x="926.8" y="172.1" fill="#2c75b4"/>
<use href="#h" x="929.8" y="187.6" fill="#10457e"/>
<use href="#h" x="920.8" y="177.3" fill="#67001f"/>
<use href="#h" x="935.8" y="182.4" fill="#114781"/>
<use href="#h" x="917.8" y="161.7" fill="#67001f"/>
<use href="#h" x="923.8" y="156.5" fill="#67001f"/>
<use href="#h" x="911.8" y="166.9" fill="#327cb7"/>
<use href="#h" x="916.3" y="153.9" fill="#0e4179"/>
<use href="#h" x="919.3" y="169.5" fill="#87beda"/>
<use href="#h" x="910.3" y="159.1" fill="#a0cce2"/>
<use href="#h" x="925.3" y="164.3" fill="#7f0823"/>
<use href="#h" x="907.4" y="143.6" fill="#bddbea"/>
<use href="#h" x="913.3" y="138.4" fill="#90c4dd"/>
<use href="#h" x="901.4" y="148.8" fill="#67001f"/>
<use href="#h" x="905.9" y="135.8" fill="#c5dfec"/>
<use href="#h" x="908.8" y="151.4" fill="#67001f"/>
<use href="#h" x="899.9" y="141.0" fill="#90c4dd"/>
<use href="#h" x="914.8" y="146.2" fill="#2c75b4"/>
<use href="#h" x="1085.4" y="415.6" fill="#b6d7e8"/>
<use href="#h" x="1091.3" y="410.4" fill="#84bcd9"/>
<use href="#h" x="1079.4" y="420.8" fill="#c5dfec"/>
<use href="#h" x="1083.9" y="407.8" fill="#f9f0eb"/>
<use href="#h" x="1086.8" y="423.4" fill="#b6d7e8"/>
<use href="#h" x="1077.9" y="413.0" fill="#f8f1ed"/>
<use href="#h" x="1092.8" y="418.2" fill="#90c4dd"/>
<use href="#h" x="1074.9" y="397.5" fill="#e58368"/>
<use href="#h" x="1080.9" y="392.3" fill="#15508d"/>
<use href="#h" x="1068.9" y="402.7" fill="#d6604d"/>
<use href="#h" x="1073.4" y="389.7" fill="#e8896c"/>
<use href="#h" x="1076.4" y="405.3" fill="#f2f5f6"/>
<use href="#h" x="1067.4" y="394.9" fill="#f9c4a9"/>
<use href="#h" x="1082.4" y="400.1" fill="#c0dceb"/>
<use href="#h" x="1064.4" y="379.3" fill="#991027"/>
<use href="#h" x="1070.4" y="374.2" fill="#da6853"/>
<use href="#h" x="1058.4" y="384.5" fill="#67001f"/>
<use href="#h" x="1062.9" y="371.6" fill="#bb2a34"/>
<use href="#h" x="1065.9" y="387.1" fill="#ea8e70"/>
<use href="#h" x="1056.9" y="376.8" fill="#0a3b70"/>
<use href="#h" x="1071.9" y="381.9" fill="#fcd5bf"/>
<use href="#h" x="1053.9" y="361.2" fill="#67001f"/>
<use href="#h" x="1059.9" y="356.0" fill="#df765e"/>
<use href="#h" x="1048.0" y="366.4" fill="#c2383a"/>
<use href="#h" x="1052.4" y="353.4" fill="#3b88be"/>
<use href="#h" x="1055.4" y="369.0" fill="#67001f"/>
<use href="#h" x="1046.5" y="358.6" fill="#67001f"/>
<use href="#h" x="1061.4" y="363.8" fill="#93c6de"/>
<use href="#h" x="1043.5" y="343.1" fill="#2b73b3"/>
<use href="#h" x="1049.5" y="337.9" fill="#fbd0b9"/>
<use href="#h" x="1037.5" y="348.3" fill="#b3d6e8"/>
<use href="#h" x="1042.0" y="335.3" fill="#337eb8"/>
<use href="#h" x="1045.0" y="350.9" fill="#327cb7"/>
<use href="#h" x="1036.0" y="340.5" fill="#67001f"/>
<use href="#h" x="1050.9" y="345.7" fill="#67001f"/>
<use href="#h" x="1033.0" y="324.9" fill="#fac8af"/>
<use href="#h" x="1039.0" y="319.8" fill="#960f27"/>
<use href="#h" x="1027.0" y="330.1" fill="#c7e0ed"/>
<use href="#h" x="1031.5" y="317.2" fill="#67001f"/>
<use href="#h" x="1034.5" y="332.7" fill="#b41c2d"/>
<use href="#h" x="1025.5" y="322.4" fill="#acd2e5"/>
<use href="#h" x="1040.5" y="327.5" fill="#9dcbe1"/>
<use href="#h" x="1022.5" y="306.8" fill="#67001f"/>
<use href="#h" x="1028.5" y="301.6" fill="#67001f"/>
<use href="#h" x="1016.5" y="312.0" fill="#ab162a"/>
<use href="#h" x="1021.0" y="299.0" fill="#67001f"/>
<use href="#h" x="1024.0" y="314.6" fill="#67001f"/>
<use href="#h" x="1015.1" y="304.2" fill="#3480b9"/>
<use href="#h" x="1030.0" y="309.4" fill="#67001f"/>
<use href="#h" x="1012.1" y="288.7" fill="#ea8e70"/>
<use href="#h" x="1018.0" y="283.5" fill="#3783bb"/>
<use href="#h" x="1006.1" y="293.9" fill="#3b88be"/>
<use href="#h" x="1010.6" y="280.9" fill="#67001f"/>
<use href="#h" x="1013.6" y="296.4" fill="#67001f"/>
<use href="#h" x="1004.6" y="286.1" fill="#a0cce2"/>
<use href="#h" x="1019.5" y="291.3" fill="#d7634f"/>
<use href="#h" x="1001.6" y="270.5" fill="#67001f"/>
<use href="#h" x="1007.6" y="265.4" fill="#e8896c"/>
<use href="#h" x="995.6" y="275.7" fill="#7c0722"/>
<use href="#h" x="1000.1" y="262.8" fill="#f8bb9e"/>
<use href="#h" x="1003.1" y="278.3" fill="#bd2d35"/>
<use href="#h" x="994.1" y="267.9" fill="#de735c"/>
<use href="#h" x="1009.1" y="273.1" fill="#f3f5f6"/>
<use href="#h" x="991.1" y="252.4" fill="#67001f"/>
<use href="#h" x="997.1" y="247.2" fill="#408fc1"/>
<use href="#h" x="985.1" y="257.6" fill="#bb2a34"/>
<use href="#h" x="989.6" y="244.6" fill="#3480b9"/>
<use href="#h" x="992.6" y="260.2" fill="#fcd7c2"/>
<use href="#h" x="983.6" y="249.8" fill="#3a87bd"/>
<use href="#h" x="998.6" y="255.0" fill="#fcd5bf"/>
<use href="#h" x="980.6" y="234.3" fill="#67001f"/>
<use href="#h" x="986.6" y="229.1" fill="#67001f"/>
<use href="#h" x="974.7" y="239.4" fill="#db6b55"/>
<use href="#h" x="979.2" y="226.5" fill="#f8bfa4"/>
<use href="#h" x="982.1" y="242.0" fill="#960f27"/>
<use href="#h" x="973.2" y="231.7" fill="#67001f"/>
<use href="#h" x="988.1" y="236.9" fill="#67001f"/>
<use href="#h" x="970.2" y="216.1" fill="#67001f"/>
<use href="#h" x="976.2" y="210.9" fill="#67001f"/>
<use href="#h" x="964.2" y="221.3" fill="#fcd7c2"/>
<use href="#h" x="968.7" y="208.4" fill="#67001f"/>
<use href="#h" x="971.7" y="223.9" fill="#f9c4a9"/>
<use href="#h" x="962.7" y="213.5" fill="#d25849"/>
<use href="#h" x="977.7" y="218.7" fill="#f9c4a9"/>
<use href="#h" x="959.7" y="198.0" fill="#fbccb4"/>
<use href="#h" x="965.7" y="192.8" fill="#0d3f76"/>
<use href="#h" x="953.7" y="203.2" fill="#c2383a"/>
<use href="#h" x="958.2" y="190.2" fill="#e27b62"/>
<use href="#h" x="961.2" y="205.8" fill="#f8bfa4"/>
<use href="#h" x="952.2" y="195.4" fill="#67001f"/>
<use href="#h" x="967.2" y="200.6" fill="#246aae"/>
<use href="#h" x="949.2" y="179.9" fill="#e27b62"/>
<use href="#h" x="955.2" y="174.7" fill="#d25849"/>
<use href="#h" x="943.3" y="185.0" fill="#67001f"/>
<use href="#h" x="947.7" y="172.1" fill="#2a71b2"/>
<use href="#h" x="950.7" y="187.6" fill="#0f437b"/>
<use href="#h" x="941.8" y="177.3" fill="#3c8abe"/>
<use href="#h" x="956.7" y="182.4" fill="#144e8a"/>
<use href="#h" x="938.8" y="161.7" fill="#f9c4a9"/>
<use href="#h" x="944.7" y="156.5" fill="#f8bfa4"/>
<use href="#h" x="932.8" y="166.9" fill="#67001f"/>
<use href="#h" x="937.3" y="153.9" fill="#fcd3bc"/>
<use href="#h" x="940.3" y="169.5" fill="#e17860"/>
<use href="#h" x="931.3" y="159.1" fill="#67001f"/>
<use href="#h" x="946.2" y="164.3" fill="#67001f"/>
<use href="#h" x="928.3" y="143.6" fill="#87beda"/>
<use href="#h" x="934.3" y="138.4" fill="#a0cce2"/>
<use href="#h" x="922.3" y="148.8" fill="#67001f"/>
<use href="#h" x="926.8" y="135.8" fill="#67001f"/>
<use href="#h" x="929.8" y="151.4" fill="#e6866a"/>
<use href="#h" x="920.8" y="141.0" fill="#67001f"/>
<use href="#h" x="935.8" y="146.2" fill="#fbd0b9"/>
<use href="#h" x="917.8" y="125.5" fill="#67001f"/>
<use href="#h" x="923.8" y="120.3" fill="#67001f"/>
<use href="#h" x="911.8" y="130.6" fill="#c0dceb"/>
<use href="#h" x="916.3" y="117.7" fill="#3a87bd"/>
<use href="#h" x="919.3" y="133.2" fill="#bddbea"/>
<use href="#h" x="910.3" y="122.9" fill="#98c8e0"/>
<use href="#h" x="925.3" y="128.0" fill="#7eb8d7"/>
<use href="#h" x="1106.3" y="415.6" fill="#ec9374"/>
<use href="#h" x="1112.3" y="410.4" fill="#d35a4a"/>
<use href="#h" x="1100.3" y="420.8" fill="#bd2d35"/>
<use href="#h" x="1104.8" y="407.8" fill="#b3192c"/>
<use href="#h" x="1107.8" y="423.4" fill="#da6853"/>
<use href="#h" x="1098.8" y="413.0" fill="#e48066"/>
<use href="#h" x="1113.8" y="418.2" fill="#db6b55"/>
<use href="#h" x="1095.8" y="397.5" fill="#ec9374"/>
<use href="#h" x="1101.8" y="392.3" fill="#db6b55"/>
<use href="#h" x="1089.8" y="402.7" fill="#d7634f"/>
<use href="#h" x="1094.3" y="389.7" fill="#e27b62"/>
<use href="#h" x="1097.3" y="405.3" fill="#ea8e70"/>
<use href="#h" x="1088.3" y="394.9" fill="#ea8e70"/>
<use href="#h" x="1103.3" y="400.1" fill="#e98b6e"/>
<use href="#h" x="1085.4" y="379.3" fill="#f8bda1"/>
<use href="#h" x="1091.3" y="374.2" fill="#fbceb7"/>
<use href="#h" x="1079.4" y="384.5" fill="#81bad8"/>
<use href="#h" x="1083.9" y="371.6" fill="#f3f5f6"/>
<use href="#h" x="1086.8" y="387.1" fill="#d7634f"/>
<use href="#h" x="1077.9" y="376.8" fill="#eff3f5"/>
<use href="#h" x="1092.8" y="381.9" fill="#fbceb7"/>
<use href="#h" x="1074.9" y="361.2" fill="#f9f0eb"/>
<use href="#h" x="1080.9" y="356.0" fill="#f9ede5"/>
<use href="#h" x="1068.9" y="366.4" fill="#edf2f5"/>
<use href="#h" x="1073.4" y="353.4" fill="#8ac0db"/>
<use href="#h" x="1076.4" y="369.0" fill="#f8f1ed"/>
<use href="#h" x="1067.4" y="358.6" fill="#f7f6f6"/>
<use href="#h" x="1082.4" y="363.8" fill="#f5f6f7"/>
<use href="#h" x="1064.4" y="343.1" fill="#a0cce2"/>
<use href="#h" x="1070.4" y="337.9" fill="#84bcd9"/>
<use href="#h" x="1058.4" y="348.3" fill="#67001f"/>
<use href="#h" x="1062.9" y="335.3" fill="#c2ddec"/>
<use href="#h" x="1065.9" y="350.9" fill="#b3d6e8"/>
<use href="#h" x="1056.9" y="340.5" fill="#8a0b25"/>
<use href="#h" x="1071.9" y="345.7" fill="#a7d0e4"/>
<use href="#h" x="1053.9" y="324.9" fill="#408fc1"/>
<use href="#h" x="1059.9" y="319.8" fill="#c7e0ed"/>
<use href="#h" x="1048.0" y="330.1" fill="#f9ede5"/>
<use href="#h" x="1052.4" y="317.2" fill="#327cb7"/>
<use href="#h" x="1055.4" y="332.7" fill="#fbd0b9"/>
<use href="#h" x="1046.5" y="322.4" fill="#2a71b2"/>
<use href="#h" x="1061.4" y="327.5" fill="#8dc2dc"/>
<use href="#h" x="1043.5" y="306.8" fill="#67001f"/>
<use href="#h" x="1049.5" y="301.6" fill="#ea8e70"/>
<use href="#h" x="1037.5" y="312.0" fill="#67001f"/>
<use href="#h" x="1042.0" y="299.0" fill="#67001f"/>
<use href="#h" x="1045.0" y="314.6" fill="#67001f"/>
<use href="#h" x="1036.0" y="304.2" fill="#67001f"/>
<use href="#h" x="1050.9" y="309.4" fill="#9c1127"/>
<use href="#h" x="1033.0" y="288.7" fill="#67001f"/>
<use href="#h" x="1039.0" y="283.5" fill="#67001f"/>
<use href="#h" x="1027.0" y="293.9" fill="#0f437b"/>
<use href="#h" x="1031.5" y="280.9" fill="#a21328"/>
<use href="#h" x="1034.5" y="296.4" fill="#f8f1ed"/>
<use href="#h" x="1025.5" y="286.1" fill="#e17860"/>
<use href="#h" x="1040.5" y="291.3" fill="#840924"/>
<use href="#h" x="1022.5" y="270.5" fill="#2c75b4"/>
<use href="#h" x="1028.5" y="265.4" fill="#810823"/>
<use href="#h" x="1016.5" y="275.7" fill="#67001f"/>
<use href="#h" x="1021.0" y="262.8" fill="#3783bb"/>
<use href="#h" x="1024.0" y="278.3" fill="#67001f"/>
<use href="#h" x="1015.1" y="267.9" fill="#67001f"/>
<use href="#h" x="1030.0" y="273.1" fill="#9bc9e0"/>
<use href="#h" x="1012.1" y="252.4" fill="#fbceb7"/>
<use href="#h" x="1018.0" y="247.2" fill="#fbceb7"/>
<use href="#h" x="1006.1" y="257.6" fill="#bddbea"/>
<use href="#h" x="1010.6" y="244.6" fill="#4291c2"/>
<use href="#h" x="1013.6" y="260.2" fill="#fbd0b9"/>
<use href="#h" x="1004.6" y="249.8" fill="#fbd0b9"/>
<use href="#h" x="1019.5" y="255.0" fill="#3b88be"/>
<use href="#h" x="1001.6" y="234.3" fill="#67001f"/>
<use href="#h" x="1007.6" y="229.1" fill="#e17860"/>
<use href="#h" x="995.6" y="239.4" fill="#67001f"/>
<use href="#h" x="1000.1" y="226.5" fill="#67001f"/>
<use href="#h" x="1003.1" y="242.0" fill="#f8f2ef"/>
<use href="#h" x="994.1" y="231.7" fill="#a21328"/>
<use href="#h" x="1009.1" y="236.9" fill="#dc6e57"/>
<use href="#h" x="991.1" y="216.1" fill="#67001f"/>
<use href="#h" x="997.1" y="210.9" fill="#4291c2"/>
<use href="#h" x="985.1" y="221.3" fill="#67001f"/>
<use href="#h" x="989.6" y="208.4" fill="#67001f"/>
<use href="#h" x="992.6" y="223.9" fill="#67001f"/>
<use href="#h" x="983.6" y="213.5" fill="#7c0722"/>
<use href="#h" x="998.6" y="218.7" fill="#fcd5bf"/>
<use href="#h" x="980.6" y="198.0" fill="#a2cde3"/>
<use href="#h" x="986.6" y="192.8" fill="#b41c2d"/>
<use href="#h" x="974.7" y="203.2" fill="#f8f3f0"/>
<use href="#h" x="979.2" y="190.2" fill="#3783bb"/>
<use href="#h" x="982.1" y="205.8" fill="#991027"/>
<use href="#h" x="973.2" y="195.4" fill="#ab162a"/>
<use href="#h" x="988.1" y="200.6" fill="#a7d0e4"/>
<use href="#h" x="970.2" y="179.9" fill="#67001f"/>
<use href="#h" x="976.2" y="174.7" fill="#0f437b"/>
<use href="#h" x="964.2" y="185.0" fill="#e98b6e"/>
<use href="#h" x="968.7" y="172.1" fill="#facab1"/>
<use href="#h" x="971.7" y="187.6" fill="#f2f5f6"/>
<use href="#h" x="962.7" y="177.3" fill="#7f0823"/>
<use href="#h" x="977.7" y="182.4" fill="#f6f7f7"/>
<use href="#h" x="959.7" y="161.7" fill="#eb9172"/>
<use href="#h" x="965.7" y="156.5" fill="#810823"/>
<use href="#h" x="953.7" y="166.9" fill="#67001f"/>
<use href="#h" x="958.2" y="153.9" fill="#e98b6e"/>
<use href="#h" x="961.2" y="169.5" fill="#67001f"/>
<use href="#h" x="952.2" y="159.1" fill="#f9c4a9"/>
<use href="#h" x="967.2" y="164.3" fill="#810823"/>
<use href="#h" x="949.2" y="143.6" fill="#9bc9e0"/>
<use href="#h" x="955.2" y="138.4" fill="#c13639"/>
<use href="#h" x="943.3" y="148.8" fill="#fac8af"/>
<use href="#h" x="947.7" y="135.8" fill="#de735c"/>
<use href="#h" x="950.7" y="151.4" fill="#fcd7c2"/>
<use href="#h" x="941.8" y="141.0" fill="#c13639"/>
<use href="#h" x="956.7" y="146.2" fill="#124984"/>
<use href="#h" x="938.8" y="125.5" fill="#b41c2d"/>
<use href="#h" x="944.7" y="120.3" fill="#db6b55"/>
<use href="#h" x="932.8" y="130.6" fill="#fddbc7"/>
<use href="#h" x="937.3" y="117.7" fill="#10457e"/>
<use href="#h" x="940.3" y="133.2" fill="#c2ddec"/>
<use href="#h" x="931.3" y="122.9" fill="#67001f"/>
<use href="#h" x="946.2" y="128.0" fill="#960f27"/>
<use href="#h" x="928.3" y="107.3" fill="#67001f"/>
<use href="#h" x="934.3" y="102.1" fill="#c0dceb"/>
<use href="#h" x="922.3" y="112.5" fill="#67001f"/>
<use href="#h" x="926.8" y="99.5" fill="#d6604d"/>
<use href="#h" x="929.8" y="115.1" fill="#b8d8e9"/>
<use href="#h" x="920.8" y="104.7" fill="#acd2e5"/>
<use href="#h" x="935.8" y="109.9" fill="#ec9374"/>
<use href="#h" x="1116.8" y="397.5" fill="#d35a4a"/>
<use href="#h" x="1122.7" y="392.3" fill="#c13639"/>
<use href="#h" x="1110.8" y="402.7" fill="#df765e"/>
<use href="#h" x="1115.3" y="389.7" fill="#de735c"/>
<use href="#h" x="1118.3" y="405.3" fill="#b3d6e8"/>
<use href="#h" x="1109.3" y="394.9" fill="#e48066"/>
<use href="#h" x="1124.2" y="400.1" fill="#9c1127"/>
<use href="#h" x="1106.3" y="379.3" fill="#f8bda1"/>
<use href="#h" x="1112.3" y="374.2" fill="#dd7059"/>
<use href="#h" x="1100.3" y="384.5" fill="#e48066"/>
<use href="#h" x="1104.8" y="371.6" fill="#dc6e57"/>
<use href="#h" x="1107.8" y="387.1" fill="#dd7059"/>
<use href="#h" x="1098.8" y="376.8" fill="#e58368"/>
<use href="#h" x="1113.8" y="381.9" fill="#8dc2dc"/>
<use href="#h" x="1095.8" y="361.2" fill="#eaf1f5"/>
<use href="#h" x="1101.8" y="356.0" fill="#f8f3f0"/>
<use href="#h" x="1089.8" y="366.4" fill="#f5f6f7"/>
<use href="#h" x="1094.3" y="353.4" fill="#f9f0eb"/>
<use href="#h" x="1097.3" y="369.0" fill="#fcd3bc"/>
<use href="#h" x="1088.3" y="358.6" fill="#f8f1ed"/>
<use href="#h" x="1103.3" y="363.8" fill="#f8f2ef"/>
<use href="#h" x="1085.4" y="343.1" fill="#eff3f5"/>
<use href="#h" x="1091.3" y="337.9" fill="#f0f4f6"/>
<use href="#h" x="1079.4" y="348.3" fill="#f8f3f0"/>
<use href="#h" x="1083.9" y="335.3" fill="#f8f3f0"/>
<use href="#h" x="1086.8" y="350.9" fill="#ecf2f5"/>
<use href="#h" x="1077.9" y="340.5" fill="#c7e0ed"/>
<use href="#h" x="1092.8" y="345.7" fill="#f9eee7"/>
<use href="#h" x="1074.9" y="324.9" fill="#c7e0ed"/>
<use href="#h" x="1080.9" y="319.8" fill="#f8bfa4"/>
<use href="#h" x="1068.9" y="330.1" fill="#a9d1e5"/>
<use href="#h" x="1073.4" y="317.2" fill="#90c4dd"/>
<use href="#h" x="1076.4" y="332.7" fill="#7eb8d7"/>
<use href="#h" x="1067.4" y="322.4" fill="#a2cde3"/>
<use href="#h" x="1082.4" y="327.5" fill="#bbdaea"/>
<use href="#h" x="1064.4" y="306.8" fill="#408fc1"/>
<use href="#h" x="1070.4" y="301.6" fill="#da6853"/>
<use href="#h" x="1058.4" y="312.0" fill="#b6d7e8"/>
<use href="#h" x="1062.9" y="299.0" fill="#e8896c"/>
<use href="#h" x="1065.9" y="314.6" fill="#7eb8d7"/>
<use href="#h" x="1056.9" y="304.2" fill="#307ab6"/>
<use href="#h" x="1071.9" y="309.4" fill="#b8d8e9"/>
<use href="#h" x="1053.9" y="288.7" fill="#67001f"/>
<use href="#h" x="1059.9" y="283.5" fill="#c0dceb"/>
<use href="#h" x="1048.0" y="293.9" fill="#67001f"/>
<use href="#h" x="1052.4" y="280.9" fill="#a5cee3"/>
<use href="#h" x="1055.4" y="296.4" fill="#e17860"/>
<use href="#h" x="1046.5" y="286.1" fill="#8a0b25"/>
<use href="#h" x="1061.4" y="291.3" fill="#e17860"/>
<use href="#h" x="1043.5" y="270.5" fill="#aed3e6"/>
<use href="#h" x="1049.5" y="265.4" fill="#96c7df"/>
<use href="#h" x="1037.5" y="275.7" fill="#d86551"/>
<use href="#h" x="1042.0" y="262.8" fill="#063264"/>
<use href="#h" x="1045.0" y="278.3" fill="#7c0722"/>
<use href="#h" x="1036.0" y="267.9" fill="#fcd3bc"/>
<use href="#h" x="1050.9" y="273.1" fill="#dd7059"/>
<use href="#h" x="1033.0" y="252.4" fill="#67001f"/>
<use href="#h" x="1039.0" y="247.2" fill="#8dc2dc"/>
<use href="#h" x="1027.0" y="257.6" fill="#f7b99c"/>
<use href="#h" x="1031.5" y="244.6" fill="#67001f"/>
<use href="#h" x="1034.5" y="260.2" fill="#acd2e5"/>
<use href="#h" x="1025.5" y="249.8" fill="#4291c2"/>
<use href="#h" x="1040.5" y="255.0" fill="#b1d5e7"/>
<use href="#h" x="1022.5" y="234.3" fill="#144e8a"/>
<use href="#h" x="1028.5" y="229.1" fill="#bddbea"/>
<use href="#h" x="1016.5" y="239.4" fill="#307ab6"/>
<use href="#h" x="1021.0" y="226.5" fill="#a9d1e5"/>
<use href="#h" x="1024.0" y="242.0" fill="#810823"/>
<use href="#h" x="1015.1" y="231.7" fill="#f7f5f4"/>
<use href="#h" x="1030.0" y="236.9" fill="#f9f0eb"/>
<use href="#h" x="1012.1" y="216.1" fill="#f9c2a7"/>
<use href="#h" x="1018.0" y="210.9" fill="#67001f"/>
<use href="#h" x="1006.1" y="221.3" fill="#f8f2ef"/>
<use href="#h" x="1010.6" y="208.4" fill="#2870b1"/>
<use href="#h" x="1013.6" y="223.9" fill="#dd7059"/>
<use href="#h" x="1004.6" y="213.5" fill="#da6853"/>
<use href="#h" x="1019.5" y="218.7" fill="#67001f"/>
<use href="#h" x="1001.6" y="198.0" fill="#3885bc"/>
<use href="#h" x="1007.6" y="192.8" fill="#67001f"/>
<use href="#h" x="995.6" y="203.2" fill="#db6b55"/>
<use href="#h" x="1000.1" y="190.2" fill="#307ab6"/>
<use href="#h" x="1003.1" y="205.8" fill="#67001f"/>
<use href="#h" x="994.1" y="195.4" fill="#84bcd9"/>
<use href="#h" x="1009.1" y="200.6" fill="#3783bb"/>
<use href="#h" x="991.1" y="179.9" fill="#67001f"/>
<use href="#h" x="997.1" y="174.7" fill="#ea8e70"/>
<use href="#h" x="985.1" y="185.0" fill="#2f79b5"/>
<use href="#h" x="989.6" y="172.1" fill="#df765e"/>
<use href="#h" x="992.6" y="187.6" fill="#90c4dd"/>
<use href="#h" x="983.6" y="177.3" fill="#114781"/>
<use href="#h" x="998.6" y="182.4" fill="#408fc1"/>
<use href="#h" x="980.6" y="161.7" fill="#ab162a"/>
<use href="#h" x="986.6" y="156.5" fill="#bf3338"/>
<use href="#h" x="974.7" y="166.9" fill="#67001f"/>
<use href="#h" x="979.2" y="153.9" fill="#d6604d"/>
<use href="#h" x="982.1" y="169.5" fill="#ec9374"/>
<use href="#h" x="973.2" y="159.1" fill="#114781"/>
<use href="#h" x="988.1" y="164.3" fill="#67001f"/>
<use href="#h" x="970.2" y="143.6" fill="#700320"/>
<use href="#h" x="976.2" y="138.4" fill="#e6866a"/>
<use href="#h" x="964.2" y="148.8" fill="#b8d8e9"/>
<use href="#h" x="968.7" y="135.8" fill="#d55d4c"/>
<use href="#h" x="971.7" y="151.4" fill="#e48066"/>
<use href="#h" x="962.7" y="141.0" fill="#67001f"/>
<use href="#h" x="977.7" y="146.2" fill="#db6b55"/>
<use href="#h" x="959.7" y="125.5" fill="#67001f"/>
<use href="#h" x="965.7" y="120.3" fill="#dd7059"/>
<use href="#h" x="953.7" y="130.6" fill="#da6853"/>
<use href="#h" x="958.2" y="117.7" fill="#e6866a"/>
<use href="#h" x="961.2" y="133.2" fill="#b1182b"/>
<use href="#h" x="952.2" y="122.9" fill="#eb9172"/>
<use href="#h" x="967.2" y="128.0" fill="#ea8e70"/>
<use href="#h" x="949.2" y="107.3" fill="#67001f"/>
<use href="#h" x="955.2" y="102.1" fill="#991027"/>
<use href="#h" x="943.3" y="112.5" fill="#a81529"/>
<use href="#h" x="947.7" y="99.5" fill="#a5cee3"/>
<use href="#h" x="950.7" y="115.1" fill="#67001f"/>
<use href="#h" x="941.8" y="104.7" fill="#fac8af"/>
<use href="#h" x="956.7" y="109.9" fill="#db6b55"/>
<use href="#h" x="1137.7" y="397.5" fill="#e98b6e"/>
<use href="#h" x="1143.7" y="392.3" fill="#84bcd9"/>
<use href="#h" x="1131.7" y="402.7" fill="#8ac0db"/>
<use href="#h" x="1136.2" y="389.7" fill="#3480b9"/>
<use href="#h" x="1139.2" y="405.3" fill="#67001f"/>
<use href="#h" x="1130.2" y="394.9" fill="#67001f"/>
<use href="#h" x="1145.2" y="400.1" fill="#9c1127"/>
<use href="#h" x="1127.2" y="379.3" fill="#eb9172"/>
<use href="#h" x="1133.2" y="374.2" fill="#b72230"/>
<use href="#h" x="1121.3" y="384.5" fill="#ec9374"/>
<use href="#h" x="1125.7" y="371.6" fill="#a21328"/>
<use href="#h" x="1128.7" y="387.1" fill="#e17860"/>
<use href="#h" x="1119.8" y="376.8" fill="#9dcbe1"/>
<use href="#h" x="1134.7" y="381.9" fill="#67001f"/>
<use href="#h" x="1116.8" y="361.2" fill="#ba2832"/>
<use href="#h" x="1122.7" y="356.0" fill="#f9eee7"/>
<use href="#h" x="1110.8" y="366.4" fill="#67001f"/>
<use href="#h" x="1115.3" y="353.4" fill="#67001f"/>
<use href="#h" x="1118.3" y="369.0" fill="#a21328"/>
<use href="#h" x="1109.3" y="358.6" fill="#c2383a"/>
<use href="#h" x="1124.2" y="363.8" fill="#276eb0"/>
<use href="#h" x="1106.3" y="343.1" fill="#67001f"/>
<use href="#h" x="1112.3" y="337.9" fill="#da6853"/>
<use href="#h" x="1100.3" y="348.3" fill="#edf2f5"/>
<use href="#h" x="1104.8" y="335.3" fill="#144e8a"/>
<use href="#h" x="1107.8" y="350.9" fill="#fbceb7"/>
<use href="#h" x="1098.8" y="340.5" fill="#eaf1f5"/>
<use href="#h" x="1113.8" y="345.7" fill="#e98b6e"/>
<use href="#h" x="1095.8" y="324.9" fill="#3783bb"/>
<use href="#h" x="1101.8" y="319.8" fill="#3783bb"/>
<use href="#h" x="1089.8" y="330.1" fill="#307ab6"/>
<use href="#h" x="1094.3" y="317.2" fill="#3a87bd"/>
<use href="#h" x="1097.3" y="332.7" fill="#276eb0"/>
<use href="#h" x="1088.3" y="322.4" fill="#b72230"/>
<use href="#h" x="1103.3" y="327.5" fill="#4393c3"/>
<use href="#h" x="1085.4" y="306.8" fill="#730421"/>
<use href="#h" x="1091.3" y="301.6" fill="#f9c4a9"/>
<use href="#h" x="1079.4" y="312.0" fill="#b72230"/>
<use href="#h" x="1083.9" y="299.0" fill="#67001f"/>
<use href="#h" x="1086.8" y="314.6" fill="#b82531"/>
<use href="#h" x="1077.9" y="304.2" fill="#67001f"/>
<use href="#h" x="1092.8" y="309.4" fill="#b3192c"/>
<use href="#h" x="1074.9" y="288.7" fill="#67001f"/>
<use href="#h" x="1080.9" y="283.5" fill="#063264"/>
<use href="#h" x="1068.9" y="293.9" fill="#c13639"/>
<use href="#h" x="1073.4" y="280.9" fill="#67001f"/>
<use href="#h" x="1076.4" y="296.4" fill="#67001f"/>
<use href="#h" x="1067.4" y="286.1" fill="#9bc9e0"/>
<use href="#h" x="1082.4" y="291.3" fill="#e9f0f4"/>
<use href="#h" x="1064.4" y="270.5" fill="#d25849"/>
<use href="#h" x="1070.4" y="265.4" fill="#67001f"/>
<use href="#h" x="1058.4" y="275.7" fill="#67001f"/>
<use href="#h" x="1062.9" y="262.8" fill="#a5cee3"/>
<use href="#h" x="1065.9" y="278.3" fill="#9bc9e0"/>
<use href="#h" x="1056.9" y="267.9" fill="#98c8e0"/>
<use href="#h" x="1071.9" y="273.1" fill="#67001f"/>
<use href="#h" x="1053.9" y="252.4" fill="#bddbea"/>
<use href="#h" x="1059.9" y="247.2" fill="#124984"/>
<use href="#h" x="1048.0" y="257.6" fill="#81bad8"/>
<use href="#h" x="1052.4" y="244.6" fill="#9bc9e0"/>
<use href="#h" x="1055.4" y="260.2" fill="#266caf"/>
<use href="#h" x="1046.5" y="249.8" fill="#9bc9e0"/>
<use href="#h" x="1061.4" y="255.0" fill="#93c6de"/>
<use href="#h" x="1043.5" y="234.3" fill="#67001f"/>
<use href="#h" x="1049.5" y="229.1" fill="#f8bfa4"/>
<use href="#h" x="1037.5" y="239.4" fill="#67001f"/>
<use href="#h" x="1042.0" y="226.5" fill="#4291c2"/>
<use href="#h" x="1045.0" y="242.0" fill="#4291c2"/>
<use href="#h" x="1036.0" y="231.7" fill="#aed3e6"/>
<use href="#h" x="1050.9" y="236.9" fill="#67001f"/>
<use href="#h" x="1033.0" y="216.1" fill="#67001f"/>
<use href="#h" x="1039.0" y="210.9" fill="#d6604d"/>
<use href="#h" x="1027.0" y="221.3" fill="#0e4179"/>
<use href="#h" x="1031.5" y="208.4" fill="#f8bb9e"/>
<use href="#h" x="1034.5" y="223.9" fill="#08366a"/>
<use href="#h" x="1025.5" y="213.5" fill="#67001f"/>
<use href="#h" x="1040.5" y="218.7" fill="#8dc2dc"/>
<use href="#h" x="1022.5" y="198.0" fill="#337eb8"/>
<use href="#h" x="1028.5" y="192.8" fill="#db6b55"/>
<use href="#h" x="1016.5" y="203.2" fill="#67001f"/>
<use href="#h" x="1021.0" y="190.2" fill="#0e4179"/>
<use href="#h" x="1024.0" y="205.8" fill="#90c4dd"/>
<use href="#h" x="1015.1" y="195.4" fill="#f8f2ef"/>
<use href="#h" x="1030.0" y="200.6" fill="#f9c2a7"/>
<use href="#h" x="1012.1" y="179.9" fill="#67001f"/>
<use href="#h" x="1018.0" y="174.7" fill="#67001f"/>
<use href="#h" x="1006.1" y="185.0" fill="#2e77b5"/>
<use href="#h" x="1010.6" y="172.1" fill="#c7e0ed"/>
<use href="#h" x="1013.6" y="187.6" fill="#960f27"/>
<use href="#h" x="1004.6" y="177.3" fill="#3c8abe"/>
<use href="#h" x="1019.5" y="182.4" fill="#df765e"/>
<use href="#h" x="1001.6" y="161.7" fill="#67001f"/>
<use href="#h" x="1007.6" y="156.5" fill="#f9c6ac"/>
<use href="#h" x="995.6" y="166.9" fill="#67001f"/>
<use href="#h" x="1000.1" y="153.9" fill="#67001f"/>
<use href="#h" x="1003.1" y="169.5" fill="#e17860"/>
<use href="#h" x="994.1" y="159.1" fill="#dc6e57"/>
<use href="#h" x="1009.1" y="164.3" fill="#67001f"/>
<use href="#h" x="991.1" y="143.6" fill="#f8f1ed"/>
<use href="#h" x="997.1" y="138.4" fill="#7f0823"/>
<use href="#h" x="985.1" y="148.8" fill="#c13639"/>
<use href="#h" x="989.6" y="135.8" fill="#9dcbe1"/>
<use href="#h" x="992.6" y="151.4" fill="#d86551"/>
<use href="#h" x="983.6" y="141.0" fill="#f3f5f6"/>
<use href="#h" x="998.6" y="146.2" fill="#67001f"/>
<use href="#h" x="980.6" y="125.5" fill="#a0cce2"/>
<use href="#h" x="986.6" y="120.3" fill="#2870b1"/>
<use href="#h" x="974.7" y="130.6" fill="#e98b6e"/>
<use href="#h" x="979.2" y="117.7" fill="#2870b1"/>
<use href="#h" x="982.1" y="133.2" fill="#d25849"/>
<use href="#h" x="973.2" y="122.9" fill="#67001f"/>
<use href="#h" x="988.1" y="128.0" fill="#a9d1e5"/>
<use href="#h" x="970.2" y="107.3" fill="#327cb7"/>
<use href="#h" x="976.2" y="102.1" fill="#84bcd9"/>
<use href="#h" x="964.2" y="112.5" fill="#de735c"/>
<use href="#h" x="968.7" y="99.5" fill="#c2383a"/>
<use href="#h" x="971.7" y="115.1" fill="#f8f4f2"/>
<use href="#h" x="962.7" y="104.7" fill="#81bad8"/>
<use href="#h" x="977.7" y="109.9" fill="#93c6de"/>
<use href="#h" x="959.7" y="89.2" fill="#d25849"/>
<use href="#h" x="965.7" y="84.0" fill="#ec9374"/>
<use href="#h" x="953.7" y="94.4" fill="#aed3e6"/>
<use href="#h" x="958.2" y="81.4" fill="#e37e64"/>
<use href="#h" x="961.2" y="97.0" fill="#2870b1"/>
<use href="#h" x="952.2" y="86.6" fill="#d6604d"/>
<use href="#h" x="967.2" y="91.8" fill="#09386d"/>
<use href="#h" x="1148.2" y="379.3" fill="#e48066"/>
<use href="#h" x="1154.2" y="374.2" fill="#67001f"/>
<use href="#h" x="1142.2" y="384.5" fill="#7eb8d7"/>
<use href="#h" x="1146.7" y="371.6" fill="#7f0823"/>
<use href="#h" x="1149.7" y="387.1" fill="#b1182b"/>
<use href="#h" x="1140.7" y="376.8" fill="#2f79b5"/>
<use href="#h" x="1155.7" y="381.9" fill="#f9c4a9"/>
<use href="#h" x="1137.7" y="361.2" fill="#134c87"/>
<use href="#h" x="1143.7" y="356.0" fill="#9dcbe1"/>
<use href="#h" x="1131.7" y="366.4" fill="#063264"/>
<use href="#h" x="1136.2" y="353.4" fill="#bbdaea"/>
<use href="#h" x="1139.2" y="369.0" fill="#0d3f76"/>
<use href="#h" x="1130.2" y="358.6" fill="#b82531"/>
<use href="#h" x="1145.2" y="363.8" fill="#87beda"/>
<use href="#h" x="1127.2" y="343.1" fill="#ea8e70"/>
<use href="#h" x="1133.2" y="337.9" fill="#e48066"/>
<use href="#h" x="1121.3" y="348.3" fill="#134c87"/>
<use href="#h" x="1125.7" y="335.3" fill="#67001f"/>
<use href="#h" x="1128.7" y="350.9" fill="#67001f"/>
<use href="#h" x="1119.8" y="340.5" fill="#db6b55"/>
<use href="#h" x="1134.7" y="345.7" fill="#67001f"/>
<use href="#h" x="1116.8" y="324.9" fill="#e48066"/>
<use href="#h" x="1122.7" y="319.8" fill="#67001f"/>
<use href="#h" x="1110.8" y="330.1" fill="#124984"/>
<use href="#h" x="1115.3" y="317.2" fill="#fcd7c2"/>
<use href="#h" x="1118.3" y="332.7" fill="#d25849"/>
<use href="#h" x="1109.3" y="322.4" fill="#0a3b70"/>
<use href="#h" x="1124.2" y="327.5" fill="#d7634f"/>
<use href="#h" x="1106.3" y="306.8" fill="#0a3b70"/>
<use href="#h" x="1112.3" y="301.6" fill="#fdd9c4"/>
<use href="#h" x="1100.3" y="312.0" fill="#facab1"/>
<use href="#h" x="1104.8" y="299.0" fill="#67001f"/>
<use href="#h" x="1107.8" y="314.6" fill="#f9c4a9"/>
<use href="#h" x="1098.8" y="304.2" fill="#67001f"/>
<use href="#h" x="1113.8" y="309.4" fill="#f8bfa4"/>
<use href="#h" x="1095.8" y="288.7" fill="#d35a4a"/>
<use href="#h" x="1101.8" y="283.5" fill="#67001f"/>
<use href="#h" x="1089.8" y="293.9" fill="#67001f"/>
<use href="#h" x="1094.3" y="280.9" fill="#67001f"/>
<use href="#h" x="1097.3" y="296.4" fill="#67001f"/>
<use href="#h" x="1088.3" y="286.1" fill="#f8bda1"/>
<use href="#h" x="1103.3" y="291.3" fill="#67001f"/>
<use href="#h" x="1085.4" y="270.5" fill="#f7b99c"/>
<use href="#h" x="1091.3" y="265.4" fill="#67001f"/>
<use href="#h" x="1079.4" y="275.7" fill="#c13639"/>
<use href="#h" x="1083.9" y="262.8" fill="#d25849"/>
<use href="#h" x="1086.8" y="278.3" fill="#67001f"/>
<use href="#h" x="1077.9" y="267.9" fill="#67001f"/>
<use href="#h" x="1092.8" y="273.1" fill="#960f27"/>
<use href="#h" x="1074.9" y="252.4" fill="#d25849"/>
<use href="#h" x="1080.9" y="247.2" fill="#3e8cbf"/>
<use href="#h" x="1068.9" y="257.6" fill="#2b73b3"/>
<use href="#h" x="1073.4" y="244.6" fill="#09386d"/>
<use href="#h" x="1076.4" y="260.2" fill="#fcd3bc"/>
<use href="#h" x="1067.4" y="249.8" fill="#67001f"/>
<use href="#h" x="1082.4" y="255.0" fill="#10457e"/>
<use href="#h" x="1064.4" y="234.3" fill="#67001f"/>
<use href="#h" x="1070.4" y="229.1" fill="#114781"/>
<use href="#h" x="1058.4" y="239.4" fill="#960f27"/>
<use href="#h" x="1062.9" y="226.5" fill="#d55d4c"/>
<use href="#h" x="1065.9" y="242.0" fill="#dd7059"/>
<use href="#h" x="1056.9" y="231.7" fill="#67001f"/>
<use href="#h" x="1071.9" y="236.9" fill="#a0cce2"/>
<use href="#h" x="1053.9" y="216.1" fill="#fbccb4"/>
<use href="#h" x="1059.9" y="210.9" fill="#10457e"/>
<use href="#h" x="1048.0" y="221.3" fill="#67001f"/>
<use href="#h" x="1052.4" y="208.4" fill="#a9d1e5"/>
<use href="#h" x="1055.4" y="223.9" fill="#c0dceb"/>
<use href="#h" x="1046.5" y="213.5" fill="#3e8cbf"/>
<use href="#h" x="1061.4" y="218.7" fill="#d7634f"/>
<use href="#h" x="1043.5" y="198.0" fill="#d7634f"/>
<use href="#h" x="1049.5" y="192.8" fill="#67001f"/>
<use href="#h" x="1037.5" y="203.2" fill="#0e4179"/>
<use href="#h" x="1042.0" y="190.2" fill="#da6853"/>
<use href="#h" x="1045.0" y="205.8" fill="#144e8a"/>
<use href="#h" x="1036.0" y="195.4" fill="#facab1"/>
<use href="#h" x="1050.9" y="200.6" fill="#c7e0ed"/>
<use href="#h" x="1033.0" y="179.9" fill="#90c4dd"/>
<use href="#h" x="1039.0" y="174.7" fill="#3681ba"/>
<use href="#h" x="1027.0" y="185.0" fill="#f8bfa4"/>
<use href="#h" x="1031.5" y="172.1" fill="#d6604d"/>
<use href="#h" x="1034.5" y="187.6" fill="#4291c2"/>
<use href="#h" x="1025.5" y="177.3" fill="#2e77b5"/>
<use href="#h" x="1040.5" y="182.4" fill="#276eb0"/>
<use href="#h" x="1022.5" y="161.7" fill="#67001f"/>
<use href="#h" x="1028.5" y="156.5" fill="#67001f"/>
<use href="#h" x="1016.5" y="166.9" fill="#d25849"/>
<use href="#h" x="1021.0" y="153.9" fill="#2b73b3"/>
<use href="#h" x="1024.0" y="169.5" fill="#2c75b4"/>
<use href="#h" x="1015.1" y="159.1" fill="#2c75b4"/>
<use href="#h" x="1030.0" y="164.3" fill="#266caf"/>
<use href="#h" x="1012.1" y="143.6" fill="#67001f"/>
<use href="#h" x="1018.0" y="138.4" fill="#67001f"/>
<use href="#h" x="1006.1" y="148.8" fill="#67001f"/>
<use href="#h" x="1010.6" y="135.8" fill="#67001f"/>
<use href="#h" x="1013.6" y="151.4" fill="#3f8ec0"/>
<use href="#h" x="1004.6" y="141.0" fill="#f8bfa4"/>
<use href="#h" x="1019.5" y="146.2" fill="#67001f"/>
<use href="#h" x="1001.6" y="125.5" fill="#67001f"/>
<use href="#h" x="1007.6" y="120.3" fill="#3c8abe"/>
<use href="#h" x="995.6" y="130.6" fill="#90c4dd"/>
<use href="#h" x="1000.1" y="117.7" fill="#be3036"/>
<use href="#h" x="1003.1" y="133.2" fill="#053061"/>
<use href="#h" x="994.1" y="122.9" fill="#84bcd9"/>
<use href="#h" x="1009.1" y="128.0" fill="#0f437b"/>
<use href="#h" x="991.1" y="107.3" fill="#bddbea"/>
<use href="#h" x="997.1" y="102.1" fill="#67001f"/>
<use href="#h" x="985.1" y="112.5" fill="#b1d5e7"/>
<use href="#h" x="989.6" y="99.5" fill="#8dc2dc"/>
<use href="#h" x="992.6" y="115.1" fill="#124984"/>
<use href="#h" x="983.6" y="104.7" fill="#9bc9e0"/>
<use href="#h" x="998.6" y="109.9" fill="#2a71b2"/>
<use href="#h" x="980.6" y="89.2" fill="#b3d6e8"/>
<use href="#h" x="986.6" y="84.0" fill="#a81529"/>
<use href="#h" x="974.7" y="94.4" fill="#7f0823"/>
<use href="#h" x="979.2" y="81.4" fill="#810823"/>
<use href="#h" x="982.1" y="97.0" fill="#8dc2dc"/>
<use href="#h" x="973.2" y="86.6" fill="#67001f"/>
<use href="#h" x="988.1" y="91.8" fill="#3c8abe"/>
<use href="#h" x="1158.6" y="361.2" fill="#0d3f76"/>
<use href="#h" x="1164.6" y="356.0" fill="#67001f"/>
<use href="#h" x="1152.7" y="366.4" fill="#144e8a"/>
<use href="#h" x="1157.2" y="353.4" fill="#073467"/>
<use href="#h" x="1160.1" y="369.0" fill="#f9c2a7"/>
<use href="#h" x="1151.2" y="358.6" fill="#8dc2dc"/>
<use href="#h" x="1166.1" y="363.8" fill="#063264"/>
<use href="#h" x="1148.2" y="343.1" fill="#9bc9e0"/>
<use href="#h" x="1154.2" y="337.9" fill="#2a71b2"/>
<use href="#h" x="1142.2" y="348.3" fill="#0a3b70"/>
<use href="#h" x="1146.7" y="335.3" fill="#073467"/>
<use href="#h" x="1149.7" y="350.9" fill="#a7d0e4"/>
<use href="#h" x="1140.7" y="340.5" fill="#15508d"/>
<use href="#h" x="1155.7" y="345.7" fill="#98c8e0"/>
<use href="#h" x="1137.7" y="324.9" fill="#db6b55"/>
<use href="#h" x="1143.7" y="319.8" fill="#d55d4c"/>
<use href="#h" x="1131.7" y="330.1" fill="#134c87"/>
<use href="#h" x="1136.2" y="317.2" fill="#e48066"/>
<use href="#h" x="1139.2" y="332.7" fill="#0c3d73"/>
<use href="#h" x="1130.2" y="322.4" fill="#dc6e57"/>
<use href="#h" x="1145.2" y="327.5" fill="#d55d4c"/>
<use href="#h" x="1127.2" y="306.8" fill="#67001f"/>
<use href="#h" x="1133.2" y="301.6" fill="#a2cde3"/>
<use href="#h" x="1121.3" y="312.0" fill="#d35a4a"/>
<use href="#h" x="1125.7" y="299.0" fill="#0a3b70"/>
<use href="#h" x="1128.7" y="314.6" fill="#67001f"/>
<use href="#h" x="1119.8" y="304.2" fill="#073467"/>
<use href="#h" x="1134.7" y="309.4" fill="#e58368"/>
<use href="#h" x="1116.8" y="288.7" fill="#eaf1f5"/>
<use href="#h" x="1122.7" y="283.5" fill="#f9c4a9"/>
<use href="#h" x="1110.8" y="293.9" fill="#67001f"/>
<use href="#h" x="1115.3" y="280.9" fill="#67001f"/>
<use href="#h" x="1118.3" y="296.4" fill="#0e4179"/>
<use href="#h" x="1109.3" y="286.1" fill="#991027"/>
<use href="#h" x="1124.2" y="291.3" fill="#08366a"/>
<use href="#h" x="1106.3" y="270.5" fill="#ecf2f5"/>
<use href="#h" x="1112.3" y="265.4" fill="#67001f"/>
<use href="#h" x="1100.3" y="275.7" fill="#84bcd9"/>
<use href="#h" x="1104.8" y="262.8" fill="#b1d5e7"/>
<use href="#h" x="1107.8" y="278.3" fill="#67001f"/>
<use href="#h" x="1098.8" y="267.9" fill="#67001f"/>
<use href="#h" x="1113.8" y="273.1" fill="#67001f"/>
<use href="#h" x="1095.8" y="252.4" fill="#0a3b70"/>
<use href="#h" x="1101.8" y="247.2" fill="#e48066"/>
<use href="#h" x="1089.8" y="257.6" fill="#fbd0b9"/>
<use href="#h" x="1094.3" y="244.6" fill="#0a3b70"/>
<use href="#h" x="1097.3" y="260.2" fill="#144e8a"/>
<use href="#h" x="1088.3" y="249.8" fill="#0e4179"/>
<use href="#h" x="1103.3" y="255.0" fill="#e58368"/>
<use href="#h" x="1085.4" y="234.3" fill="#87beda"/>
<use href="#h" x="1091.3" y="229.1" fill="#3783bb"/>
<use href="#h" x="1079.4" y="239.4" fill="#f9c2a7"/>
<use href="#h" x="1083.9" y="226.5" fill="#b6d7e8"/>
<use href="#h" x="1086.8" y="242.0" fill="#073467"/>
<use href="#h" x="1077.9" y="231.7" fill="#fbd0b9"/>
<use href="#h" x="1092.8" y="236.9" fill="#124984"/>
<use href="#h" x="1074.9" y="216.1" fill="#bd2d35"/>
<use href="#h" x="1080.9" y="210.9" fill="#d55d4c"/>
<use href="#h" x="1068.9" y="221.3" fill="#fddbc7"/>
<use href="#h" x="1073.4" y="208.4" fill="#67001f"/>
<use href="#h" x="1076.4" y="223.9" fill="#b3192c"/>
<use href="#h" x="1067.4" y="213.5" fill="#408fc1"/>
<use href="#h" x="1082.4" y="218.7" fill="#10457e"/>
<use href="#h" x="1064.4" y="198.0" fill="#790622"/>
<use href="#h" x="1070.4" y="192.8" fill="#a0cce2"/>
<use href="#h" x="1058.4" y="203.2" fill="#67001f"/>
<use href="#h" x="1062.9" y="190.2" fill="#67001f"/>
<use href="#h" x="1065.9" y="205.8" fill="#eff3f5"/>
<use href="#h" x="1056.9" y="195.4" fill="#edf2f5"/>
<use href="#h" x="1071.9" y="200.6" fill="#15508d"/>
<use href="#h" x="1053.9" y="179.9" fill="#aed3e6"/>
<use href="#h" x="1059.9" y="174.7" fill="#f9c2a7"/>
<use href="#h" x="1048.0" y="185.0" fill="#a9d1e5"/>
<use href="#h" x="1052.4" y="172.1" fill="#307ab6"/>
<use href="#h" x="1055.4" y="187.6" fill="#3a87bd"/>
<use href="#h" x="1046.5" y="177.3" fill="#81bad8"/>
<use href="#h" x="1061.4" y="182.4" fill="#2f79b5"/>
<use href="#h" x="1043.5" y="161.7" fill="#67001f"/>
<use href="#h" x="1049.5" y="156.5" fill="#f8bfa4"/>
<use href="#h" x="1037.5" y="166.9" fill="#4291c2"/>
<use href="#h" x="1042.0" y="153.9" fill="#67001f"/>
<use href="#h" x="1045.0" y="169.5" fill="#f0f4f6"/>
<use href="#h" x="1036.0" y="159.1" fill="#870a24"/>
<use href="#h" x="1051.0" y="164.3" fill="#67001f"/>
<use href="#h" x="1033.0" y="143.6" fill="#de735c"/>
<use href="#h" x="1039.0" y="138.4" fill="#da6853"/>
<use href="#h" x="1027.0" y="148.8" fill="#be3036"/>
<use href="#h" x="1031.5" y="135.8" fill="#307ab6"/>
<use href="#h" x="1034.5" y="151.4" fill="#67001f"/>
<use href="#h" x="1025.5" y="141.0" fill="#408fc1"/>
<use href="#h" x="1040.5" y="146.2" fill="#e58368"/>
<use href="#h" x="1022.5" y="125.5" fill="#67001f"/>
<use href="#h" x="1028.5" y="120.3" fill="#3885bc"/>
<use href="#h" x="1016.5" y="130.6" fill="#d35a4a"/>
<use href="#h" x="1021.0" y="117.7" fill="#67001f"/>
<use href="#h" x="1024.0" y="133.2" fill="#276eb0"/>
<use href="#h" x="1015.1" y="122.9" fill="#0a3b70"/>
<use href="#h" x="1030.0" y="128.0" fill="#dd7059"/>
<use href="#h" x="1012.1" y="107.3" fill="#2f79b5"/>
<use href="#h" x="1018.0" y="102.1" fill="#f7f6f6"/>
<use href="#h" x="1006.1" y="112.5" fill="#f3f5f6"/>
<use href="#h" x="1010.6" y="99.5" fill="#67001f"/>
<use href="#h" x="1013.6" y="115.1" fill="#930e26"/>
<use href="#h" x="1004.6" y="104.7" fill="#67001f"/>
<use href="#h" x="1019.5" y="109.9" fill="#2a71b2"/>
<use href="#h" x="1001.6" y="89.2" fill="#67001f"/>
<use href="#h" x="1007.6" y="84.0" fill="#f7f5f4"/>
<use href="#h" x="995.6" y="94.4" fill="#d7634f"/>
<use href="#h" x="1000.1" y="81.4" fill="#da6853"/>
<use href="#h" x="1003.1" y="97.0" fill="#67001f"/>
<use href="#h" x="994.1" y="86.6" fill="#f7f5f4"/>
<use href="#h" x="1009.1" y="91.8" fill="#67001f"/>
<use href="#h" x="1169.1" y="343.1" fill="#f7f6f6"/>
<use href="#h" x="1175.1" y="337.9" fill="#f7f6f6"/>
<use href="#h" x="1163.1" y="348.3" fill="#67001f"/>
<use href="#h" x="1167.6" y="335.3" fill="#134c87"/>
<use href="#h" x="1170.6" y="350.9" fill="#eff3f5"/>
<use href="#h" x="1161.6" y="340.5" fill="#063264"/>
<use href="#h" x="1176.6" y="345.7" fill="#67001f"/>
<use href="#h" x="1158.6" y="324.9" fill="#67001f"/>
<use href="#h" x="1164.6" y="319.8" fill="#f8bb9e"/>
<use href="#h" x="1152.7" y="330.1" fill="#a51429"/>
<use href="#h" x="1157.2" y="317.2" fill="#db6b55"/>
<use href="#h" x="1160.1" y="332.7" fill="#f9ede5"/>
<use href="#h" x="1151.2" y="322.4" fill="#d86551"/>
<use href="#h" x="1166.1" y="327.5" fill="#f8f4f2"/>
<use href="#h" x="1148.2" y="306.8" fill="#ea8e70"/>
<use href="#h" x="1154.2" y="301.6" fill="#bb2a34"/>
<use href="#h" x="1142.2" y="312.0" fill="#bd2d35"/>
<use href="#h" x="1146.7" y="299.0" fill="#d35a4a"/>
<use href="#h" x="1149.7" y="314.6" fill="#fbceb7"/>
<use href="#h" x="1140.7" y="304.2" fill="#b3d6e8"/>
<use href="#h" x="1155.7" y="309.4" fill="#fcd3bc"/>
<use href="#h" x="1137.7" y="288.7" fill="#790622"/>
<use href="#h" x="1143.7" y="283.5" fill="#67001f"/>
<use href="#h" x="1131.7" y="293.9" fill="#3e8cbf"/>
<use href="#h" x="1136.2" y="280.9" fill="#f7b99c"/>
<use href="#h" x="1139.2" y="296.4" fill="#67001f"/>
<use href="#h" x="1130.2" y="286.1" fill="#f9eee7"/>
<use href="#h" x="1145.2" y="291.3" fill="#3a87bd"/>
<use href="#h" x="1127.2" y="270.5" fill="#f0f4f6"/>
<use href="#h" x="1133.2" y="265.4" fill="#b1182b"/>
<use href="#h" x="1121.3" y="275.7" fill="#e6866a"/>
<use href="#h" x="1125.7" y="262.8" fill="#db6b55"/>
<use href="#h" x="1128.7" y="278.3" fill="#7c0722"/>
<use href="#h" x="1119.8" y="267.9" fill="#67001f"/>
<use href="#h" x="1134.7" y="273.1" fill="#e48066"/>
<use href="#h" x="1116.8" y="252.4" fill="#e27b62"/>
<use href="#h" x="1122.7" y="247.2" fill="#d25849"/>
<use href="#h" x="1110.8" y="257.6" fill="#f7f6f6"/>
<use href="#h" x="1115.3" y="244.6" fill="#d35a4a"/>
<use href="#h" x="1118.3" y="260.2" fill="#f9ede5"/>
<use href="#h" x="1109.3" y="249.8" fill="#ea8e70"/>
<use href="#h" x="1124.2" y="255.0" fill="#d55d4c"/>
<use href="#h" x="1106.3" y="234.3" fill="#f9c6ac"/>
<use href="#h" x="1112.3" y="229.1" fill="#dd7059"/>
<use href="#h" x="1100.3" y="239.4" fill="#276eb0"/>
<use href="#h" x="1104.8" y="226.5" fill="#67001f"/>
<use href="#h" x="1107.8" y="242.0" fill="#e58368"/>
<use href="#h" x="1098.8" y="231.7" fill="#d25849"/>
<use href="#h" x="1113.8" y="236.9" fill="#67001f"/>
<use href="#h" x="1095.8" y="216.1" fill="#67001f"/>
<use href="#h" x="1101.8" y="210.9" fill="#67001f"/>
<use href="#h" x="1089.8" y="221.3" fill="#a81529"/>
<use href="#h" x="1094.3" y="208.4" fill="#991027"/>
<use href="#h" x="1097.3" y="223.9" fill="#8a0b25"/>
<use href="#h" x="1088.3" y="213.5" fill="#67001f"/>
<use href="#h" x="1103.3" y="218.7" fill="#b72230"/>
<use href="#h" x="1085.4" y="198.0" fill="#67001f"/>
<use href="#h" x="1091.3" y="192.8" fill="#acd2e5"/>
<use href="#h" x="1079.4" y="203.2" fill="#08366a"/>
<use href="#h" x="1083.9" y="190.2" fill="#67001f"/>
<use href="#h" x="1086.8" y="205.8" fill="#a7d0e4"/>
<use href="#h" x="1077.9" y="195.4" fill="#a51429"/>
<use href="#h" x="1092.8" y="200.6" fill="#276eb0"/>
<use href="#h" x="1074.9" y="179.9" fill="#960f27"/>
<use href="#h" x="1080.9" y="174.7" fill="#67001f"/>
<use href="#h" x="1068.9" y="185.0" fill="#a5cee3"/>
<use href="#h" x="1073.4" y="172.1" fill="#f8f3f0"/>
<use href="#h" x="1076.4" y="187.6" fill="#730421"/>
<use href="#h" x="1067.4" y="177.3" fill="#3b88be"/>
<use href="#h" x="1082.4" y="182.4" fill="#67001f"/>
<use href="#h" x="1064.4" y="161.7" fill="#f9c2a7"/>
<use href="#h" x="1070.4" y="156.5" fill="#d35a4a"/>
<use href="#h" x="1058.4" y="166.9" fill="#b61f2e"/>
<use href="#h" x="1062.9" y="154.0" fill="#bf3338"/>
<use href="#h" x="1065.9" y="169.5" fill="#0a3b70"/>
<use href="#h" x="1056.9" y="159.1" fill="#e98b6e"/>
<use href="#h" x="1071.9" y="164.3" fill="#0e4179"/>
<use href="#h" x="1053.9" y="143.6" fill="#114781"/>
<use href="#h" x="1059.9" y="138.4" fill="#67001f"/>
<use href="#h" x="1048.0" y="148.8" fill="#09386d"/>
<use href="#h" x="1052.4" y="135.8" fill="#67001f"/>
<use href="#h" x="1055.4" y="151.4" fill="#67001f"/>
<use href="#h" x="1046.5" y="141.0" fill="#e58368"/>
<use href="#h" x="1061.4" y="146.2" fill="#0c3d73"/>
<use href="#h" x="1043.5" y="125.5" fill="#e37e64"/>
<use href="#h" x="1049.5" y="120.3" fill="#9dcbe1"/>
<use href="#h" x="1037.5" y="130.6" fill="#8dc2dc"/>
<use href="#h" x="1042.0" y="117.7" fill="#fbd0b9"/>
<use href="#h" x="1045.0" y="133.2" fill="#e37e64"/>
<use href="#h" x="1036.0" y="122.9" fill="#073467"/>
<use href="#h" x="1051.0" y="128.0" fill="#c7e0ed"/>
<use href="#h" x="1033.0" y="107.3" fill="#ab162a"/>
<use href="#h" x="1039.0" y="102.1" fill="#e6866a"/>
<use href="#h" x="1027.0" y="112.5" fill="#a51429"/>
<use href="#h" x="1031.5" y="99.5" fill="#67001f"/>
<use href="#h" x="1034.5" y="115.1" fill="#b82531"/>
<use href="#h" x="1025.5" y="104.7" fill="#2b73b3"/>
<use href="#h" x="1040.5" y="109.9" fill="#408fc1"/>
<use href="#h" x="1022.5" y="89.2" fill="#f7f6f6"/>
<use href="#h" x="1028.5" y="84.0" fill="#67001f"/>
<use href="#h" x="1016.5" y="94.4" fill="#67001f"/>
<use href="#h" x="1021.0" y="81.4" fill="#d86551"/>
<use href="#h" x="1024.0" y="97.0" fill="#3885bc"/>
<use href="#h" x="1015.1" y="86.6" fill="#e17860"/>
<use href="#h" x="1030.0" y="91.8" fill="#09386d"/>
<use href="#h" x="1179.6" y="324.9" fill="#67001f"/>
<use href="#h" x="1185.6" y="319.8" fill="#67001f"/>
<use href="#h" x="1173.6" y="330.1" fill="#b8d8e9"/>
<use href="#h" x="1178.1" y="317.2" fill="#0e4179"/>
<use href="#h" x="1181.1" y="332.7" fill="#98c8e0"/>
<use href="#h" x="1172.1" y="322.4" fill="#3480b9"/>
<use href="#h" x="1187.1" y="327.5" fill="#f9c2a7"/>
<use href="#h" x="1169.1" y="306.8" fill="#67001f"/>
<use href="#h" x="1175.1" y="301.6" fill="#991027"/>
<use href="#h" x="1163.1" y="312.0" fill="#da6853"/>
<use href="#h" x="1167.6" y="299.0" fill="#266caf"/>
<use href="#h" x="1170.6" y="314.6" fill="#0f437b"/>
<use href="#h" x="1161.6" y="304.2" fill="#3681ba"/>
<use href="#h" x="1176.6" y="309.4" fill="#67001f"/>
<use href="#h" x="1158.6" y="288.7" fill="#10457e"/>
<use href="#h" x="1164.6" y="283.5" fill="#acd2e5"/>
<use href="#h" x="1152.7" y="293.9" fill="#0d3f76"/>
<use href="#h" x="1157.2" y="280.9" fill="#f6f7f7"/>
<use href="#h" x="1160.1" y="296.4" fill="#790622"/>
<use href="#h" x="1151.2" y="286.1" fill="#9f1228"/>
<use href="#h" x="1166.1" y="291.3" fill="#67001f"/>
<use href="#h" x="1148.2" y="270.5" fill="#67001f"/>
<use href="#h" x="1154.2" y="265.4" fill="#67001f"/>
<use href="#h" x="1142.2" y="275.7" fill="#67001f"/>
<use href="#h" x="1146.7" y="262.8" fill="#bd2d35"/>
<use href="#h" x="1149.7" y="278.3" fill="#67001f"/>
<use href="#h" x="1140.7" y="267.9" fill="#67001f"/>
<use href="#h" x="1155.7" y="273.1" fill="#67001f"/>
<use href="#h" x="1137.7" y="252.4" fill="#facab1"/>
<use href="#h" x="1143.7" y="247.2" fill="#b41c2d"/>
<use href="#h" x="1131.7" y="257.6" fill="#67001f"/>
<use href="#h" x="1136.2" y="244.6" fill="#a7d0e4"/>
<use href="#h" x="1139.2" y="260.2" fill="#67001f"/>
<use href="#h" x="1130.2" y="249.8" fill="#f9c2a7"/>
<use href="#h" x="1145.2" y="255.0" fill="#67001f"/>
<use href="#h" x="1127.2" y="234.3" fill="#81bad8"/>
<use href="#h" x="1133.2" y="229.1" fill="#f8bda1"/>
<use href="#h" x="1121.3" y="239.4" fill="#073467"/>
<use href="#h" x="1125.7" y="226.5" fill="#7eb8d7"/>
<use href="#h" x="1128.7" y="242.0" fill="#f8bb9e"/>
<use href="#h" x="1119.8" y="231.7" fill="#810823"/>
<use href="#h" x="1134.7" y="236.9" fill="#a7d0e4"/>
<use href="#h" x="1116.8" y="216.1" fill="#67001f"/>
<use href="#h" x="1122.7" y="210.9" fill="#b3d6e8"/>
<use href="#h" x="1110.8" y="221.3" fill="#7eb8d7"/>
<use href="#h" x="1115.3" y="208.4" fill="#3681ba"/>
<use href="#h" x="1118.3" y="223.9" fill="#8ac0db"/>
<use href="#h" x="1109.3" y="213.5" fill="#a9d1e5"/>
<use href="#h" x="1124.2" y="218.7" fill="#81bad8"/>
<use href="#h" x="1106.3" y="198.0" fill="#67001f"/>
<use href="#h" x="1112.3" y="192.8" fill="#d6604d"/>
<use href="#h" x="1100.3" y="203.2" fill="#b1d5e7"/>
<use href="#h" x="1104.8" y="190.2" fill="#67001f"/>
<use href="#h" x="1107.8" y="205.8" fill="#67001f"/>
<use href="#h" x="1098.8" y="195.4" fill="#f8f2ef"/>
<use href="#h" x="1113.8" y="200.6" fill="#e58368"/>
<use href="#h" x="1095.8" y="179.9" fill="#bddbea"/>
<use href="#h" x="1101.8" y="174.7" fill="#67001f"/>
<use href="#h" x="1089.8" y="185.0" fill="#67001f"/>
<use href="#h" x="1094.3" y="172.1" fill="#67001f"/>
<use href="#h" x="1097.3" y="187.6" fill="#a9d1e5"/>
<use href="#h" x="1088.3" y="177.3" fill="#67001f"/>
<use href="#h" x="1103.3" y="182.4" fill="#c7e0ed"/>
<use href="#h" x="1085.4" y="161.7" fill="#67001f"/>
<use href="#h" x="1091.3" y="156.5" fill="#930e26"/>
<use href="#h" x="1079.4" y="166.9" fill="#f7f5f4"/>
<use href="#h" x="1083.9" y="154.0" fill="#8a0b25"/>
<use href="#h" x="1086.8" y="169.5" fill="#edf2f5"/>
<use href="#h" x="1077.9" y="159.1" fill="#f0f4f6"/>
<use href="#h" x="1092.8" y="164.3" fill="#67001f"/>
<use href="#h" x="1074.9" y="143.6" fill="#2e77b5"/>
<use href="#h" x="1080.9" y="138.4" fill="#2f79b5"/>
<use href="#h" x="1068.9" y="148.8" fill="#fbceb7"/>
<use href="#h" x="1073.4" y="135.8" fill="#67001f"/>
<use href="#h" x="1076.4" y="151.4" fill="#276eb0"/>
<use href="#h" x="1067.4" y="141.0" fill="#073467"/>
<use href="#h" x="1082.4" y="146.2" fill="#3a87bd"/>
<use href="#h" x="1064.4" y="125.5" fill="#67001f"/>
<use href="#h" x="1070.4" y="120.3" fill="#f2f5f6"/>
<use href="#h" x="1058.4" y="130.6" fill="#67001f"/>
<use href="#h" x="1062.9" y="117.7" fill="#a9d1e5"/>
<use href="#h" x="1065.9" y="133.2" fill="#0d3f76"/>
<use href="#h" x="1056.9" y="122.9" fill="#67001f"/>
<use href="#h" x="1071.9" y="128.0" fill="#730421"/>
<use href="#h" x="1053.9" y="107.3" fill="#b61f2e"/>
<use href="#h" x="1059.9" y="102.1" fill="#e17860"/>
<use href="#h" x="1048.0" y="112.5" fill="#67001f"/>
<use href="#h" x="1052.4" y="99.5" fill="#67001f"/>
<use href="#h" x="1055.4" y="115.1" fill="#3885bc"/>
<use href="#h" x="1046.5" y="104.7" fill="#67001f"/>
<use href="#h" x="1061.4" y="109.9" fill="#67001f"/>
<use href="#h" x="1043.5" y="89.2" fill="#67001f"/>
<use href="#h" x="1049.5" y="84.0" fill="#f9eee7"/>
<use href="#h" x="1037.5" y="94.4" fill="#4393c3"/>
<use href="#h" x="1042.0" y="81.4" fill="#eff3f5"/>
<use href="#h" x="1045.0" y="97.0" fill="#67001f"/>
<use href="#h" x="1036.0" y="86.6" fill="#327cb7"/>
<use href="#h" x="1051.0" y="91.8" fill="#be3036"/>
<use href="#h" x="1190.1" y="306.8" fill="#67001f"/>
<use href="#h" x="1196.0" y="301.6" fill="#700320"/>
<use href="#h" x="1184.1" y="312.0" fill="#67001f"/>
<use href="#h" x="1188.6" y="299.0" fill="#870a24"/>
<use href="#h" x="1191.6" y="314.6" fill="#facab1"/>
<use href="#h" x="1182.6" y="304.2" fill="#67001f"/>
<use href="#h" x="1197.5" y="309.4" fill="#67001f"/>
<use href="#h" x="1179.6" y="288.7" fill="#276eb0"/>
<use href="#h" x="1185.6" y="283.5" fill="#3783bb"/>
<use href="#h" x="1173.6" y="293.9" fill="#67001f"/>
<use href="#h" x="1178.1" y="280.9" fill="#3885bc"/>
<use href="#h" x="1181.1" y="296.4" fill="#c2ddec"/>
<use href="#h" x="1172.1" y="286.1" fill="#bddbea"/>
<use href="#h" x="1187.1" y="291.3" fill="#3480b9"/>
<use href="#h" x="1169.1" y="270.5" fill="#b82531"/>
<use href="#h" x="1175.1" y="265.4" fill="#3885bc"/>
<use href="#h" x="1163.1" y="275.7" fill="#67001f"/>
<use href="#h" x="1167.6" y="262.8" fill="#67001f"/>
<use href="#h" x="1170.6" y="278.3" fill="#be3036"/>
<use href="#h" x="1161.6" y="267.9" fill="#67001f"/>
<use href="#h" x="1176.6" y="273.1" fill="#be3036"/>
<use href="#h" x="1158.6" y="252.4" fill="#e48066"/>
<use href="#h" x="1164.6" y="247.2" fill="#a81529"/>
<use href="#h" x="1152.7" y="257.6" fill="#67001f"/>
<use href="#h" x="1157.2" y="244.6" fill="#dd7059"/>
<use href="#h" x="1160.1" y="260.2" fill="#e48066"/>
<use href="#h" x="1151.2" y="249.8" fill="#e6866a"/>
<use href="#h" x="1166.1" y="255.0" fill="#dd7059"/>
<use href="#h" x="1148.2" y="234.3" fill="#ba2832"/>
<use href="#h" x="1154.2" y="229.1" fill="#90c4dd"/>
<use href="#h" x="1142.2" y="239.4" fill="#fcd3bc"/>
<use href="#h" x="1146.7" y="226.5" fill="#a9d1e5"/>
<use href="#h" x="1149.7" y="242.0" fill="#8d0c25"/>
<use href="#h" x="1140.7" y="231.7" fill="#dd7059"/>
<use href="#h" x="1155.7" y="236.9" fill="#e37e64"/>
<use href="#h" x="1137.7" y="216.1" fill="#96c7df"/>
<use href="#h" x="1143.7" y="210.9" fill="#3f8ec0"/>
<use href="#h" x="1131.7" y="221.3" fill="#c2383a"/>
<use href="#h" x="1136.2" y="208.4" fill="#3885bc"/>
<use href="#h" x="1139.2" y="223.9" fill="#8ac0db"/>
<use href="#h" x="1130.2" y="213.5" fill="#c5dfec"/>
<use href="#h" x="1145.2" y="218.7" fill="#dc6e57"/>
<use href="#h" x="1127.2" y="198.0" fill="#b6d7e8"/>
<use href="#h" x="1133.2" y="192.8" fill="#67001f"/>
<use href="#h" x="1121.3" y="203.2" fill="#bb2a34"/>
<use href="#h" x="1125.7" y="190.2" fill="#3681ba"/>
<use href="#h" x="1128.7" y="205.8" fill="#0c3d73"/>
<use href="#h" x="1119.8" y="195.4" fill="#d25849"/>
<use href="#h" x="1134.7" y="200.6" fill="#c2ddec"/>
<use href="#h" x="1116.8" y="179.9" fill="#67001f"/>
<use href="#h" x="1122.7" y="174.7" fill="#67001f"/>
<use href="#h" x="1110.8" y="185.0" fill="#e48066"/>
<use href="#h" x="1115.3" y="172.1" fill="#67001f"/>
<use href="#h" x="1118.3" y="187.6" fill="#408fc1"/>
<use href="#h" x="1109.3" y="177.3" fill="#e6866a"/>
<use href="#h" x="1124.2" y="182.4" fill="#67001f"/>
<use href="#h" x="1106.3" y="161.7" fill="#67001f"/>
<use href="#h" x="1112.3" y="156.5" fill="#acd2e5"/>
<use href="#h" x="1100.3" y="166.9" fill="#67001f"/>
<use href="#h" x="1104.8" y="154.0" fill="#67001f"/>
<use href="#h" x="1107.8" y="169.5" fill="#67001f"/>
<use href="#h" x="1098.8" y="159.1" fill="#ae172a"/>
<use href="#h" x="1113.8" y="164.3" fill="#2870b1"/>
<use href="#h" x="1095.8" y="143.6" fill="#fbd0b9"/>
<use href="#h" x="1101.8" y="138.4" fill="#fddbc7"/>
<use href="#h" x="1089.8" y="148.8" fill="#f8bda1"/>
<use href="#h" x="1094.3" y="135.8" fill="#f8bb9e"/>
<use href="#h" x="1097.3" y="151.4" fill="#870a24"/>
<use href="#h" x="1088.3" y="141.0" fill="#67001f"/>
<use href="#h" x="1103.3" y="146.2" fill="#67001f"/>
<use href="#h" x="1085.4" y="125.5" fill="#67001f"/>
<use href="#h" x="1091.3" y="120.3" fill="#67001f"/>
<use href="#h" x="1079.4" y="130.6" fill="#f3f5f6"/>
<use href="#h" x="1083.9" y="117.7" fill="#bddbea"/>
<use href="#h" x="1086.8" y="133.2" fill="#67001f"/>
<use href="#h" x="1077.9" y="122.9" fill="#be3036"/>
<use href="#h" x="1092.8" y="128.0" fill="#063264"/>
<use href="#h" x="1074.9" y="107.3" fill="#a9d1e5"/>
<use href="#h" x="1080.9" y="102.1" fill="#730421"/>
<use href="#h" x="1068.9" y="112.5" fill="#67001f"/>
<use href="#h" x="1073.4" y="99.5" fill="#3885bc"/>
<use href="#h" x="1076.4" y="115.1" fill="#991027"/>
<use href="#h" x="1067.4" y="104.7" fill="#67001f"/>
<use href="#h" x="1082.4" y="109.9" fill="#67001f"/>
<use href="#h" x="1064.4" y="89.2" fill="#67001f"/>
<use href="#h" x="1070.4" y="84.0" fill="#408fc1"/>
<use href="#h" x="1058.4" y="94.4" fill="#f8bb9e"/>
<use href="#h" x="1062.9" y="81.4" fill="#d55d4c"/>
<use href="#h" x="1065.9" y="97.0" fill="#e58368"/>
<use href="#h" x="1056.9" y="86.6" fill="#810823"/>
<use href="#h" x="1071.9" y="91.8" fill="#67001f"/>
<use href="#h" x="1200.5" y="288.7" fill="#10457e"/>
<use href="#h" x="1206.5" y="283.5" fill="#dc6e57"/>
<use href="#h" x="1194.5" y="293.9" fill="#266caf"/>
<use href="#h" x="1199.0" y="280.9" fill="#67001f"/>
<use href="#h" x="1202.0" y="296.4" fill="#2870b1"/>
<use href="#h" x="1193.0" y="286.1" fill="#266caf"/>
<use href="#h" x="1208.0" y="291.3" fill="#fcd3bc"/>
<use href="#h" x="1190.1" y="270.5" fill="#b3d6e8"/>
<use href="#h" x="1196.0" y="265.4" fill="#a2cde3"/>
<use href="#h" x="1184.1" y="275.7" fill="#4291c2"/>
<use href="#h" x="1188.6" y="262.8" fill="#67001f"/>
<use href="#h" x="1191.6" y="278.3" fill="#67001f"/>
<use href="#h" x="1182.6" y="267.9" fill="#a7d0e4"/>
<use href="#h" x="1197.5" y="273.1" fill="#3681ba"/>
<use href="#h" x="1179.6" y="252.4" fill="#67001f"/>
<use href="#h" x="1185.6" y="247.2" fill="#a2cde3"/>
<use href="#h" x="1173.6" y="257.6" fill="#67001f"/>
<use href="#h" x="1178.1" y="244.6" fill="#ae172a"/>
<use href="#h" x="1181.1" y="260.2" fill="#98c8e0"/>
<use href="#h" x="1172.1" y="249.8" fill="#2f79b5"/>
<use href="#h" x="1187.1" y="255.0" fill="#bddbea"/>
<use href="#h" x="1169.1" y="234.3" fill="#eaf1f5"/>
<use href="#h" x="1175.1" y="229.1" fill="#960f27"/>
<use href="#h" x="1163.1" y="239.4" fill="#f5f6f7"/>
<use href="#h" x="1167.6" y="226.5" fill="#fddbc7"/>
<use href="#h" x="1170.6" y="242.0" fill="#e6866a"/>
<use href="#h" x="1161.6" y="231.7" fill="#f9f0eb"/>
<use href="#h" x="1176.6" y="236.9" fill="#f3f5f6"/>
<use href="#h" x="1158.6" y="216.1" fill="#67001f"/>
<use href="#h" x="1164.6" y="210.9" fill="#fac8af"/>
<use href="#h" x="1152.7" y="221.3" fill="#9c1127"/>
<use href="#h" x="1157.2" y="208.4" fill="#063264"/>
<use href="#h" x="1160.1" y="223.9" fill="#67001f"/>
<use href="#h" x="1151.2" y="213.5" fill="#114781"/>
<use href="#h" x="1166.1" y="218.7" fill="#fbd0b9"/>
<use href="#h" x="1148.2" y="198.0" fill="#144e8a"/>
<use href="#h" x="1154.2" y="192.8" fill="#9dcbe1"/>
<use href="#h" x="1142.2" y="203.2" fill="#0f437b"/>
<use href="#h" x="1146.7" y="190.2" fill="#266caf"/>
<use href="#h" x="1149.7" y="205.8" fill="#2e77b5"/>
<use href="#h" x="1140.7" y="195.4" fill="#2e77b5"/>
<use href="#h" x="1155.7" y="200.6" fill="#7f0823"/>
<use href="#h" x="1137.7" y="179.9" fill="#67001f"/>
<use href="#h" x="1143.7" y="174.7" fill="#f9c6ac"/>
<use href="#h" x="1131.7" y="185.0" fill="#67001f"/>
<use href="#h" x="1136.2" y="172.1" fill="#facab1"/>
<use href="#h" x="1139.2" y="187.6" fill="#0c3d73"/>
<use href="#h" x="1130.2" y="177.3" fill="#fbceb7"/>
<use href="#h" x="1145.2" y="182.4" fill="#e6866a"/>
<use href="#h" x="1127.2" y="161.7" fill="#e6866a"/>
<use href="#h" x="1133.2" y="156.5" fill="#67001f"/>
<use href="#h" x="1121.3" y="166.9" fill="#991027"/>
<use href="#h" x="1125.7" y="154.0" fill="#bbdaea"/>
<use href="#h" x="1128.7" y="169.5" fill="#dd7059"/>
<use href="#h" x="1119.8" y="159.1" fill="#a2cde3"/>
<use href="#h" x="1134.7" y="164.3" fill="#67001f"/>
<use href="#h" x="1116.8" y="143.6" fill="#3f8ec0"/>
<use href="#h" x="1122.7" y="138.4" fill="#c2ddec"/>
<use href="#h" x="1110.8" y="148.8" fill="#b8d8e9"/>
<use href="#h" x="1115.3" y="135.8" fill="#f9c6ac"/>
<use href="#h" x="1118.3" y="151.4" fill="#acd2e5"/>
<use href="#h" x="1109.3" y="141.0" fill="#e9f0f4"/>
<use href="#h" x="1124.2" y="146.2" fill="#8dc2dc"/>
<use href="#h" x="1106.3" y="125.5" fill="#f8bfa4"/>
<use href="#h" x="1112.3" y="120.3" fill="#67001f"/>
<use href="#h" x="1100.3" y="130.6" fill="#fdd9c4"/>
<use href="#h" x="1104.8" y="117.7" fill="#9bc9e0"/>
<use href="#h" x="1107.8" y="133.2" fill="#d6604d"/>
<use href="#h" x="1098.8" y="122.9" fill="#fddbc7"/>
<use href="#h" x="1113.8" y="128.0" fill="#f8f1ed"/>
<use href="#h" x="1095.8" y="107.3" fill="#67001f"/>
<use href="#h" x="1101.8" y="102.1" fill="#144e8a"/>
<use href="#h" x="1089.8" y="112.5" fill="#c7e0ed"/>
<use href="#h" x="1094.3" y="99.5" fill="#67001f"/>
<use href="#h" x="1097.3" y="115.1" fill="#9c1127"/>
<use href="#h" x="1088.3" y="104.7" fill="#b41c2d"/>
<use href="#h" x="1103.3" y="109.9" fill="#991027"/>
<use href="#h" x="1085.4" y="89.2" fill="#67001f"/>
<use href="#h" x="1091.3" y="84.0" fill="#67001f"/>
<use href="#h" x="1079.4" y="94.4" fill="#67001f"/>
<use href="#h" x="1083.9" y="81.4" fill="#67001f"/>
<use href="#h" x="1086.8" y="97.0" fill="#67001f"/>
<use href="#h" x="1077.9" y="86.6" fill="#67001f"/>
<use href="#h" x="1092.8" y="91.8" fill="#67001f"/>
<use href="#h" x="1211.0" y="270.5" fill="#09386d"/>
<use href="#h" x="1217.0" y="265.4" fill="#67001f"/>
<use href="#h" x="1205.0" y="275.7" fill="#2e77b5"/>
<use href="#h" x="1209.5" y="262.8" fill="#a51429"/>
<use href="#h" x="1212.5" y="278.3" fill="#de735c"/>
<use href="#h" x="1203.5" y="267.9" fill="#810823"/>
<use href="#h" x="1218.5" y="273.1" fill="#9c1127"/>
<use href="#h" x="1200.5" y="252.4" fill="#b41c2d"/>
<use href="#h" x="1206.5" y="247.2" fill="#991027"/>
<use href="#h" x="1194.5" y="257.6" fill="#7c0722"/>
<use href="#h" x="1199.0" y="244.6" fill="#2c75b4"/>
<use href="#h" x="1202.0" y="260.2" fill="#67001f"/>
<use href="#h" x="1193.1" y="249.8" fill="#a51429"/>
<use href="#h" x="1208.0" y="255.0" fill="#960f27"/>
<use href="#h" x="1190.1" y="234.3" fill="#327cb7"/>
<use href="#h" x="1196.0" y="229.1" fill="#3b88be"/>
<use href="#h" x="1184.1" y="239.4" fill="#3c8abe"/>
<use href="#h" x="1188.6" y="226.5" fill="#3783bb"/>
<use href="#h" x="1191.6" y="242.0" fill="#bddbea"/>
<use href="#h" x="1182.6" y="231.7" fill="#ae172a"/>
<use href="#h" x="1197.5" y="236.9" fill="#3480b9"/>
<use href="#h" x="1179.6" y="216.1" fill="#67001f"/>
<use href="#h" x="1185.6" y="210.9" fill="#f8bb9e"/>
<use href="#h" x="1173.6" y="221.3" fill="#fdd9c4"/>
<use href="#h" x="1178.1" y="208.4" fill="#327cb7"/>
<use href="#h" x="1181.1" y="223.9" fill="#337eb8"/>
<use href="#h" x="1172.1" y="213.5" fill="#f9c2a7"/>
<use href="#h" x="1187.1" y="218.7" fill="#b72230"/>
<use href="#h" x="1169.1" y="198.0" fill="#f8f2ef"/>
<use href="#h" x="1175.1" y="192.8" fill="#67001f"/>
<use href="#h" x="1163.1" y="203.2" fill="#edf2f5"/>
<use href="#h" x="1167.6" y="190.2" fill="#e58368"/>
<use href="#h" x="1170.6" y="205.8" fill="#9c1127"/>
<use href="#h" x="1161.6" y="195.4" fill="#124984"/>
<use href="#h" x="1176.6" y="200.6" fill="#d55d4c"/>
<use href="#h" x="1158.6" y="179.9" fill="#e8896c"/>
<use href="#h" x="1164.6" y="174.7" fill="#b82531"/>
<use href="#h" x="1152.7" y="185.0" fill="#d35a4a"/>
<use href="#h" x="1157.2" y="172.1" fill="#67001f"/>
<use href="#h" x="1160.1" y="187.6" fill="#9c1127"/>
<use href="#h" x="1151.2" y="177.3" fill="#840924"/>
<use href="#h" x="1166.1" y="182.4" fill="#9c1127"/>
<use href="#h" x="1148.2" y="161.7" fill="#f8f2ef"/>
<use href="#h" x="1154.2" y="156.5" fill="#f2f5f6"/>
<use href="#h" x="1142.2" y="166.9" fill="#fbceb7"/>
<use href="#h" x="1146.7" y="154.0" fill="#67001f"/>
<use href="#h" x="1149.7" y="169.5" fill="#f8bb9e"/>
<use href="#h" x="1140.7" y="159.1" fill="#67001f"/>
<use href="#h" x="1155.7" y="164.3" fill="#b61f2e"/>
<use href="#h" x="1137.7" y="143.6" fill="#790622"/>
<use href="#h" x="1143.7" y="138.4" fill="#f9c2a7"/>
<use href="#h" x="1131.7" y="148.8" fill="#f8f4f2"/>
<use href="#h" x="1136.2" y="135.8" fill="#8ac0db"/>
<use href="#h" x="1139.2" y="151.4" fill="#67001f"/>
<use href="#h" x="1130.2" y="141.0" fill="#aed3e6"/>
<use href="#h" x="1145.2" y="146.2" fill="#67001f"/>
<use href="#h" x="1127.2" y="125.5" fill="#67001f"/>
<use href="#h" x="1133.2" y="120.3" fill="#276eb0"/>
<use href="#h" x="1121.3" y="130.6" fill="#073467"/>
<use href="#h" x="1125.7" y="117.7" fill="#3f8ec0"/>
<use href="#h" x="1128.7" y="133.2" fill="#a0cce2"/>
<use href="#h" x="1119.8" y="122.9" fill="#2b73b3"/>
<use href="#h" x="1134.7" y="128.0" fill="#67001f"/>
<use href="#h" x="1116.8" y="107.3" fill="#700320"/>
<use href="#h" x="1122.7" y="102.1" fill="#67001f"/>
<use href="#h" x="1110.8" y="112.5" fill="#b1182b"/>
<use href="#h" x="1115.3" y="99.5" fill="#f8f1ed"/>
<use href="#h" x="1118.3" y="115.1" fill="#9c1127"/>
<use href="#h" x="1109.3" y="104.7" fill="#991027"/>
<use href="#h" x="1124.2" y="109.9" fill="#67001f"/>
<use href="#h" x="1106.3" y="89.2" fill="#124984"/>
<use href="#h" x="1112.3" y="84.0" fill="#124984"/>
<use href="#h" x="1100.3" y="94.4" fill="#67001f"/>
<use href="#h" x="1104.8" y="81.4" fill="#d7634f"/>
<use href="#h" x="1107.8" y="97.0" fill="#67001f"/>
<use href="#h" x="1098.8" y="86.6" fill="#67001f"/>
<use href="#h" x="1113.8" y="91.8" fill="#9f1228"/>
<use href="#h" x="1211.0" y="234.3" fill="#7f0823"/>
<use href="#h" x="1217.0" y="229.1" fill="#8d0c25"/>
<use href="#h" x="1205.0" y="239.4" fill="#96c7df"/>
<use href="#h" x="1209.5" y="226.5" fill="#67001f"/>
<use href="#h" x="1212.5" y="242.0" fill="#7f0823"/>
<use href="#h" x="1203.5" y="231.7" fill="#67001f"/>
<use href="#h" x="1218.5" y="236.9" fill="#67001f"/>
<use href="#h" x="1200.5" y="216.1" fill="#a5cee3"/>
<use href="#h" x="1206.5" y="210.9" fill="#e17860"/>
<use href="#h" x="1194.5" y="221.3" fill="#ea8e70"/>
<use href="#h" x="1199.0" y="208.4" fill="#f5f6f7"/>
<use href="#h" x="1202.0" y="223.9" fill="#e98b6e"/>
<use href="#h" x="1193.1" y="213.5" fill="#fddbc7"/>
<use href="#h" x="1208.0" y="218.7" fill="#408fc1"/>
<use href="#h" x="1190.1" y="198.0" fill="#f9c6ac"/>
<use href="#h" x="1196.0" y="192.8" fill="#f8bfa4"/>
<use href="#h" x="1184.1" y="203.2" fill="#fbd0b9"/>
<use href="#h" x="1188.6" y="190.2" fill="#337eb8"/>
<use href="#h" x="1191.6" y="205.8" fill="#9f1228"/>
<use href="#h" x="1182.6" y="195.4" fill="#fcd5bf"/>
<use href="#h" x="1197.5" y="200.6" fill="#f7b99c"/>
<use href="#h" x="1179.6" y="179.9" fill="#4291c2"/>
<use href="#h" x="1185.6" y="174.7" fill="#f9ede5"/>
<use href="#h" x="1173.6" y="185.0" fill="#f9f0eb"/>
<use href="#h" x="1178.1" y="172.1" fill="#f2f5f6"/>
<use href="#h" x="1181.1" y="187.6" fill="#fbceb7"/>
<use href="#h" x="1172.1" y="177.3" fill="#f8f1ed"/>
<use href="#h" x="1187.1" y="182.4" fill="#e17860"/>
<use href="#h" x="1169.1" y="161.7" fill="#3a87bd"/>
<use href="#h" x="1175.1" y="156.5" fill="#3885bc"/>
<use href="#h" x="1163.1" y="166.9" fill="#d25849"/>
<use href="#h" x="1167.6" y="154.0" fill="#2b73b3"/>
<use href="#h" x="1170.6" y="169.5" fill="#67001f"/>
<use href="#h" x="1161.6" y="159.1" fill="#fbceb7"/>
<use href="#h" x="1176.6" y="164.3" fill="#93c6de"/>
<use href="#h" x="1158.6" y="143.6" fill="#c2ddec"/>
<use href="#h" x="1164.6" y="138.4" fill="#f3f5f6"/>
<use href="#h" x="1152.7" y="148.8" fill="#d25849"/>
<use href="#h" x="1157.2" y="135.8" fill="#991027"/>
<use href="#h" x="1160.1" y="151.4" fill="#f3f5f6"/>
<use href="#h" x="1151.2" y="141.0" fill="#f9c6ac"/>
<use href="#h" x="1166.1" y="146.2" fill="#67001f"/>
<use href="#h" x="1148.2" y="125.5" fill="#67001f"/>
<use href="#h" x="1154.2" y="120.3" fill="#ea8e70"/>
<use href="#h" x="1142.2" y="130.6" fill="#67001f"/>
<use href="#h" x="1146.7" y="117.7" fill="#d7634f"/>
<use href="#h" x="1149.7" y="133.2" fill="#dd7059"/>
<use href="#h" x="1140.7" y="122.9" fill="#3c8abe"/>
<use href="#h" x="1155.7" y="128.0" fill="#ea8e70"/>
<use href="#h" x="1137.7" y="107.3" fill="#337eb8"/>
<use href="#h" x="1143.7" y="102.1" fill="#10457e"/>
<use href="#h" x="1131.7" y="112.5" fill="#0e4179"/>
<use href="#h" x="1136.2" y="99.5" fill="#09386d"/>
<use href="#h" x="1139.2" y="115.1" fill="#d35a4a"/>
<use href="#h" x="1130.2" y="104.7" fill="#124984"/>
<use href="#h" x="1145.2" y="109.9" fill="#2e77b5"/>
</g>
<text transform="translate(1130.90 441.90) scale(1.0444 1)" x="-0.84" y="0" font-size="16.86" fill="#808080" stroke="#808080" stroke-width="0.3" xml:space="preserve">CameraFrame</text>
<rect x="822.5" y="60.5" width="422" height="385" fill="none" stroke="#000" stroke-width="1.1"/>
<line x1="875.5" y1="445.5" x2="875.5" y2="450.3" stroke="#000" stroke-width="1.1"/>
<text transform="translate(853.65 470.00) scale(1.1250 1)" x="-1.00" y="0" font-size="20.00" fill="#000" stroke="#000" stroke-width="0.3" xml:space="preserve">−1.0</text>
<line x1="954.5" y1="445.5" x2="954.5" y2="450.3" stroke="#000" stroke-width="1.1"/>
<text transform="translate(932.80 470.00) scale(1.1250 1)" x="-1.00" y="0" font-size="20.00" fill="#000" stroke="#000" stroke-width="0.3" xml:space="preserve">−0.5</text>
<line x1="1033.5" y1="445.5" x2="1033.5" y2="450.3" stroke="#000" stroke-width="1.1"/>
<text transform="translate(1019.10 470.00) scale(1.0687 1)" x="-0.80" y="0" font-size="20.00" fill="#000" stroke="#000" stroke-width="0.3" xml:space="preserve">0.0</text>
<line x1="1112.5" y1="445.5" x2="1112.5" y2="450.3" stroke="#000" stroke-width="1.1"/>
<text transform="translate(1098.25 470.00) scale(1.0687 1)" x="-0.80" y="0" font-size="20.00" fill="#000" stroke="#000" stroke-width="0.3" xml:space="preserve">0.5</text>
<line x1="1191.5" y1="445.5" x2="1191.5" y2="450.3" stroke="#000" stroke-width="1.1"/>
<text transform="translate(1177.65 470.00) scale(1.0827 1)" x="-1.60" y="0" font-size="20.00" fill="#000" stroke="#000" stroke-width="0.3" xml:space="preserve">1.0</text>
<line x1="817.7" y1="411.5" x2="822.5" y2="411.5" stroke="#000" stroke-width="1.1"/>
<text transform="translate(767.90 418.00) scale(1.1496 1)" x="-0.98" y="0" font-size="19.57" fill="#000" stroke="#000" stroke-width="0.3" xml:space="preserve">−1.0</text>
<line x1="817.7" y1="332.5" x2="822.5" y2="332.5" stroke="#000" stroke-width="1.1"/>
<text transform="translate(767.90 338.85) scale(1.1496 1)" x="-0.98" y="0" font-size="19.57" fill="#000" stroke="#000" stroke-width="0.3" xml:space="preserve">−0.5</text>
<line x1="817.7" y1="253.5" x2="822.5" y2="253.5" stroke="#000" stroke-width="1.1"/>
<text transform="translate(782.20 259.70) scale(1.0921 1)" x="-0.78" y="0" font-size="19.57" fill="#000" stroke="#000" stroke-width="0.3" xml:space="preserve">0.0</text>
<line x1="817.7" y1="173.5" x2="822.5" y2="173.5" stroke="#000" stroke-width="1.1"/>
<text transform="translate(782.20 180.55) scale(1.0921 1)" x="-0.78" y="0" font-size="19.57" fill="#000" stroke="#000" stroke-width="0.3" xml:space="preserve">0.5</text>
<line x1="817.7" y1="94.5" x2="822.5" y2="94.5" stroke="#000" stroke-width="1.1"/>
<text transform="translate(782.70 101.40) scale(1.1064 1)" x="-1.57" y="0" font-size="19.57" fill="#000" stroke="#000" stroke-width="0.3" xml:space="preserve">1.0</text>
<text transform="translate(971.75 51.80) scale(1.0839 1)" x="-1.88" y="0" font-size="23.56" fill="#000" stroke="#000" stroke-width="0.3" xml:space="preserve">Pulse Time</text>
<text transform="translate(1004.70 494.80) scale(1.1153 1)" x="-0.20" y="0" font-size="20.14" fill="#000" stroke="#000" stroke-width="0.3" xml:space="preserve">x  (m)</text>
<text transform="translate(754.20 281.70) rotate(-90) scale(1.0847 1)" x="0.00" y="0" font-size="20.55" fill="#000" stroke="#000" stroke-width="0.3" xml:space="preserve">y  (m)</text>
<rect x="1271.5" y="60.5" width="20" height="385" fill="url(#gr)" stroke="#000" stroke-width="1.1"/>
<line x1="1291.5" y1="445.5" x2="1296.3" y2="445.5" stroke="#000" stroke-width="1.1"/>
<text transform="translate(1302.00 451.70) scale(1.1893 1)" x="-0.97" y="0" font-size="19.43" fill="#000" stroke="#000" stroke-width="0.3" xml:space="preserve">−20</text>
<line x1="1291.5" y1="396.5" x2="1296.3" y2="396.5" stroke="#000" stroke-width="1.1"/>
<text transform="translate(1302.00 403.64) scale(1.1606 1)" x="-0.99" y="0" font-size="19.71" fill="#000" stroke="#000" stroke-width="0.3" xml:space="preserve">−15</text>
<line x1="1291.5" y1="348.5" x2="1296.3" y2="348.5" stroke="#000" stroke-width="1.1"/>
<text transform="translate(1302.00 355.57) scale(1.1509 1)" x="-0.97" y="0" font-size="19.43" fill="#000" stroke="#000" stroke-width="0.3" xml:space="preserve">−10</text>
<line x1="1291.5" y1="300.5" x2="1296.3" y2="300.5" stroke="#000" stroke-width="1.1"/>
<text transform="translate(1302.00 307.51) scale(1.2176 1)" x="-0.99" y="0" font-size="19.71" fill="#000" stroke="#000" stroke-width="0.3" xml:space="preserve">−5</text>
<line x1="1291.5" y1="252.5" x2="1296.3" y2="252.5" stroke="#000" stroke-width="1.1"/>
<text transform="translate(1301.20 259.45) scale(1.0294 1)" x="-0.78" y="0" font-size="19.43" fill="#000" stroke="#000" stroke-width="0.3" xml:space="preserve">0</text>
<line x1="1291.5" y1="204.5" x2="1296.3" y2="204.5" stroke="#000" stroke-width="1.1"/>
<text transform="translate(1301.20 211.39) scale(1.0363 1)" x="-0.79" y="0" font-size="19.71" fill="#000" stroke="#000" stroke-width="0.3" xml:space="preserve">5</text>
<line x1="1291.5" y1="156.5" x2="1296.3" y2="156.5" stroke="#000" stroke-width="1.1"/>
<text transform="translate(1301.20 163.32) scale(1.0502 1)" x="-1.55" y="0" font-size="19.43" fill="#000" stroke="#000" stroke-width="0.3" xml:space="preserve">10</text>
<line x1="1291.5" y1="108.5" x2="1296.3" y2="108.5" stroke="#000" stroke-width="1.1"/>
<text transform="translate(1301.20 115.26) scale(1.0557 1)" x="-1.58" y="0" font-size="19.71" fill="#000" stroke="#000" stroke-width="0.3" xml:space="preserve">15</text>
<line x1="1291.5" y1="60.5" x2="1296.3" y2="60.5" stroke="#000" stroke-width="1.1"/>
<text transform="translate(1301.20 67.20) scale(1.0900 1)" x="-0.97" y="0" font-size="19.43" fill="#000" stroke="#000" stroke-width="0.3" xml:space="preserve">20</text>
</g></svg></body></html>
